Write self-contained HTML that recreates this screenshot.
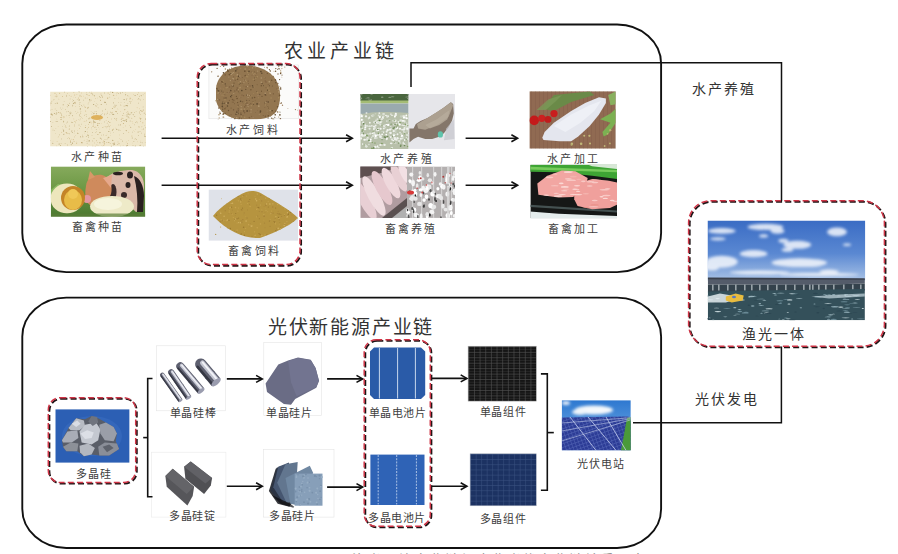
<!DOCTYPE html>
<html lang="zh-CN"><head><meta charset="utf-8"><style>
html,body{margin:0;padding:0;background:#fff;width:898px;height:554px;overflow:hidden}
svg{display:block;font-family:"Liberation Sans",sans-serif}
</style></head><body>
<svg width="898" height="554" viewBox="0 0 898 554">
<defs><clipPath id="c1"><rect x="50.1" y="91.5" width="95.9" height="55.099999999999994"/></clipPath><clipPath id="c2"><rect x="50.8" y="166.4" width="94.50000000000001" height="50.29999999999998"/></clipPath><linearGradient id="grass" x1="0" y1="0" x2="0" y2="1"><stop offset="0" stop-color="#86aa5c"/><stop offset="0.5" stop-color="#6a9642"/><stop offset="1" stop-color="#4a7830"/></linearGradient><clipPath id="c3"><rect x="208.4" y="64.4" width="90.4" height="54.8"/></clipPath><clipPath id="c4"><rect x="208.5" y="189.4" width="89.80000000000001" height="51.400000000000006"/></clipPath><clipPath id="pile2"><path d="M213,216 C220,207 236,196 246,192 C252,190 258,191 264,195 C276,202 290,210 298,218 C290,226 272,234 260,238 C246,239 228,232 213,216 Z"/></clipPath><clipPath id="c5"><rect x="360.3" y="94" width="94.80000000000001" height="54.900000000000006"/></clipPath><clipPath id="c6"><rect x="360.3" y="166.4" width="94.69999999999999" height="51.5"/></clipPath><clipPath id="c7"><rect x="529.4" y="91.2" width="86.30000000000007" height="57.499999999999986"/></clipPath><clipPath id="c8"><rect x="530.4" y="164.7" width="86.60000000000002" height="53.5"/></clipPath><clipPath id="meat"><polygon points="537.3,183.5 547.4,175.7 561.9,170.6 575.4,171.2 587.7,177.9 585.4,188.0 573.1,196.9 558.6,197.5 538.4,194.7"/><polygon points="574.2,193.6 580.9,182.4 592.1,179.0 608.9,180.7 617.0,182.4 617.0,204.8 610.0,208.1 592.1,209.2 577.6,205.9 574.2,199.2"/></clipPath><linearGradient id="sky1" x1="0" y1="0" x2="0" y2="1"><stop offset="0" stop-color="#3a6cc4"/><stop offset="0.55" stop-color="#5a88d2"/><stop offset="1" stop-color="#a8c2e6"/></linearGradient><filter id="bl1" x="-20%" y="-50%" width="140%" height="200%"><feGaussianBlur stdDeviation="1.8"/></filter><clipPath id="c9"><rect x="707.5" y="220.5" width="157.79999999999995" height="99.80000000000001"/></clipPath><clipPath id="c10"><rect x="55.3" y="409.2" width="74.3" height="53.60000000000002"/></clipPath><pattern id="mono" x="468.3" y="346.4" width="5.65" height="5.45" patternUnits="userSpaceOnUse"><rect width="5.65" height="5.45" fill="#151515"/><rect x="0" y="0" width="5.65" height="0.6" fill="#505050"/><rect x="0" y="2.7" width="5.65" height="0.4" fill="#3a3a3a"/><rect x="0" y="0" width="0.6" height="5.45" fill="#505050"/></pattern><clipPath id="c11"><rect x="561.7" y="400.2" width="69.09999999999991" height="50.19999999999999"/></clipPath><linearGradient id="sky2" x1="0" y1="0" x2="0" y2="1"><stop offset="0" stop-color="#2e78d0"/><stop offset="1" stop-color="#7cb4e8"/></linearGradient><pattern id="pv" x="0" y="0" width="3.5" height="3.5" patternUnits="userSpaceOnUse" patternTransform="rotate(-20)"><rect width="3.5" height="3.5" fill="#2c3c96"/><rect width="3.5" height="0.5" fill="#5668b8"/><rect width="0.5" height="3.5" fill="#5668b8"/></pattern><pattern id="poly" x="470.2" y="453.9" width="5.5" height="5.2" patternUnits="userSpaceOnUse"><rect width="5.5" height="5.2" fill="#1c3262"/><rect width="5.5" height="0.5" fill="#3a5282"/><rect width="0.5" height="5.2" fill="#3a5282"/></pattern></defs>
<rect width="898" height="554" fill="#fff"/>
<g clip-path="url(#c1)"><rect x="50.1" y="91.5" width="95.9" height="55.1" fill="#efe6ca"/><circle cx="93.4" cy="122.3" r="0.53" fill="#d4bc88"/><circle cx="93.4" cy="138.6" r="0.31" fill="#d4bc88"/><circle cx="110.5" cy="135.2" r="0.28" fill="#c4ac78"/><circle cx="63.6" cy="121.2" r="0.52" fill="#b8a470"/><circle cx="107.2" cy="113.3" r="0.39" fill="#a89460"/><circle cx="109.8" cy="137.3" r="0.27" fill="#b8a470"/><circle cx="68.3" cy="104.8" r="0.26" fill="#d4bc88"/><circle cx="81.3" cy="124.1" r="0.31" fill="#a89460"/><circle cx="111.5" cy="119.0" r="0.45" fill="#d4bc88"/><circle cx="112.9" cy="113.9" r="0.42" fill="#b8a470"/><circle cx="117.9" cy="108.9" r="0.32" fill="#c4ac78"/><circle cx="52.9" cy="122.5" r="0.28" fill="#b8a470"/><circle cx="131.3" cy="112.8" r="0.54" fill="#b8a470"/><circle cx="70.5" cy="142.6" r="0.27" fill="#d4bc88"/><circle cx="144.1" cy="113.4" r="0.27" fill="#a89460"/><circle cx="124.7" cy="106.4" r="0.28" fill="#c4ac78"/><circle cx="51.5" cy="114.1" r="0.53" fill="#a89460"/><circle cx="73.7" cy="97.1" r="0.27" fill="#d4bc88"/><circle cx="67.1" cy="122.3" r="0.38" fill="#a89460"/><circle cx="144.6" cy="133.9" r="0.38" fill="#d4bc88"/><circle cx="61.2" cy="114.7" r="0.31" fill="#c4ac78"/><circle cx="133.0" cy="145.2" r="0.43" fill="#b8a470"/><circle cx="70.2" cy="113.2" r="0.51" fill="#b8a470"/><circle cx="54.0" cy="99.6" r="0.38" fill="#b8a470"/><circle cx="124.2" cy="109.6" r="0.34" fill="#b8a470"/><circle cx="57.1" cy="103.0" r="0.44" fill="#b8a470"/><circle cx="107.7" cy="112.0" r="0.39" fill="#d4bc88"/><circle cx="129.9" cy="99.0" r="0.37" fill="#a89460"/><circle cx="79.8" cy="104.1" r="0.43" fill="#a89460"/><circle cx="65.2" cy="126.2" r="0.42" fill="#d4bc88"/><circle cx="134.7" cy="124.8" r="0.38" fill="#b8a470"/><circle cx="60.5" cy="119.7" r="0.33" fill="#d4bc88"/><circle cx="74.7" cy="136.9" r="0.43" fill="#c4ac78"/><circle cx="99.9" cy="142.7" r="0.54" fill="#a89460"/><circle cx="71.9" cy="122.3" r="0.51" fill="#b8a470"/><circle cx="76.9" cy="142.0" r="0.31" fill="#b8a470"/><circle cx="56.6" cy="114.2" r="0.32" fill="#b8a470"/><circle cx="66.9" cy="111.8" r="0.42" fill="#a89460"/><circle cx="58.9" cy="99.1" r="0.39" fill="#c4ac78"/><circle cx="113.1" cy="129.6" r="0.43" fill="#a89460"/><circle cx="106.6" cy="142.4" r="0.39" fill="#c4ac78"/><circle cx="117.3" cy="144.5" r="0.26" fill="#b8a470"/><circle cx="96.3" cy="131.8" r="0.35" fill="#b8a470"/><circle cx="57.2" cy="121.6" r="0.47" fill="#a89460"/><circle cx="126.2" cy="141.9" r="0.36" fill="#d4bc88"/><circle cx="136.5" cy="139.5" r="0.38" fill="#b8a470"/><circle cx="132.9" cy="123.1" r="0.44" fill="#d4bc88"/><circle cx="86.4" cy="92.2" r="0.27" fill="#b8a470"/><circle cx="111.4" cy="146.2" r="0.51" fill="#c4ac78"/><circle cx="87.3" cy="132.0" r="0.42" fill="#d4bc88"/><circle cx="94.4" cy="121.3" r="0.41" fill="#b8a470"/><circle cx="79.8" cy="96.3" r="0.26" fill="#b8a470"/><circle cx="97.7" cy="125.4" r="0.53" fill="#c4ac78"/><circle cx="136.1" cy="111.8" r="0.29" fill="#a89460"/><circle cx="99.8" cy="133.0" r="0.35" fill="#d4bc88"/><circle cx="97.8" cy="104.8" r="0.37" fill="#c4ac78"/><circle cx="69.1" cy="115.2" r="0.49" fill="#a89460"/><circle cx="134.5" cy="112.7" r="0.42" fill="#c4ac78"/><circle cx="70.1" cy="98.9" r="0.36" fill="#b8a470"/><circle cx="118.3" cy="143.8" r="0.33" fill="#a89460"/><circle cx="60.8" cy="117.5" r="0.53" fill="#d4bc88"/><circle cx="86.7" cy="120.2" r="0.45" fill="#d4bc88"/><circle cx="80.8" cy="137.2" r="0.33" fill="#b8a470"/><circle cx="115.1" cy="107.0" r="0.36" fill="#b8a470"/><circle cx="111.5" cy="113.8" r="0.31" fill="#c4ac78"/><circle cx="72.8" cy="99.3" r="0.26" fill="#b8a470"/><circle cx="92.9" cy="126.2" r="0.45" fill="#c4ac78"/><circle cx="142.0" cy="129.2" r="0.31" fill="#d4bc88"/><circle cx="74.6" cy="130.9" r="0.48" fill="#b8a470"/><circle cx="67.2" cy="106.5" r="0.35" fill="#a89460"/><circle cx="87.8" cy="135.1" r="0.52" fill="#b8a470"/><circle cx="89.4" cy="140.7" r="0.37" fill="#d4bc88"/><circle cx="93.5" cy="126.0" r="0.52" fill="#d4bc88"/><circle cx="102.8" cy="127.5" r="0.40" fill="#c4ac78"/><circle cx="94.5" cy="127.4" r="0.31" fill="#b8a470"/><circle cx="70.5" cy="141.1" r="0.54" fill="#c4ac78"/><circle cx="101.5" cy="135.1" r="0.35" fill="#b8a470"/><circle cx="83.5" cy="96.1" r="0.38" fill="#d4bc88"/><circle cx="123.8" cy="118.4" r="0.26" fill="#b8a470"/><circle cx="91.2" cy="93.4" r="0.41" fill="#a89460"/><circle cx="95.2" cy="146.6" r="0.52" fill="#d4bc88"/><circle cx="140.8" cy="118.6" r="0.53" fill="#b8a470"/><circle cx="122.8" cy="115.7" r="0.42" fill="#a89460"/><circle cx="100.2" cy="138.0" r="0.42" fill="#c4ac78"/><circle cx="114.4" cy="144.1" r="0.51" fill="#a89460"/><circle cx="79.2" cy="99.3" r="0.41" fill="#c4ac78"/><circle cx="105.0" cy="102.6" r="0.41" fill="#b8a470"/><circle cx="108.1" cy="93.0" r="0.54" fill="#d4bc88"/><circle cx="102.2" cy="146.0" r="0.29" fill="#b8a470"/><circle cx="116.3" cy="95.1" r="0.41" fill="#d4bc88"/><circle cx="138.4" cy="135.6" r="0.37" fill="#a89460"/><circle cx="95.4" cy="98.5" r="0.38" fill="#d4bc88"/><circle cx="100.4" cy="97.5" r="0.38" fill="#b8a470"/><circle cx="138.8" cy="98.6" r="0.48" fill="#b8a470"/><circle cx="53.4" cy="100.1" r="0.25" fill="#c4ac78"/><circle cx="80.9" cy="111.1" r="0.44" fill="#b8a470"/><circle cx="98.0" cy="123.6" r="0.51" fill="#c4ac78"/><circle cx="118.9" cy="130.1" r="0.51" fill="#b8a470"/><circle cx="86.1" cy="114.3" r="0.41" fill="#a89460"/><circle cx="101.7" cy="139.1" r="0.41" fill="#a89460"/><circle cx="100.8" cy="138.4" r="0.43" fill="#a89460"/><circle cx="72.3" cy="132.3" r="0.49" fill="#a89460"/><circle cx="80.3" cy="108.9" r="0.53" fill="#a89460"/><circle cx="124.7" cy="102.2" r="0.28" fill="#a89460"/><circle cx="62.7" cy="96.4" r="0.37" fill="#d4bc88"/><circle cx="129.9" cy="114.7" r="0.49" fill="#a89460"/><circle cx="69.3" cy="126.1" r="0.49" fill="#b8a470"/><circle cx="69.3" cy="129.1" r="0.52" fill="#c4ac78"/><circle cx="61.1" cy="119.4" r="0.48" fill="#a89460"/><circle cx="127.1" cy="118.1" r="0.26" fill="#d4bc88"/><circle cx="64.1" cy="101.7" r="0.31" fill="#a89460"/><circle cx="145.1" cy="142.6" r="0.28" fill="#b8a470"/><circle cx="62.9" cy="129.0" r="0.27" fill="#b8a470"/><circle cx="81.4" cy="117.2" r="0.40" fill="#d4bc88"/><circle cx="70.2" cy="112.1" r="0.44" fill="#b8a470"/><circle cx="131.0" cy="101.5" r="0.39" fill="#c4ac78"/><circle cx="88.9" cy="102.3" r="0.30" fill="#b8a470"/><circle cx="81.1" cy="96.2" r="0.50" fill="#d4bc88"/><circle cx="104.7" cy="102.0" r="0.43" fill="#c4ac78"/><circle cx="127.3" cy="105.7" r="0.52" fill="#a89460"/><circle cx="128.2" cy="113.9" r="0.52" fill="#c4ac78"/><circle cx="123.7" cy="133.7" r="0.37" fill="#a89460"/><circle cx="56.8" cy="110.3" r="0.39" fill="#b8a470"/><circle cx="135.3" cy="146.1" r="0.52" fill="#b8a470"/><circle cx="72.3" cy="143.6" r="0.45" fill="#c4ac78"/><circle cx="70.7" cy="113.9" r="0.30" fill="#b8a470"/><circle cx="87.4" cy="146.6" r="0.44" fill="#b8a470"/><circle cx="123.1" cy="145.5" r="0.26" fill="#b8a470"/><circle cx="120.9" cy="105.6" r="0.37" fill="#b8a470"/><circle cx="123.1" cy="127.2" r="0.25" fill="#c4ac78"/><circle cx="74.1" cy="141.4" r="0.42" fill="#d4bc88"/><circle cx="142.8" cy="122.8" r="0.55" fill="#d4bc88"/><circle cx="127.7" cy="95.7" r="0.43" fill="#b8a470"/><circle cx="87.1" cy="143.2" r="0.37" fill="#a89460"/><circle cx="132.1" cy="121.4" r="0.43" fill="#d4bc88"/><circle cx="140.7" cy="114.7" r="0.41" fill="#c4ac78"/><circle cx="85.1" cy="107.2" r="0.45" fill="#c4ac78"/><circle cx="113.7" cy="132.7" r="0.26" fill="#a89460"/><circle cx="106.2" cy="126.4" r="0.37" fill="#d4bc88"/><circle cx="55.1" cy="108.9" r="0.37" fill="#c4ac78"/><circle cx="57.1" cy="141.4" r="0.38" fill="#d4bc88"/><circle cx="74.1" cy="133.1" r="0.26" fill="#b8a470"/><circle cx="140.0" cy="131.3" r="0.39" fill="#a89460"/><circle cx="107.9" cy="97.8" r="0.44" fill="#d4bc88"/><circle cx="61.3" cy="138.9" r="0.36" fill="#a89460"/><circle cx="61.9" cy="115.9" r="0.45" fill="#d4bc88"/><circle cx="107.7" cy="126.7" r="0.45" fill="#c4ac78"/><circle cx="124.7" cy="120.7" r="0.55" fill="#c4ac78"/><circle cx="120.5" cy="104.6" r="0.28" fill="#c4ac78"/><circle cx="125.3" cy="125.9" r="0.36" fill="#c4ac78"/><circle cx="108.5" cy="131.5" r="0.46" fill="#a89460"/><circle cx="110.8" cy="133.0" r="0.31" fill="#a89460"/><circle cx="98.2" cy="127.5" r="0.31" fill="#b8a470"/><circle cx="110.3" cy="92.0" r="0.33" fill="#b8a470"/><circle cx="109.8" cy="97.1" r="0.41" fill="#b8a470"/><circle cx="122.6" cy="141.8" r="0.30" fill="#a89460"/><circle cx="110.6" cy="112.1" r="0.39" fill="#a89460"/><circle cx="82.5" cy="118.7" r="0.29" fill="#b8a470"/><circle cx="127.0" cy="116.1" r="0.50" fill="#a89460"/><circle cx="92.7" cy="132.7" r="0.37" fill="#a89460"/><circle cx="85.4" cy="127.5" r="0.55" fill="#c4ac78"/><circle cx="77.9" cy="133.3" r="0.50" fill="#a89460"/><circle cx="91.1" cy="111.8" r="0.28" fill="#c4ac78"/><circle cx="57.5" cy="96.1" r="0.42" fill="#d4bc88"/><circle cx="128.3" cy="117.0" r="0.50" fill="#b8a470"/><circle cx="57.3" cy="103.3" r="0.45" fill="#b8a470"/><circle cx="116.7" cy="118.8" r="0.48" fill="#c4ac78"/><circle cx="77.2" cy="99.4" r="0.36" fill="#c4ac78"/><circle cx="85.2" cy="98.0" r="0.46" fill="#c4ac78"/><circle cx="92.0" cy="135.7" r="0.34" fill="#c4ac78"/><circle cx="71.2" cy="144.8" r="0.47" fill="#a89460"/><circle cx="58.1" cy="137.2" r="0.26" fill="#d4bc88"/><circle cx="106.1" cy="135.4" r="0.47" fill="#c4ac78"/><circle cx="126.5" cy="121.3" r="0.50" fill="#a89460"/><circle cx="67.0" cy="133.3" r="0.51" fill="#c4ac78"/><circle cx="127.9" cy="103.7" r="0.27" fill="#a89460"/><circle cx="104.5" cy="144.7" r="0.45" fill="#d4bc88"/><circle cx="56.1" cy="121.6" r="0.49" fill="#b8a470"/><circle cx="82.1" cy="106.6" r="0.28" fill="#c4ac78"/><circle cx="58.1" cy="126.4" r="0.29" fill="#d4bc88"/><circle cx="73.6" cy="103.6" r="0.48" fill="#c4ac78"/><circle cx="123.4" cy="113.2" r="0.35" fill="#c4ac78"/><circle cx="114.5" cy="118.7" r="0.41" fill="#b8a470"/><circle cx="118.0" cy="141.9" r="0.37" fill="#c4ac78"/><circle cx="131.9" cy="135.9" r="0.50" fill="#d4bc88"/><circle cx="141.9" cy="126.8" r="0.41" fill="#b8a470"/><circle cx="127.0" cy="114.7" r="0.38" fill="#a89460"/><circle cx="73.6" cy="100.4" r="0.44" fill="#a89460"/><circle cx="80.8" cy="113.0" r="0.41" fill="#c4ac78"/><circle cx="143.1" cy="94.8" r="0.34" fill="#b8a470"/><circle cx="79.1" cy="100.1" r="0.53" fill="#b8a470"/><circle cx="122.3" cy="92.4" r="0.39" fill="#b8a470"/><circle cx="80.0" cy="102.4" r="0.36" fill="#a89460"/><circle cx="107.6" cy="117.5" r="0.40" fill="#d4bc88"/><circle cx="67.8" cy="107.0" r="0.30" fill="#c4ac78"/><circle cx="110.2" cy="143.4" r="0.42" fill="#c4ac78"/><circle cx="96.5" cy="113.7" r="0.54" fill="#b8a470"/><circle cx="96.3" cy="103.7" r="0.26" fill="#a89460"/><circle cx="126.9" cy="112.7" r="0.41" fill="#c4ac78"/><circle cx="125.6" cy="94.7" r="0.53" fill="#b8a470"/><circle cx="133.9" cy="141.4" r="0.39" fill="#a89460"/><circle cx="118.5" cy="124.9" r="0.30" fill="#a89460"/><circle cx="124.1" cy="99.5" r="0.52" fill="#a89460"/><circle cx="111.1" cy="146.2" r="0.33" fill="#b8a470"/><circle cx="64.5" cy="133.9" r="0.25" fill="#a89460"/><circle cx="128.9" cy="96.0" r="0.33" fill="#b8a470"/><circle cx="135.4" cy="129.7" r="0.27" fill="#c4ac78"/><circle cx="51.8" cy="101.8" r="0.31" fill="#b8a470"/><circle cx="125.0" cy="115.8" r="0.26" fill="#d4bc88"/><circle cx="100.5" cy="100.2" r="0.50" fill="#c4ac78"/><circle cx="80.3" cy="113.8" r="0.42" fill="#d4bc88"/><circle cx="114.0" cy="95.2" r="0.27" fill="#a89460"/><circle cx="60.2" cy="113.2" r="0.39" fill="#b8a470"/><circle cx="112.8" cy="92.2" r="0.36" fill="#d4bc88"/><circle cx="72.8" cy="122.6" r="0.39" fill="#b8a470"/><circle cx="132.2" cy="138.0" r="0.47" fill="#a89460"/><circle cx="77.9" cy="112.2" r="0.41" fill="#c4ac78"/><circle cx="141.6" cy="133.1" r="0.42" fill="#b8a470"/><circle cx="74.6" cy="102.5" r="0.47" fill="#c4ac78"/><circle cx="79.7" cy="106.6" r="0.39" fill="#c4ac78"/><circle cx="92.9" cy="112.6" r="0.28" fill="#b8a470"/><circle cx="62.6" cy="126.2" r="0.30" fill="#a89460"/><circle cx="88.6" cy="137.6" r="0.43" fill="#b8a470"/><circle cx="59.6" cy="93.3" r="0.55" fill="#d4bc88"/><circle cx="89.1" cy="95.5" r="0.53" fill="#d4bc88"/><circle cx="139.0" cy="99.2" r="0.31" fill="#a89460"/><circle cx="128.8" cy="112.8" r="0.35" fill="#d4bc88"/><circle cx="109.8" cy="131.6" r="0.43" fill="#c4ac78"/><circle cx="144.3" cy="135.0" r="0.45" fill="#b8a470"/><circle cx="75.0" cy="101.9" r="0.34" fill="#d4bc88"/><circle cx="60.2" cy="112.3" r="0.40" fill="#c4ac78"/><circle cx="129.2" cy="125.2" r="0.30" fill="#c4ac78"/><circle cx="102.6" cy="110.9" r="0.40" fill="#a89460"/><circle cx="105.1" cy="102.4" r="0.53" fill="#a89460"/><circle cx="104.5" cy="93.0" r="0.45" fill="#b8a470"/><circle cx="63.1" cy="117.8" r="0.38" fill="#c4ac78"/><circle cx="81.6" cy="142.7" r="0.36" fill="#d4bc88"/><circle cx="134.8" cy="116.4" r="0.47" fill="#a89460"/><circle cx="136.8" cy="121.4" r="0.42" fill="#c4ac78"/><circle cx="66.2" cy="132.6" r="0.52" fill="#c4ac78"/><circle cx="107.7" cy="98.3" r="0.50" fill="#c4ac78"/><circle cx="115.8" cy="111.5" r="0.48" fill="#c4ac78"/><circle cx="129.8" cy="101.7" r="0.41" fill="#b8a470"/><circle cx="93.6" cy="113.7" r="0.48" fill="#a89460"/><circle cx="79.5" cy="128.5" r="0.47" fill="#d4bc88"/><circle cx="109.1" cy="126.8" r="0.48" fill="#a89460"/><circle cx="69.2" cy="117.3" r="0.29" fill="#d4bc88"/><circle cx="61.4" cy="113.9" r="0.35" fill="#a89460"/><circle cx="75.3" cy="122.8" r="0.35" fill="#b8a470"/><circle cx="119.3" cy="134.9" r="0.37" fill="#d4bc88"/><circle cx="107.6" cy="117.4" r="0.37" fill="#d4bc88"/><circle cx="122.2" cy="118.3" r="0.55" fill="#d4bc88"/><circle cx="129.2" cy="98.0" r="0.28" fill="#c4ac78"/><circle cx="100.4" cy="115.3" r="0.52" fill="#c4ac78"/><circle cx="137.1" cy="107.8" r="0.43" fill="#d4bc88"/><circle cx="120.3" cy="124.4" r="0.48" fill="#c4ac78"/><circle cx="134.7" cy="139.8" r="0.32" fill="#d4bc88"/><circle cx="73.3" cy="139.6" r="0.54" fill="#d4bc88"/><circle cx="116.7" cy="120.5" r="0.32" fill="#c4ac78"/><circle cx="113.1" cy="143.3" r="0.51" fill="#c4ac78"/><circle cx="133.2" cy="114.7" r="0.49" fill="#a89460"/><circle cx="112.4" cy="114.7" r="0.29" fill="#b8a470"/><circle cx="59.5" cy="135.2" r="0.29" fill="#d4bc88"/><circle cx="50.1" cy="104.9" r="0.34" fill="#c4ac78"/><circle cx="66.5" cy="115.8" r="0.39" fill="#d4bc88"/><circle cx="63.6" cy="129.6" r="0.32" fill="#c4ac78"/><circle cx="53.0" cy="141.0" r="0.34" fill="#d4bc88"/><circle cx="63.7" cy="134.3" r="0.48" fill="#a89460"/><circle cx="69.5" cy="138.8" r="0.46" fill="#b8a470"/><circle cx="68.8" cy="137.7" r="0.36" fill="#d4bc88"/><circle cx="51.5" cy="126.5" r="0.46" fill="#a89460"/><circle cx="101.2" cy="104.5" r="0.53" fill="#b8a470"/><circle cx="112.4" cy="108.4" r="0.50" fill="#c4ac78"/><circle cx="133.5" cy="130.8" r="0.29" fill="#d4bc88"/><circle cx="89.9" cy="100.8" r="0.51" fill="#b8a470"/><circle cx="118.2" cy="102.3" r="0.30" fill="#a89460"/><circle cx="98.1" cy="107.8" r="0.33" fill="#b8a470"/><circle cx="106.6" cy="104.1" r="0.34" fill="#a89460"/><circle cx="114.0" cy="106.8" r="0.44" fill="#b8a470"/><circle cx="94.4" cy="95.7" r="0.53" fill="#b8a470"/><circle cx="101.0" cy="94.0" r="0.43" fill="#c4ac78"/><circle cx="101.6" cy="114.8" r="0.42" fill="#a89460"/><circle cx="77.4" cy="133.1" r="0.32" fill="#c4ac78"/><circle cx="120.5" cy="93.1" r="0.49" fill="#a89460"/><circle cx="144.8" cy="93.4" r="0.39" fill="#d4bc88"/><circle cx="50.3" cy="140.6" r="0.27" fill="#b8a470"/><circle cx="103.4" cy="127.0" r="0.36" fill="#d4bc88"/><circle cx="125.2" cy="120.0" r="0.40" fill="#a89460"/><circle cx="107.0" cy="134.0" r="0.28" fill="#d4bc88"/><circle cx="72.6" cy="115.8" r="0.48" fill="#a89460"/><circle cx="74.9" cy="121.5" r="0.51" fill="#d4bc88"/><circle cx="75.1" cy="102.7" r="0.54" fill="#b8a470"/><circle cx="105.0" cy="139.6" r="0.30" fill="#a89460"/><circle cx="108.4" cy="125.0" r="0.49" fill="#d4bc88"/><circle cx="119.4" cy="138.7" r="0.26" fill="#b8a470"/><circle cx="137.1" cy="122.8" r="0.41" fill="#a89460"/><circle cx="109.8" cy="94.5" r="0.38" fill="#c4ac78"/><circle cx="128.7" cy="132.2" r="0.48" fill="#d4bc88"/><circle cx="58.5" cy="136.7" r="0.30" fill="#c4ac78"/><circle cx="73.8" cy="118.9" r="0.45" fill="#d4bc88"/><circle cx="55.9" cy="114.1" r="0.36" fill="#a89460"/><circle cx="117.6" cy="144.2" r="0.29" fill="#a89460"/><circle cx="63.9" cy="116.6" r="0.47" fill="#b8a470"/><circle cx="50.3" cy="114.1" r="0.41" fill="#b8a470"/><circle cx="87.7" cy="107.9" r="0.38" fill="#b8a470"/><circle cx="143.3" cy="129.0" r="0.47" fill="#a89460"/><circle cx="78.4" cy="98.0" r="0.51" fill="#d4bc88"/><circle cx="94.3" cy="142.9" r="0.36" fill="#c4ac78"/><circle cx="140.9" cy="142.4" r="0.32" fill="#a89460"/><circle cx="88.7" cy="127.3" r="0.27" fill="#c4ac78"/><circle cx="104.5" cy="141.8" r="0.52" fill="#a89460"/><circle cx="94.4" cy="113.2" r="0.50" fill="#d4bc88"/><circle cx="86.4" cy="94.2" r="0.38" fill="#a89460"/><circle cx="67.6" cy="121.8" r="0.30" fill="#a89460"/><circle cx="88.4" cy="124.2" r="0.48" fill="#d4bc88"/><circle cx="92.9" cy="146.2" r="0.45" fill="#d4bc88"/><circle cx="69.6" cy="112.6" r="0.27" fill="#c4ac78"/><circle cx="84.8" cy="106.6" r="0.26" fill="#a89460"/><circle cx="121.2" cy="119.7" r="0.42" fill="#a89460"/><circle cx="75.8" cy="111.4" r="0.30" fill="#c4ac78"/><circle cx="63.2" cy="104.8" r="0.50" fill="#b8a470"/><circle cx="52.0" cy="109.2" r="0.37" fill="#b8a470"/><circle cx="132.0" cy="112.5" r="0.33" fill="#b8a470"/><circle cx="79.0" cy="125.0" r="0.40" fill="#a89460"/><circle cx="64.5" cy="124.3" r="0.26" fill="#c4ac78"/><circle cx="89.4" cy="117.9" r="0.46" fill="#c4ac78"/><circle cx="80.1" cy="116.4" r="0.36" fill="#a89460"/><circle cx="130.1" cy="121.0" r="0.38" fill="#a89460"/><circle cx="87.1" cy="139.2" r="0.32" fill="#c4ac78"/><circle cx="85.6" cy="125.2" r="0.29" fill="#b8a470"/><circle cx="121.7" cy="118.1" r="0.25" fill="#c4ac78"/><circle cx="113.4" cy="95.2" r="0.51" fill="#c4ac78"/><circle cx="114.0" cy="144.1" r="0.51" fill="#a89460"/><circle cx="125.2" cy="105.8" r="0.49" fill="#b8a470"/><circle cx="87.7" cy="94.8" r="0.37" fill="#c4ac78"/><circle cx="77.3" cy="130.3" r="0.32" fill="#d4bc88"/><circle cx="69.4" cy="133.8" r="0.36" fill="#a89460"/><circle cx="100.0" cy="132.4" r="0.52" fill="#a89460"/><circle cx="95.9" cy="105.7" r="0.51" fill="#c4ac78"/><circle cx="117.2" cy="92.8" r="0.37" fill="#c4ac78"/><circle cx="137.3" cy="141.8" r="0.33" fill="#d4bc88"/><circle cx="97.6" cy="123.8" r="0.39" fill="#c4ac78"/><circle cx="135.1" cy="95.5" r="0.26" fill="#c4ac78"/><circle cx="135.6" cy="122.7" r="0.33" fill="#a89460"/><circle cx="111.7" cy="112.7" r="0.35" fill="#c4ac78"/><circle cx="53.0" cy="130.5" r="0.31" fill="#b8a470"/><circle cx="110.2" cy="125.7" r="0.37" fill="#d4bc88"/><circle cx="56.1" cy="95.3" r="0.39" fill="#d4bc88"/><circle cx="86.7" cy="141.6" r="0.26" fill="#a89460"/><circle cx="115.6" cy="106.5" r="0.40" fill="#d4bc88"/><circle cx="143.8" cy="99.8" r="0.31" fill="#a89460"/><circle cx="74.8" cy="103.6" r="0.41" fill="#d4bc88"/><circle cx="50.3" cy="121.6" r="0.50" fill="#b8a470"/><circle cx="109.9" cy="122.4" r="0.50" fill="#c4ac78"/><circle cx="75.4" cy="97.2" r="0.26" fill="#a89460"/><circle cx="116.8" cy="129.3" r="0.54" fill="#a89460"/><circle cx="65.3" cy="125.8" r="0.40" fill="#c4ac78"/><circle cx="85.5" cy="107.2" r="0.47" fill="#d4bc88"/><circle cx="72.8" cy="105.2" r="0.35" fill="#a89460"/><circle cx="138.1" cy="132.1" r="0.51" fill="#b8a470"/><circle cx="128.5" cy="140.3" r="0.34" fill="#d4bc88"/><circle cx="99.2" cy="128.9" r="0.26" fill="#d4bc88"/><circle cx="133.5" cy="94.4" r="0.33" fill="#d4bc88"/><circle cx="74.3" cy="126.5" r="0.36" fill="#c4ac78"/><circle cx="67.6" cy="138.7" r="0.31" fill="#a89460"/><circle cx="104.5" cy="114.7" r="0.46" fill="#c4ac78"/><circle cx="126.9" cy="98.4" r="0.36" fill="#c4ac78"/><circle cx="72.2" cy="101.7" r="0.25" fill="#a89460"/><circle cx="75.7" cy="106.4" r="0.33" fill="#d4bc88"/><circle cx="87.1" cy="128.9" r="0.29" fill="#a89460"/><circle cx="118.5" cy="98.0" r="0.26" fill="#c4ac78"/><circle cx="84.2" cy="121.2" r="0.49" fill="#d4bc88"/><circle cx="81.7" cy="93.0" r="0.41" fill="#d4bc88"/><circle cx="66.4" cy="95.2" r="0.38" fill="#c4ac78"/><circle cx="71.5" cy="131.3" r="0.37" fill="#a89460"/><circle cx="144.2" cy="113.0" r="0.46" fill="#c4ac78"/><circle cx="126.8" cy="99.6" r="0.30" fill="#b8a470"/><circle cx="103.4" cy="140.9" r="0.51" fill="#d4bc88"/><circle cx="61.6" cy="109.3" r="0.26" fill="#a89460"/><circle cx="76.3" cy="113.5" r="0.35" fill="#b8a470"/><circle cx="96.3" cy="111.7" r="0.33" fill="#b8a470"/><circle cx="64.6" cy="91.9" r="0.48" fill="#b8a470"/><circle cx="50.4" cy="110.0" r="0.29" fill="#a89460"/><circle cx="145.2" cy="114.0" r="0.26" fill="#c4ac78"/><circle cx="127.5" cy="113.3" r="0.27" fill="#c4ac78"/><circle cx="76.6" cy="143.2" r="0.51" fill="#d4bc88"/><circle cx="104.8" cy="143.3" r="0.26" fill="#b8a470"/><circle cx="140.7" cy="121.2" r="0.45" fill="#c4ac78"/><circle cx="84.5" cy="133.0" r="0.34" fill="#d4bc88"/><circle cx="51.0" cy="103.1" r="0.54" fill="#b8a470"/><circle cx="123.6" cy="106.1" r="0.32" fill="#d4bc88"/><circle cx="88.3" cy="135.7" r="0.50" fill="#b8a470"/><circle cx="139.9" cy="118.1" r="0.50" fill="#d4bc88"/><circle cx="74.0" cy="141.6" r="0.26" fill="#a89460"/><circle cx="71.8" cy="112.9" r="0.36" fill="#c4ac78"/><circle cx="127.8" cy="111.6" r="0.44" fill="#c4ac78"/><circle cx="80.0" cy="95.2" r="0.45" fill="#b8a470"/><circle cx="75.4" cy="103.3" r="0.30" fill="#b8a470"/><circle cx="121.3" cy="121.6" r="0.45" fill="#a89460"/><circle cx="83.4" cy="100.1" r="0.36" fill="#a89460"/><circle cx="91.4" cy="92.0" r="0.40" fill="#d4bc88"/><circle cx="59.1" cy="143.9" r="0.50" fill="#a89460"/><circle cx="52.0" cy="101.1" r="0.27" fill="#b8a470"/><circle cx="105.6" cy="109.2" r="0.39" fill="#a89460"/><circle cx="97.9" cy="134.5" r="0.52" fill="#c4ac78"/><circle cx="56.7" cy="113.0" r="0.53" fill="#a89460"/><circle cx="124.7" cy="120.4" r="0.25" fill="#d4bc88"/><circle cx="137.5" cy="94.5" r="0.43" fill="#c4ac78"/><circle cx="135.2" cy="138.7" r="0.44" fill="#b8a470"/><circle cx="61.7" cy="132.2" r="0.47" fill="#d4bc88"/><circle cx="113.9" cy="114.6" r="0.37" fill="#a89460"/><circle cx="86.0" cy="121.3" r="0.26" fill="#b8a470"/><circle cx="100.7" cy="116.4" r="0.34" fill="#b8a470"/><circle cx="107.1" cy="142.8" r="0.30" fill="#d4bc88"/><circle cx="81.5" cy="105.6" r="0.44" fill="#a89460"/><circle cx="120.7" cy="146.0" r="0.37" fill="#a89460"/><circle cx="122.3" cy="140.9" r="0.28" fill="#a89460"/><circle cx="130.7" cy="127.3" r="0.53" fill="#b8a470"/><circle cx="126.6" cy="119.7" r="0.55" fill="#b8a470"/><circle cx="67.8" cy="93.6" r="0.35" fill="#c4ac78"/><circle cx="93.6" cy="121.1" r="0.51" fill="#a89460"/><circle cx="96.9" cy="144.5" r="0.32" fill="#b8a470"/><circle cx="103.3" cy="134.9" r="0.40" fill="#a89460"/><circle cx="56.9" cy="118.9" r="0.27" fill="#b8a470"/><circle cx="126.5" cy="99.9" r="0.36" fill="#b8a470"/><circle cx="82.0" cy="142.7" r="0.54" fill="#a89460"/><circle cx="130.1" cy="98.0" r="0.30" fill="#d4bc88"/><circle cx="53.0" cy="129.1" r="0.39" fill="#d4bc88"/><circle cx="56.9" cy="145.9" r="0.31" fill="#c4ac78"/><circle cx="134.2" cy="131.6" r="0.31" fill="#d4bc88"/><circle cx="86.3" cy="136.5" r="0.46" fill="#c4ac78"/><circle cx="113.2" cy="103.0" r="0.31" fill="#a89460"/><circle cx="66.5" cy="123.5" r="0.26" fill="#c4ac78"/><circle cx="61.1" cy="143.4" r="0.43" fill="#c4ac78"/><circle cx="79.5" cy="91.9" r="0.27" fill="#a89460"/><circle cx="120.7" cy="111.4" r="0.34" fill="#d4bc88"/><circle cx="69.2" cy="95.4" r="0.33" fill="#c4ac78"/><circle cx="128.7" cy="114.0" r="0.39" fill="#b8a470"/><circle cx="140.4" cy="110.6" r="0.46" fill="#a89460"/><circle cx="97.3" cy="98.0" r="0.29" fill="#c4ac78"/><circle cx="141.4" cy="95.8" r="0.44" fill="#a89460"/><circle cx="139.6" cy="112.9" r="0.47" fill="#a89460"/><circle cx="93.0" cy="95.0" r="0.38" fill="#c4ac78"/><circle cx="106.1" cy="127.8" r="0.33" fill="#b8a470"/><circle cx="114.5" cy="105.0" r="0.37" fill="#a89460"/><circle cx="107.0" cy="139.2" r="0.37" fill="#c4ac78"/><circle cx="82.8" cy="136.7" r="0.51" fill="#b8a470"/><circle cx="102.4" cy="97.0" r="0.52" fill="#b8a470"/><circle cx="125.8" cy="92.4" r="0.26" fill="#c4ac78"/><circle cx="145.0" cy="136.4" r="0.51" fill="#a89460"/><circle cx="95.0" cy="111.4" r="0.39" fill="#c4ac78"/><circle cx="96.0" cy="127.4" r="0.27" fill="#a89460"/><circle cx="143.7" cy="146.2" r="0.37" fill="#a89460"/><circle cx="112.4" cy="130.1" r="0.55" fill="#b8a470"/><circle cx="146.0" cy="127.7" r="0.49" fill="#a89460"/><circle cx="99.7" cy="123.7" r="0.40" fill="#a89460"/><circle cx="99.5" cy="96.8" r="0.49" fill="#b8a470"/><circle cx="66.0" cy="127.3" r="0.44" fill="#c4ac78"/><circle cx="113.7" cy="144.9" r="0.39" fill="#b8a470"/><circle cx="91.6" cy="100.1" r="0.36" fill="#c4ac78"/><circle cx="140.7" cy="140.9" r="0.26" fill="#c4ac78"/><circle cx="89.6" cy="122.4" r="0.54" fill="#b8a470"/><circle cx="78.9" cy="119.5" r="0.29" fill="#a89460"/><circle cx="62.5" cy="96.4" r="0.40" fill="#c4ac78"/><circle cx="83.9" cy="105.0" r="0.43" fill="#d4bc88"/><circle cx="55.2" cy="103.5" r="0.39" fill="#b8a470"/><circle cx="94.1" cy="138.4" r="0.28" fill="#a89460"/><circle cx="63.8" cy="122.6" r="0.30" fill="#b8a470"/><circle cx="89.7" cy="92.1" r="0.30" fill="#b8a470"/><circle cx="120.5" cy="130.8" r="0.30" fill="#b8a470"/><circle cx="88.9" cy="118.7" r="0.52" fill="#b8a470"/><circle cx="87.4" cy="108.0" r="0.31" fill="#b8a470"/><circle cx="113.1" cy="114.6" r="0.52" fill="#a89460"/><circle cx="112.8" cy="140.4" r="0.53" fill="#b8a470"/><circle cx="87.9" cy="108.0" r="0.47" fill="#c4ac78"/><circle cx="71.1" cy="96.2" r="0.49" fill="#d4bc88"/><circle cx="84.4" cy="115.2" r="0.39" fill="#b8a470"/><circle cx="79.9" cy="120.8" r="0.30" fill="#d4bc88"/><circle cx="102.6" cy="113.5" r="0.32" fill="#b8a470"/><circle cx="118.5" cy="93.3" r="0.36" fill="#a89460"/><circle cx="99.9" cy="120.5" r="0.47" fill="#c4ac78"/><circle cx="89.0" cy="144.7" r="0.25" fill="#c4ac78"/><circle cx="142.2" cy="111.6" r="0.43" fill="#c4ac78"/><circle cx="130.6" cy="103.1" r="0.48" fill="#b8a470"/><circle cx="80.3" cy="118.9" r="0.40" fill="#c4ac78"/><circle cx="55.1" cy="96.6" r="0.33" fill="#c4ac78"/><circle cx="127.5" cy="143.5" r="0.44" fill="#c4ac78"/><circle cx="88.6" cy="107.2" r="0.45" fill="#b8a470"/><circle cx="88.1" cy="103.9" r="0.33" fill="#b8a470"/><circle cx="80.5" cy="136.6" r="0.49" fill="#c4ac78"/><circle cx="55.4" cy="133.6" r="0.26" fill="#b8a470"/><circle cx="103.0" cy="142.6" r="0.44" fill="#b8a470"/><circle cx="109.2" cy="129.1" r="0.31" fill="#b8a470"/><circle cx="129.1" cy="117.9" r="0.35" fill="#b8a470"/><circle cx="66.6" cy="96.1" r="0.46" fill="#a89460"/><circle cx="86.3" cy="116.2" r="0.38" fill="#b8a470"/><circle cx="92.7" cy="140.9" r="0.47" fill="#b8a470"/><circle cx="141.8" cy="111.1" r="0.50" fill="#b8a470"/><circle cx="117.5" cy="113.4" r="0.46" fill="#b8a470"/><circle cx="138.5" cy="103.1" r="0.37" fill="#a89460"/><circle cx="130.6" cy="98.3" r="0.51" fill="#d4bc88"/><circle cx="89.1" cy="140.9" r="0.53" fill="#a89460"/><circle cx="114.7" cy="142.6" r="0.40" fill="#d4bc88"/><circle cx="99.1" cy="118.0" r="0.41" fill="#a89460"/><circle cx="124.2" cy="109.4" r="0.25" fill="#a89460"/><circle cx="112.5" cy="112.3" r="0.49" fill="#d4bc88"/><circle cx="93.5" cy="123.9" r="0.39" fill="#a89460"/><circle cx="96.1" cy="145.5" r="0.35" fill="#d4bc88"/><circle cx="72.4" cy="105.9" r="0.47" fill="#b8a470"/><circle cx="74.7" cy="95.0" r="0.50" fill="#d4bc88"/><circle cx="73.4" cy="103.3" r="0.52" fill="#b8a470"/><circle cx="103.7" cy="145.3" r="0.52" fill="#d4bc88"/><circle cx="87.1" cy="98.0" r="0.31" fill="#b8a470"/><circle cx="115.2" cy="119.1" r="0.30" fill="#c4ac78"/><circle cx="104.5" cy="121.9" r="0.35" fill="#a89460"/><circle cx="92.9" cy="145.0" r="0.36" fill="#c4ac78"/><circle cx="59.4" cy="134.7" r="0.32" fill="#a89460"/><circle cx="132.7" cy="132.1" r="0.35" fill="#a89460"/><circle cx="123.4" cy="123.6" r="0.52" fill="#c4ac78"/><circle cx="116.2" cy="111.6" r="0.54" fill="#c4ac78"/><circle cx="108.4" cy="137.3" r="0.54" fill="#b8a470"/><circle cx="73.9" cy="92.6" r="0.41" fill="#c4ac78"/><circle cx="114.1" cy="107.3" r="0.42" fill="#c4ac78"/><circle cx="96.5" cy="106.5" r="0.34" fill="#c4ac78"/><circle cx="140.6" cy="99.9" r="0.37" fill="#a89460"/><circle cx="108.5" cy="121.5" r="0.47" fill="#c4ac78"/><circle cx="79.4" cy="115.0" r="0.48" fill="#a89460"/><circle cx="96.2" cy="129.3" r="0.35" fill="#a89460"/><circle cx="140.6" cy="119.4" r="0.42" fill="#c4ac78"/><circle cx="135.0" cy="95.7" r="0.41" fill="#b8a470"/><circle cx="79.0" cy="91.6" r="0.53" fill="#b8a470"/><circle cx="68.7" cy="111.7" r="0.36" fill="#a89460"/><circle cx="55.9" cy="128.2" r="0.27" fill="#b8a470"/><circle cx="89.7" cy="99.4" r="0.52" fill="#b8a470"/><circle cx="91.9" cy="128.9" r="0.28" fill="#c4ac78"/><circle cx="108.8" cy="142.5" r="0.51" fill="#b8a470"/><circle cx="90.1" cy="118.3" r="0.27" fill="#d4bc88"/><circle cx="52.8" cy="143.3" r="0.52" fill="#b8a470"/><circle cx="62.9" cy="108.0" r="0.35" fill="#c4ac78"/><circle cx="140.1" cy="145.3" r="0.53" fill="#a89460"/><circle cx="132.4" cy="143.0" r="0.26" fill="#d4bc88"/><circle cx="126.4" cy="146.4" r="0.42" fill="#c4ac78"/><circle cx="139.6" cy="96.3" r="0.41" fill="#b8a470"/><circle cx="60.5" cy="107.9" r="0.34" fill="#b8a470"/><circle cx="89.8" cy="99.7" r="0.31" fill="#b8a470"/><circle cx="50.1" cy="95.2" r="0.49" fill="#d4bc88"/><circle cx="130.0" cy="114.0" r="0.35" fill="#c4ac78"/><circle cx="87.6" cy="141.0" r="0.32" fill="#b8a470"/><circle cx="106.2" cy="120.5" r="0.35" fill="#c4ac78"/><circle cx="93.7" cy="104.4" r="0.51" fill="#a89460"/><circle cx="69.3" cy="103.2" r="0.39" fill="#a89460"/><circle cx="125.2" cy="109.8" r="0.32" fill="#c4ac78"/><circle cx="107.2" cy="123.1" r="0.42" fill="#b8a470"/><circle cx="67.7" cy="104.3" r="0.34" fill="#c4ac78"/><circle cx="121.0" cy="102.8" r="0.26" fill="#a89460"/><circle cx="101.8" cy="95.8" r="0.48" fill="#a89460"/><circle cx="92.4" cy="94.0" r="0.42" fill="#a89460"/><circle cx="85.6" cy="111.1" r="0.52" fill="#d4bc88"/><circle cx="146.0" cy="114.6" r="0.45" fill="#a89460"/><circle cx="82.5" cy="135.1" r="0.36" fill="#c4ac78"/><circle cx="104.0" cy="143.5" r="0.27" fill="#b8a470"/><circle cx="55.0" cy="93.3" r="0.54" fill="#d4bc88"/><circle cx="137.8" cy="99.4" r="0.31" fill="#d4bc88"/><circle cx="142.2" cy="142.8" r="0.35" fill="#a89460"/><circle cx="63.6" cy="130.9" r="0.53" fill="#a89460"/><circle cx="72.8" cy="130.2" r="0.32" fill="#d4bc88"/><circle cx="85.3" cy="131.5" r="0.53" fill="#a89460"/><circle cx="140.1" cy="95.4" r="0.31" fill="#c4ac78"/><circle cx="114.9" cy="98.3" r="0.35" fill="#b8a470"/><circle cx="76.3" cy="120.3" r="0.49" fill="#d4bc88"/><circle cx="123.2" cy="120.5" r="0.53" fill="#b8a470"/><circle cx="112.7" cy="92.4" r="0.53" fill="#a89460"/><circle cx="65.4" cy="109.7" r="0.42" fill="#c4ac78"/><circle cx="96.4" cy="140.7" r="0.43" fill="#c4ac78"/><circle cx="107.9" cy="138.1" r="0.39" fill="#a89460"/><circle cx="64.1" cy="117.3" r="0.45" fill="#d4bc88"/><circle cx="123.2" cy="113.6" r="0.27" fill="#a89460"/><circle cx="54.4" cy="113.6" r="0.50" fill="#b8a470"/><circle cx="52.3" cy="114.9" r="0.54" fill="#b8a470"/><circle cx="94.6" cy="101.6" r="0.25" fill="#c4ac78"/><circle cx="143.3" cy="110.0" r="0.50" fill="#c4ac78"/><circle cx="116.0" cy="105.3" r="0.47" fill="#a89460"/><circle cx="84.2" cy="140.2" r="0.42" fill="#d4bc88"/><circle cx="91.2" cy="123.8" r="0.33" fill="#d4bc88"/><circle cx="72.4" cy="143.1" r="0.51" fill="#a89460"/><circle cx="95.0" cy="122.4" r="0.53" fill="#a89460"/><circle cx="139.6" cy="108.8" r="0.42" fill="#d4bc88"/><circle cx="65.1" cy="143.7" r="0.34" fill="#b8a470"/><circle cx="110.9" cy="91.7" r="0.39" fill="#b8a470"/><circle cx="97.7" cy="142.3" r="0.40" fill="#d4bc88"/><circle cx="115.8" cy="128.0" r="0.37" fill="#d4bc88"/><circle cx="105.1" cy="126.3" r="0.39" fill="#b8a470"/><circle cx="80.7" cy="126.7" r="0.27" fill="#a89460"/><circle cx="143.1" cy="106.9" r="0.38" fill="#b8a470"/><circle cx="76.9" cy="94.3" r="0.42" fill="#d4bc88"/><circle cx="126.6" cy="105.5" r="0.52" fill="#b8a470"/><circle cx="90.9" cy="122.1" r="0.53" fill="#d4bc88"/><circle cx="132.5" cy="99.8" r="0.34" fill="#c4ac78"/><circle cx="138.9" cy="127.1" r="0.46" fill="#d4bc88"/><circle cx="127.1" cy="145.4" r="0.53" fill="#a89460"/><circle cx="126.6" cy="130.7" r="0.49" fill="#a89460"/><circle cx="61.3" cy="117.7" r="0.46" fill="#b8a470"/><circle cx="138.3" cy="92.8" r="0.40" fill="#c4ac78"/><circle cx="95.2" cy="127.0" r="0.45" fill="#d4bc88"/><circle cx="139.5" cy="127.0" r="0.27" fill="#a89460"/><circle cx="60.5" cy="145.6" r="0.51" fill="#c4ac78"/><circle cx="74.4" cy="125.1" r="0.48" fill="#c4ac78"/><circle cx="144.6" cy="125.8" r="0.29" fill="#b8a470"/><circle cx="91.9" cy="114.0" r="0.37" fill="#b8a470"/><circle cx="104.6" cy="143.5" r="0.44" fill="#d4bc88"/><circle cx="71.6" cy="130.7" r="0.26" fill="#a89460"/><circle cx="98.0" cy="145.5" r="0.32" fill="#b8a470"/><circle cx="116.7" cy="119.9" r="0.34" fill="#c4ac78"/><circle cx="116.3" cy="93.0" r="0.33" fill="#b8a470"/><circle cx="81.7" cy="142.6" r="0.52" fill="#c4ac78"/><circle cx="101.2" cy="123.5" r="0.34" fill="#d4bc88"/><circle cx="124.3" cy="109.9" r="0.33" fill="#d4bc88"/><circle cx="56.3" cy="96.8" r="0.46" fill="#b8a470"/><circle cx="95.4" cy="132.5" r="0.32" fill="#a89460"/><circle cx="139.5" cy="111.6" r="0.38" fill="#d4bc88"/><circle cx="56.7" cy="94.4" r="0.36" fill="#d4bc88"/><circle cx="70.7" cy="142.2" r="0.49" fill="#b8a470"/><circle cx="61.7" cy="115.4" r="0.46" fill="#c4ac78"/><circle cx="106.3" cy="114.6" r="0.25" fill="#b8a470"/><circle cx="68.2" cy="133.7" r="0.27" fill="#a89460"/><circle cx="67.6" cy="144.9" r="0.49" fill="#c4ac78"/><circle cx="75.7" cy="135.4" r="0.26" fill="#b8a470"/><circle cx="93.8" cy="115.3" r="0.28" fill="#d4bc88"/><circle cx="68.6" cy="105.4" r="0.52" fill="#b8a470"/><circle cx="50.2" cy="117.1" r="0.43" fill="#a89460"/><circle cx="145.5" cy="119.0" r="0.49" fill="#a89460"/><circle cx="88.7" cy="127.3" r="0.45" fill="#d4bc88"/><circle cx="54.5" cy="130.6" r="0.29" fill="#b8a470"/><circle cx="104.8" cy="113.7" r="0.36" fill="#d4bc88"/><circle cx="120.1" cy="125.6" r="0.31" fill="#a89460"/><circle cx="131.8" cy="118.3" r="0.43" fill="#c4ac78"/><circle cx="138.9" cy="126.7" r="0.35" fill="#b8a470"/><circle cx="71.2" cy="139.2" r="0.40" fill="#d4bc88"/><circle cx="121.0" cy="139.4" r="0.31" fill="#b8a470"/><circle cx="126.0" cy="130.5" r="0.38" fill="#c4ac78"/><circle cx="113.6" cy="102.8" r="0.38" fill="#a89460"/><circle cx="109.9" cy="114.2" r="0.34" fill="#b8a470"/><circle cx="93.7" cy="117.6" r="0.51" fill="#d4bc88"/><circle cx="113.3" cy="128.9" r="0.40" fill="#d4bc88"/><circle cx="135.1" cy="95.6" r="0.32" fill="#a89460"/><circle cx="119.5" cy="143.8" r="0.45" fill="#d4bc88"/><circle cx="91.8" cy="127.5" r="0.32" fill="#b8a470"/><circle cx="101.8" cy="145.5" r="0.35" fill="#d4bc88"/><circle cx="51.6" cy="114.4" r="0.48" fill="#c4ac78"/><circle cx="58.7" cy="112.4" r="0.51" fill="#c4ac78"/><ellipse cx="97" cy="117.5" rx="6" ry="2.6" fill="#dca84a" opacity="0.85"/></g><g clip-path="url(#c2)"><rect x="50.8" y="166.4" width="94.5" height="50.3" fill="url(#grass)"/><polygon points="50.8,190 58,184 68,186 58,196 50.8,198" fill="#8ab860"/><path d="M106,178 C112,172 122,170 132,170 C140,171 144,178 144,186 L143,210 L136,212 C130,206 122,202 114,200 Z" fill="#dab8a8"/><path d="M134,176 C140,178 144,186 144,196 L143,212 L137,212 C138,200 137,188 134,176 Z" fill="#2a2020"/><ellipse cx="118" cy="173.5" rx="5" ry="1.8" fill="#2a2020"/><ellipse cx="130" cy="175" rx="3" ry="3.5" fill="#2a2020"/><ellipse cx="128" cy="185" rx="2.5" ry="3" fill="#2a2020"/><ellipse cx="124" cy="195" rx="3" ry="3" fill="#3a2a2a"/><ellipse cx="113" cy="192" rx="3.5" ry="8" fill="#3a2a2a"/><path d="M86,186 C87,178 94,174 102,175 C110,177 113,186 111,194 C108,202 100,207 92,206 C86,204 84,196 86,186 Z" fill="#cf8a5c"/><polygon points="88,180 90,171 95,177" fill="#d89868"/><polygon points="103,178 112,175 111,188" fill="#e6a88c"/><ellipse cx="87" cy="199" rx="4" ry="4" fill="#e498a0"/><ellipse cx="67" cy="198.5" rx="16.5" ry="15" fill="#ede6bc"/><ellipse cx="73" cy="198" rx="12" ry="12" fill="#c48428"/><ellipse cx="73" cy="200" rx="9" ry="10" fill="#e8bc48"/><ellipse cx="73" cy="194" rx="5" ry="5" fill="#f0c858"/><ellipse cx="112" cy="206.5" rx="22" ry="10.5" fill="#eeeac8"/><ellipse cx="108" cy="204" rx="14" ry="6" fill="#f6f4dc"/><rect x="50.8" y="213.5" width="94.5" height="4" fill="#5a7e38" opacity="0.7"/></g><g clip-path="url(#c3)"><rect x="208.4" y="64.4" width="90.4" height="54.8" fill="#fbfbfa"/><rect x="208.8" y="64.8" width="89.6" height="54" fill="none" stroke="#e4e4e4" stroke-width="0.8"/><path d="M216,90 C216,78 226,68 240,66 C256,64 270,70 276,80 C282,90 281,104 276,112 C270,119 258,120 245,120 C230,120 218,112 216,100 Z" fill="#937650"/><circle cx="231.7" cy="95.4" r="0.57" fill="#5e4a30"/><circle cx="247.3" cy="97.4" r="0.67" fill="#b09670"/><circle cx="233.1" cy="78.7" r="0.85" fill="#b09670"/><circle cx="251.7" cy="95.7" r="0.58" fill="#a4885c"/><circle cx="231.3" cy="74.2" r="0.82" fill="#b09670"/><circle cx="264.9" cy="102.3" r="0.43" fill="#5e4a30"/><circle cx="218.8" cy="108.1" r="0.77" fill="#7c6040"/><circle cx="247.2" cy="104.8" r="0.80" fill="#b09670"/><circle cx="242.1" cy="109.2" r="0.60" fill="#a4885c"/><circle cx="274.0" cy="71.3" r="0.46" fill="#a4885c"/><circle cx="233.0" cy="102.3" r="0.75" fill="#7c6040"/><circle cx="243.8" cy="111.0" r="0.66" fill="#5e4a30"/><circle cx="254.6" cy="97.5" r="0.81" fill="#6e5434"/><circle cx="272.5" cy="119.5" r="0.70" fill="#a4885c"/><circle cx="262.1" cy="83.6" r="0.64" fill="#5e4a30"/><circle cx="253.6" cy="104.5" r="0.50" fill="#5e4a30"/><circle cx="233.6" cy="72.7" r="0.62" fill="#b09670"/><circle cx="221.8" cy="109.2" r="0.58" fill="#a4885c"/><circle cx="217.3" cy="89.1" r="0.59" fill="#6e5434"/><circle cx="218.9" cy="99.2" r="0.42" fill="#5e4a30"/><circle cx="237.8" cy="113.6" r="0.84" fill="#5e4a30"/><circle cx="231.6" cy="67.9" r="0.40" fill="#6e5434"/><circle cx="255.6" cy="67.7" r="0.49" fill="#b09670"/><circle cx="235.2" cy="80.2" r="0.71" fill="#7c6040"/><circle cx="236.7" cy="117.8" r="0.80" fill="#b09670"/><circle cx="240.9" cy="113.0" r="0.57" fill="#5e4a30"/><circle cx="260.9" cy="71.5" r="0.84" fill="#5e4a30"/><circle cx="233.9" cy="100.3" r="0.72" fill="#7c6040"/><circle cx="244.9" cy="79.9" r="0.54" fill="#7c6040"/><circle cx="216.8" cy="88.4" r="0.66" fill="#6e5434"/><circle cx="240.9" cy="97.8" r="0.46" fill="#7c6040"/><circle cx="246.8" cy="102.7" r="0.56" fill="#7c6040"/><circle cx="264.7" cy="67.2" r="0.43" fill="#6e5434"/><circle cx="279.6" cy="79.6" r="0.61" fill="#5e4a30"/><circle cx="255.7" cy="75.6" r="0.48" fill="#7c6040"/><circle cx="271.7" cy="80.3" r="0.75" fill="#6e5434"/><circle cx="267.0" cy="67.5" r="0.66" fill="#a4885c"/><circle cx="236.5" cy="78.0" r="0.76" fill="#a4885c"/><circle cx="237.6" cy="102.6" r="0.69" fill="#6e5434"/><circle cx="222.7" cy="83.4" r="0.55" fill="#a4885c"/><circle cx="244.9" cy="112.2" r="0.48" fill="#7c6040"/><circle cx="265.0" cy="77.8" r="0.66" fill="#7c6040"/><circle cx="230.9" cy="72.5" r="0.64" fill="#a4885c"/><circle cx="236.8" cy="111.2" r="0.66" fill="#7c6040"/><circle cx="238.4" cy="110.7" r="0.44" fill="#5e4a30"/><circle cx="238.8" cy="73.0" r="0.53" fill="#7c6040"/><circle cx="246.7" cy="100.2" r="0.53" fill="#5e4a30"/><circle cx="243.0" cy="115.7" r="0.47" fill="#6e5434"/><circle cx="247.5" cy="111.0" r="0.68" fill="#5e4a30"/><circle cx="244.7" cy="117.3" r="0.82" fill="#a4885c"/><circle cx="218.1" cy="90.7" r="0.74" fill="#5e4a30"/><circle cx="279.6" cy="95.4" r="0.80" fill="#6e5434"/><circle cx="272.6" cy="118.4" r="0.45" fill="#a4885c"/><circle cx="219.0" cy="114.8" r="0.71" fill="#a4885c"/><circle cx="275.2" cy="114.6" r="0.66" fill="#6e5434"/><circle cx="247.7" cy="72.5" r="0.63" fill="#a4885c"/><circle cx="259.8" cy="94.3" r="0.59" fill="#5e4a30"/><circle cx="223.5" cy="72.8" r="0.84" fill="#5e4a30"/><circle cx="247.5" cy="108.2" r="0.56" fill="#a4885c"/><circle cx="224.1" cy="113.9" r="0.45" fill="#a4885c"/><circle cx="268.3" cy="115.8" r="0.76" fill="#6e5434"/><circle cx="248.2" cy="96.8" r="0.58" fill="#7c6040"/><circle cx="232.4" cy="99.4" r="0.63" fill="#6e5434"/><circle cx="247.2" cy="107.9" r="0.40" fill="#6e5434"/><circle cx="267.2" cy="68.5" r="0.42" fill="#b09670"/><circle cx="280.3" cy="112.1" r="0.44" fill="#5e4a30"/><circle cx="248.3" cy="74.5" r="0.43" fill="#b09670"/><circle cx="258.7" cy="97.7" r="0.56" fill="#a4885c"/><circle cx="281.2" cy="89.1" r="0.46" fill="#6e5434"/><circle cx="263.3" cy="86.5" r="0.44" fill="#a4885c"/><circle cx="218.8" cy="90.9" r="0.69" fill="#5e4a30"/><circle cx="241.1" cy="109.3" r="0.68" fill="#b09670"/><circle cx="219.5" cy="99.9" r="0.74" fill="#7c6040"/><circle cx="243.8" cy="103.5" r="0.61" fill="#a4885c"/><circle cx="230.4" cy="80.6" r="0.67" fill="#b09670"/><circle cx="230.8" cy="73.0" r="0.41" fill="#7c6040"/><circle cx="240.7" cy="114.5" r="0.76" fill="#7c6040"/><circle cx="224.0" cy="103.3" r="0.82" fill="#5e4a30"/><circle cx="268.3" cy="102.0" r="0.73" fill="#5e4a30"/><circle cx="251.1" cy="109.8" r="0.72" fill="#b09670"/><circle cx="225.5" cy="107.8" r="0.42" fill="#6e5434"/><circle cx="253.2" cy="101.6" r="0.57" fill="#6e5434"/><circle cx="238.5" cy="112.0" r="0.41" fill="#6e5434"/><circle cx="260.5" cy="111.2" r="0.83" fill="#5e4a30"/><circle cx="235.8" cy="70.8" r="0.85" fill="#5e4a30"/><circle cx="249.7" cy="104.6" r="0.45" fill="#6e5434"/><circle cx="277.7" cy="69.3" r="0.55" fill="#5e4a30"/><circle cx="227.9" cy="70.2" r="0.85" fill="#a4885c"/><circle cx="246.0" cy="103.8" r="0.82" fill="#7c6040"/><circle cx="240.3" cy="87.4" r="0.56" fill="#b09670"/><circle cx="279.8" cy="86.3" r="0.51" fill="#b09670"/><circle cx="271.7" cy="118.2" r="0.59" fill="#5e4a30"/><circle cx="265.9" cy="102.4" r="0.63" fill="#b09670"/><circle cx="226.3" cy="87.7" r="0.80" fill="#a4885c"/><circle cx="222.3" cy="106.4" r="0.81" fill="#5e4a30"/><circle cx="278.7" cy="97.7" r="0.79" fill="#a4885c"/><circle cx="233.6" cy="76.8" r="0.66" fill="#7c6040"/><circle cx="277.7" cy="112.0" r="0.64" fill="#7c6040"/><circle cx="260.3" cy="112.2" r="0.67" fill="#5e4a30"/><circle cx="254.6" cy="80.4" r="0.50" fill="#6e5434"/><circle cx="233.7" cy="109.4" r="0.49" fill="#5e4a30"/><circle cx="239.8" cy="83.4" r="0.75" fill="#a4885c"/><circle cx="243.6" cy="103.7" r="0.72" fill="#a4885c"/><circle cx="246.9" cy="111.1" r="0.77" fill="#5e4a30"/><circle cx="217.8" cy="119.6" r="0.43" fill="#b09670"/><circle cx="267.7" cy="113.6" r="0.42" fill="#a4885c"/><circle cx="274.8" cy="101.0" r="0.75" fill="#6e5434"/><circle cx="279.3" cy="112.1" r="0.51" fill="#a4885c"/><circle cx="267.2" cy="73.4" r="0.68" fill="#6e5434"/><circle cx="275.4" cy="79.8" r="0.79" fill="#7c6040"/><circle cx="228.1" cy="70.9" r="0.76" fill="#6e5434"/><circle cx="222.1" cy="111.0" r="0.53" fill="#7c6040"/><circle cx="245.9" cy="105.6" r="0.55" fill="#6e5434"/><circle cx="238.1" cy="89.6" r="0.62" fill="#a4885c"/><circle cx="258.5" cy="106.1" r="0.62" fill="#a4885c"/><circle cx="251.9" cy="72.4" r="0.52" fill="#b09670"/><circle cx="223.4" cy="113.9" r="0.81" fill="#6e5434"/><circle cx="250.8" cy="103.8" r="0.71" fill="#7c6040"/><circle cx="266.0" cy="82.0" r="0.70" fill="#7c6040"/><circle cx="223.1" cy="117.0" r="0.55" fill="#5e4a30"/><circle cx="251.4" cy="72.1" r="0.62" fill="#7c6040"/><circle cx="219.9" cy="81.9" r="0.73" fill="#a4885c"/><circle cx="258.6" cy="105.4" r="0.47" fill="#7c6040"/><circle cx="274.7" cy="101.4" r="0.46" fill="#5e4a30"/><circle cx="225.3" cy="83.9" r="0.72" fill="#5e4a30"/><circle cx="243.7" cy="82.2" r="0.48" fill="#b09670"/><circle cx="236.6" cy="75.5" r="0.43" fill="#a4885c"/><circle cx="265.8" cy="95.3" r="0.73" fill="#7c6040"/><circle cx="222.6" cy="80.6" r="0.42" fill="#a4885c"/><circle cx="218.8" cy="93.3" r="0.51" fill="#5e4a30"/><circle cx="239.4" cy="84.0" r="0.58" fill="#5e4a30"/><circle cx="269.4" cy="69.7" r="0.62" fill="#6e5434"/><circle cx="226.0" cy="97.9" r="0.71" fill="#5e4a30"/><circle cx="267.4" cy="105.3" r="0.48" fill="#a4885c"/><circle cx="253.4" cy="102.2" r="0.58" fill="#a4885c"/><circle cx="255.1" cy="73.9" r="0.58" fill="#a4885c"/><circle cx="252.0" cy="75.2" r="0.48" fill="#7c6040"/><circle cx="240.4" cy="81.8" r="0.78" fill="#b09670"/><circle cx="274.8" cy="117.3" r="0.57" fill="#5e4a30"/><circle cx="275.8" cy="82.7" r="0.62" fill="#5e4a30"/><circle cx="261.3" cy="82.2" r="0.79" fill="#b09670"/><circle cx="218.0" cy="76.3" r="0.69" fill="#6e5434"/><circle cx="266.9" cy="101.7" r="0.62" fill="#5e4a30"/><circle cx="257.3" cy="76.7" r="0.75" fill="#a4885c"/><circle cx="218.4" cy="93.0" r="0.69" fill="#b09670"/><circle cx="223.4" cy="81.3" r="0.70" fill="#a4885c"/><circle cx="224.9" cy="108.8" r="0.68" fill="#6e5434"/><circle cx="217.7" cy="99.4" r="0.63" fill="#b09670"/><circle cx="251.6" cy="116.2" r="0.55" fill="#7c6040"/><circle cx="261.8" cy="73.3" r="0.79" fill="#5e4a30"/><circle cx="267.2" cy="67.8" r="0.44" fill="#7c6040"/><circle cx="281.9" cy="77.1" r="0.43" fill="#a4885c"/><circle cx="244.8" cy="106.9" r="0.62" fill="#6e5434"/><circle cx="267.9" cy="88.1" r="0.78" fill="#a4885c"/><circle cx="241.8" cy="91.6" r="0.43" fill="#b09670"/><circle cx="229.8" cy="92.4" r="0.41" fill="#b09670"/><circle cx="266.0" cy="87.7" r="0.48" fill="#6e5434"/><circle cx="263.5" cy="85.8" r="0.57" fill="#5e4a30"/><circle cx="239.9" cy="87.7" r="0.84" fill="#a4885c"/><circle cx="233.1" cy="86.0" r="0.78" fill="#5e4a30"/><circle cx="228.9" cy="77.3" r="0.48" fill="#b09670"/><circle cx="249.2" cy="100.4" r="0.46" fill="#5e4a30"/><circle cx="227.1" cy="92.5" r="0.43" fill="#6e5434"/><circle cx="242.6" cy="83.2" r="0.41" fill="#6e5434"/><circle cx="231.8" cy="68.1" r="0.62" fill="#a4885c"/><circle cx="231.9" cy="87.0" r="0.49" fill="#7c6040"/><circle cx="257.1" cy="84.7" r="0.46" fill="#6e5434"/><circle cx="269.3" cy="81.7" r="0.84" fill="#b09670"/><circle cx="268.1" cy="117.9" r="0.62" fill="#5e4a30"/><circle cx="233.5" cy="110.0" r="0.68" fill="#7c6040"/><circle cx="236.9" cy="69.1" r="0.60" fill="#6e5434"/><circle cx="255.1" cy="66.2" r="0.41" fill="#6e5434"/><circle cx="217.3" cy="93.2" r="0.62" fill="#a4885c"/><circle cx="259.2" cy="114.6" r="0.49" fill="#b09670"/><circle cx="238.4" cy="91.8" r="0.56" fill="#6e5434"/><circle cx="241.2" cy="106.6" r="0.68" fill="#b09670"/><circle cx="221.8" cy="81.8" r="0.78" fill="#6e5434"/><circle cx="249.5" cy="95.6" r="0.64" fill="#b09670"/><circle cx="227.5" cy="105.9" r="0.73" fill="#5e4a30"/><circle cx="239.7" cy="75.9" r="0.76" fill="#b09670"/><circle cx="231.1" cy="108.1" r="0.62" fill="#7c6040"/><circle cx="270.2" cy="93.4" r="0.74" fill="#b09670"/><circle cx="278.7" cy="68.3" r="0.48" fill="#6e5434"/><circle cx="270.3" cy="71.0" r="0.71" fill="#6e5434"/><circle cx="237.1" cy="98.4" r="0.76" fill="#6e5434"/><circle cx="274.0" cy="113.1" r="0.60" fill="#7c6040"/><circle cx="281.8" cy="66.1" r="0.49" fill="#6e5434"/><circle cx="238.3" cy="82.8" r="0.60" fill="#a4885c"/><circle cx="231.9" cy="68.6" r="0.47" fill="#a4885c"/><circle cx="254.6" cy="66.6" r="0.50" fill="#a4885c"/><circle cx="230.5" cy="96.4" r="0.59" fill="#5e4a30"/><circle cx="237.0" cy="113.7" r="0.75" fill="#b09670"/><circle cx="227.7" cy="70.3" r="0.77" fill="#6e5434"/><circle cx="255.5" cy="112.4" r="0.45" fill="#7c6040"/><circle cx="221.7" cy="91.1" r="0.50" fill="#5e4a30"/><circle cx="223.2" cy="92.2" r="0.70" fill="#7c6040"/><circle cx="242.6" cy="101.7" r="0.75" fill="#7c6040"/><circle cx="271.1" cy="98.1" r="0.77" fill="#a4885c"/><circle cx="223.7" cy="66.4" r="0.53" fill="#6e5434"/><circle cx="238.5" cy="76.4" r="0.74" fill="#5e4a30"/><circle cx="261.3" cy="85.7" r="0.75" fill="#6e5434"/><circle cx="256.0" cy="77.6" r="0.56" fill="#6e5434"/><circle cx="238.1" cy="89.3" r="0.44" fill="#a4885c"/><circle cx="237.3" cy="106.5" r="0.49" fill="#a4885c"/><circle cx="273.7" cy="119.3" r="0.68" fill="#5e4a30"/><circle cx="272.3" cy="85.9" r="0.49" fill="#5e4a30"/><circle cx="278.7" cy="92.1" r="0.75" fill="#b09670"/><circle cx="247.0" cy="97.7" r="0.42" fill="#6e5434"/><circle cx="228.2" cy="71.2" r="0.73" fill="#7c6040"/><circle cx="249.2" cy="69.3" r="0.61" fill="#a4885c"/><circle cx="265.2" cy="80.9" r="0.59" fill="#7c6040"/><circle cx="246.9" cy="76.6" r="0.75" fill="#a4885c"/><circle cx="222.8" cy="82.2" r="0.58" fill="#6e5434"/><circle cx="229.6" cy="92.3" r="0.76" fill="#7c6040"/><circle cx="280.4" cy="118.9" r="0.79" fill="#7c6040"/><circle cx="278.2" cy="89.3" r="0.82" fill="#b09670"/><circle cx="250.7" cy="95.3" r="0.56" fill="#7c6040"/><circle cx="234.8" cy="91.0" r="0.80" fill="#7c6040"/><circle cx="265.3" cy="116.2" r="0.63" fill="#6e5434"/><circle cx="224.7" cy="94.7" r="0.64" fill="#a4885c"/><circle cx="278.7" cy="66.1" r="0.84" fill="#b09670"/><circle cx="239.4" cy="118.1" r="0.56" fill="#5e4a30"/><circle cx="218.3" cy="76.0" r="0.41" fill="#b09670"/><circle cx="275.7" cy="111.1" r="0.67" fill="#6e5434"/><circle cx="245.7" cy="80.1" r="0.70" fill="#b09670"/><circle cx="243.6" cy="80.1" r="0.42" fill="#b09670"/><circle cx="218.5" cy="119.8" r="0.47" fill="#5e4a30"/><circle cx="232.3" cy="73.3" r="0.74" fill="#b09670"/><circle cx="249.6" cy="110.9" r="0.65" fill="#7c6040"/><circle cx="217.1" cy="68.4" r="0.62" fill="#6e5434"/><circle cx="275.2" cy="114.9" r="0.61" fill="#5e4a30"/><circle cx="250.0" cy="86.0" r="0.68" fill="#7c6040"/><circle cx="228.1" cy="102.9" r="0.85" fill="#5e4a30"/><circle cx="222.7" cy="107.8" r="0.60" fill="#7c6040"/><circle cx="269.0" cy="90.4" r="0.83" fill="#a4885c"/><circle cx="254.1" cy="73.5" r="0.42" fill="#b09670"/><circle cx="272.2" cy="110.7" r="0.82" fill="#5e4a30"/><circle cx="234.0" cy="83.1" r="0.67" fill="#6e5434"/><circle cx="248.2" cy="81.1" r="0.72" fill="#7c6040"/><circle cx="222.8" cy="102.1" r="0.57" fill="#5e4a30"/><circle cx="248.1" cy="106.6" r="0.77" fill="#b09670"/><circle cx="228.9" cy="115.7" r="0.48" fill="#b09670"/><circle cx="278.1" cy="87.4" r="0.42" fill="#a4885c"/><circle cx="278.7" cy="117.0" r="0.54" fill="#b09670"/><circle cx="252.6" cy="67.9" r="0.59" fill="#b09670"/><circle cx="280.7" cy="70.3" r="0.50" fill="#a4885c"/><circle cx="264.7" cy="103.7" r="0.45" fill="#6e5434"/><circle cx="257.7" cy="110.2" r="0.40" fill="#7c6040"/><circle cx="280.3" cy="103.4" r="0.59" fill="#b09670"/><circle cx="246.5" cy="81.6" r="0.65" fill="#a4885c"/><circle cx="231.6" cy="117.7" r="0.46" fill="#a4885c"/><circle cx="261.5" cy="91.2" r="0.58" fill="#6e5434"/><circle cx="225.4" cy="68.9" r="0.74" fill="#a4885c"/><circle cx="236.5" cy="101.0" r="0.46" fill="#a4885c"/><circle cx="219.2" cy="117.9" r="0.64" fill="#b09670"/><circle cx="267.4" cy="89.4" r="0.48" fill="#6e5434"/><circle cx="234.5" cy="73.1" r="0.47" fill="#a4885c"/><circle cx="241.3" cy="116.6" r="0.67" fill="#a4885c"/><circle cx="216.5" cy="86.0" r="0.46" fill="#b09670"/><circle cx="232.2" cy="85.1" r="0.83" fill="#b09670"/><circle cx="222.9" cy="111.7" r="0.61" fill="#7c6040"/><circle cx="251.0" cy="112.1" r="0.60" fill="#b09670"/><circle cx="246.6" cy="95.1" r="0.60" fill="#5e4a30"/><circle cx="246.1" cy="86.7" r="0.74" fill="#7c6040"/><circle cx="277.6" cy="111.8" r="0.48" fill="#a4885c"/><circle cx="236.9" cy="111.4" r="0.46" fill="#5e4a30"/><circle cx="280.6" cy="88.1" r="0.79" fill="#6e5434"/><circle cx="253.8" cy="74.5" r="0.46" fill="#b09670"/><circle cx="281.4" cy="103.0" r="0.64" fill="#7c6040"/><circle cx="222.1" cy="95.2" r="0.60" fill="#a4885c"/><circle cx="255.0" cy="77.8" r="0.61" fill="#5e4a30"/><circle cx="240.7" cy="83.2" r="0.56" fill="#5e4a30"/><circle cx="266.9" cy="105.0" r="0.55" fill="#7c6040"/><circle cx="234.9" cy="118.7" r="0.52" fill="#6e5434"/><circle cx="255.7" cy="78.0" r="0.85" fill="#a4885c"/><circle cx="234.6" cy="118.2" r="0.60" fill="#b09670"/><circle cx="238.1" cy="108.6" r="0.48" fill="#5e4a30"/><circle cx="250.9" cy="89.8" r="0.68" fill="#6e5434"/><circle cx="243.6" cy="95.7" r="0.67" fill="#7c6040"/><circle cx="219.9" cy="112.1" r="0.57" fill="#6e5434"/><circle cx="240.2" cy="77.6" r="0.65" fill="#6e5434"/><circle cx="244.5" cy="112.8" r="0.72" fill="#7c6040"/><circle cx="216.8" cy="86.1" r="0.57" fill="#b09670"/><circle cx="240.6" cy="101.2" r="0.79" fill="#5e4a30"/><circle cx="248.7" cy="83.5" r="0.40" fill="#6e5434"/><circle cx="256.6" cy="73.5" r="0.44" fill="#7c6040"/><circle cx="244.7" cy="76.6" r="0.41" fill="#7c6040"/><circle cx="251.3" cy="105.8" r="0.77" fill="#a4885c"/><circle cx="245.1" cy="102.9" r="0.45" fill="#b09670"/><circle cx="230.8" cy="73.5" r="0.54" fill="#5e4a30"/><circle cx="228.5" cy="110.5" r="0.67" fill="#6e5434"/><circle cx="244.4" cy="109.0" r="0.57" fill="#b09670"/><circle cx="270.9" cy="75.9" r="0.52" fill="#b09670"/><circle cx="229.4" cy="100.3" r="0.66" fill="#7c6040"/><circle cx="244.8" cy="71.2" r="0.84" fill="#6e5434"/><circle cx="220.2" cy="113.4" r="0.74" fill="#7c6040"/><circle cx="220.4" cy="66.5" r="0.62" fill="#b09670"/><circle cx="257.7" cy="71.1" r="0.70" fill="#b09670"/><circle cx="274.2" cy="78.2" r="0.55" fill="#b09670"/><circle cx="279.2" cy="68.8" r="0.63" fill="#5e4a30"/><circle cx="250.6" cy="97.0" r="0.44" fill="#a4885c"/><circle cx="270.2" cy="110.5" r="0.81" fill="#b09670"/><circle cx="234.8" cy="119.0" r="0.70" fill="#5e4a30"/><circle cx="231.0" cy="96.9" r="0.55" fill="#5e4a30"/><circle cx="224.8" cy="94.7" r="0.68" fill="#7c6040"/><circle cx="236.8" cy="112.4" r="0.66" fill="#5e4a30"/><circle cx="229.4" cy="69.2" r="0.59" fill="#7c6040"/><circle cx="257.6" cy="92.7" r="0.78" fill="#a4885c"/><circle cx="270.3" cy="116.6" r="0.45" fill="#5e4a30"/><circle cx="242.2" cy="77.4" r="0.48" fill="#6e5434"/><circle cx="237.6" cy="79.3" r="0.80" fill="#6e5434"/><circle cx="231.6" cy="85.8" r="0.50" fill="#7c6040"/><circle cx="232.5" cy="80.2" r="0.71" fill="#7c6040"/><circle cx="264.3" cy="77.2" r="0.54" fill="#a4885c"/><circle cx="253.3" cy="79.3" r="0.71" fill="#a4885c"/><circle cx="269.5" cy="85.7" r="0.50" fill="#5e4a30"/><circle cx="242.0" cy="95.1" r="0.67" fill="#7c6040"/><circle cx="245.2" cy="69.0" r="0.75" fill="#b09670"/><circle cx="248.4" cy="97.3" r="0.52" fill="#b09670"/><circle cx="261.3" cy="78.0" r="0.77" fill="#b09670"/><circle cx="238.8" cy="119.8" r="0.62" fill="#a4885c"/><circle cx="223.6" cy="88.6" r="0.79" fill="#a4885c"/><circle cx="254.5" cy="71.8" r="0.64" fill="#7c6040"/><circle cx="247.5" cy="95.1" r="0.79" fill="#b09670"/><circle cx="240.7" cy="68.3" r="0.56" fill="#a4885c"/><circle cx="257.1" cy="103.9" r="0.84" fill="#5e4a30"/><circle cx="236.0" cy="114.2" r="0.80" fill="#5e4a30"/><circle cx="237.3" cy="88.1" r="0.82" fill="#7c6040"/><circle cx="277.0" cy="88.8" r="0.65" fill="#7c6040"/><circle cx="243.9" cy="86.0" r="0.48" fill="#7c6040"/><circle cx="262.0" cy="96.4" r="0.57" fill="#6e5434"/><circle cx="237.4" cy="74.8" r="0.81" fill="#b09670"/><circle cx="227.4" cy="87.3" r="0.49" fill="#b09670"/><circle cx="252.5" cy="85.7" r="0.73" fill="#5e4a30"/><circle cx="247.8" cy="76.9" r="0.63" fill="#a4885c"/><circle cx="223.9" cy="95.8" r="0.45" fill="#b09670"/><circle cx="273.3" cy="93.8" r="0.58" fill="#6e5434"/><circle cx="247.6" cy="102.9" r="0.50" fill="#7c6040"/><circle cx="223.7" cy="117.2" r="0.61" fill="#b09670"/><circle cx="225.7" cy="85.9" r="0.71" fill="#7c6040"/><circle cx="253.7" cy="93.6" r="0.49" fill="#a4885c"/><circle cx="232.3" cy="80.0" r="0.56" fill="#7c6040"/><circle cx="275.6" cy="71.3" r="0.72" fill="#6e5434"/><circle cx="230.9" cy="90.7" r="0.84" fill="#7c6040"/><circle cx="270.7" cy="73.7" r="0.42" fill="#b09670"/><circle cx="233.8" cy="93.5" r="0.57" fill="#b09670"/><circle cx="265.2" cy="93.2" r="0.71" fill="#b09670"/><circle cx="280.5" cy="89.2" r="0.53" fill="#7c6040"/><circle cx="254.7" cy="87.0" r="0.42" fill="#a4885c"/><circle cx="244.5" cy="66.1" r="0.76" fill="#a4885c"/><circle cx="249.3" cy="117.5" r="0.78" fill="#7c6040"/><circle cx="233.0" cy="99.9" r="0.65" fill="#7c6040"/><circle cx="229.4" cy="74.6" r="0.84" fill="#6e5434"/><circle cx="248.0" cy="105.9" r="0.47" fill="#5e4a30"/><circle cx="238.2" cy="110.0" r="0.73" fill="#7c6040"/><circle cx="225.0" cy="99.7" r="0.80" fill="#a4885c"/><circle cx="222.3" cy="103.7" r="0.68" fill="#5e4a30"/><circle cx="241.8" cy="90.6" r="0.85" fill="#5e4a30"/><circle cx="245.2" cy="75.5" r="0.77" fill="#6e5434"/><circle cx="234.6" cy="103.7" r="0.48" fill="#6e5434"/><circle cx="238.2" cy="105.2" r="0.78" fill="#7c6040"/><circle cx="222.7" cy="109.3" r="0.57" fill="#5e4a30"/><circle cx="245.4" cy="102.0" r="0.55" fill="#a4885c"/><circle cx="245.1" cy="78.8" r="0.40" fill="#a4885c"/><circle cx="231.2" cy="88.5" r="0.44" fill="#7c6040"/><circle cx="280.8" cy="72.2" r="0.70" fill="#a4885c"/><circle cx="235.1" cy="67.3" r="0.41" fill="#7c6040"/><circle cx="230.7" cy="90.5" r="0.63" fill="#5e4a30"/><circle cx="241.2" cy="114.5" r="0.49" fill="#5e4a30"/><circle cx="244.2" cy="82.7" r="0.43" fill="#b09670"/><circle cx="249.0" cy="71.4" r="0.82" fill="#5e4a30"/><circle cx="278.0" cy="74.0" r="0.63" fill="#7c6040"/><circle cx="282.0" cy="75.1" r="0.56" fill="#7c6040"/><circle cx="224.1" cy="93.0" r="0.62" fill="#a4885c"/><circle cx="264.9" cy="107.6" r="0.41" fill="#6e5434"/><circle cx="247.3" cy="66.3" r="0.72" fill="#b09670"/><circle cx="275.8" cy="68.6" r="0.70" fill="#7c6040"/><circle cx="269.9" cy="92.5" r="0.75" fill="#a4885c"/><circle cx="236.4" cy="96.4" r="0.58" fill="#6e5434"/><circle cx="223.5" cy="102.8" r="0.51" fill="#a4885c"/><circle cx="265.2" cy="94.7" r="0.75" fill="#5e4a30"/><circle cx="225.2" cy="74.9" r="0.83" fill="#7c6040"/><circle cx="249.8" cy="118.0" r="0.40" fill="#6e5434"/><circle cx="239.9" cy="93.0" r="0.44" fill="#7c6040"/><circle cx="253.0" cy="87.1" r="0.61" fill="#5e4a30"/><circle cx="277.9" cy="83.4" r="0.62" fill="#7c6040"/><circle cx="267.9" cy="106.4" r="0.49" fill="#6e5434"/><circle cx="258.9" cy="106.2" r="0.83" fill="#b09670"/><circle cx="265.7" cy="104.9" r="0.67" fill="#a4885c"/><circle cx="281.9" cy="68.6" r="0.58" fill="#b09670"/><circle cx="228.0" cy="71.3" r="0.48" fill="#5e4a30"/><circle cx="245.8" cy="89.3" r="0.59" fill="#5e4a30"/><circle cx="238.5" cy="89.3" r="0.42" fill="#b09670"/><circle cx="240.0" cy="105.2" r="0.52" fill="#a4885c"/><circle cx="225.1" cy="113.5" r="0.74" fill="#6e5434"/><circle cx="258.4" cy="105.3" r="0.45" fill="#b09670"/><circle cx="247.6" cy="86.4" r="0.63" fill="#b09670"/><circle cx="256.4" cy="91.6" r="0.43" fill="#5e4a30"/><circle cx="263.2" cy="115.4" r="0.49" fill="#6e5434"/><circle cx="280.6" cy="73.4" r="0.75" fill="#6e5434"/><circle cx="224.1" cy="98.1" r="0.83" fill="#7c6040"/><circle cx="252.3" cy="72.9" r="0.59" fill="#a4885c"/><circle cx="226.4" cy="103.3" r="0.68" fill="#b09670"/><circle cx="236.8" cy="89.9" r="0.82" fill="#7c6040"/><circle cx="252.3" cy="97.9" r="0.55" fill="#5e4a30"/><circle cx="241.4" cy="118.7" r="0.53" fill="#6e5434"/><circle cx="229.6" cy="87.0" r="0.78" fill="#7c6040"/><circle cx="231.1" cy="114.7" r="0.55" fill="#7c6040"/><circle cx="267.1" cy="111.0" r="0.49" fill="#b09670"/><circle cx="216.1" cy="100.8" r="0.77" fill="#a4885c"/><circle cx="277.6" cy="106.7" r="0.77" fill="#6e5434"/><circle cx="268.2" cy="84.6" r="0.53" fill="#7c6040"/><circle cx="279.9" cy="114.9" r="0.81" fill="#5e4a30"/><circle cx="267.6" cy="90.5" r="0.51" fill="#5e4a30"/><circle cx="275.7" cy="80.3" r="0.53" fill="#5e4a30"/><circle cx="229.2" cy="115.8" r="0.54" fill="#6e5434"/><circle cx="223.0" cy="114.5" r="0.58" fill="#7c6040"/><circle cx="268.5" cy="108.0" r="0.51" fill="#6e5434"/><circle cx="256.1" cy="72.6" r="0.48" fill="#7c6040"/><circle cx="238.7" cy="75.2" r="0.55" fill="#6e5434"/><circle cx="232.1" cy="102.0" r="0.61" fill="#8b6e48"/><circle cx="267.0" cy="101.0" r="0.66" fill="#8b6e48"/><circle cx="220.6" cy="93.7" r="0.46" fill="#a08060"/><circle cx="211.7" cy="71.8" r="0.61" fill="#8b6e48"/><circle cx="297.4" cy="110.1" r="0.43" fill="#a08060"/><circle cx="282.5" cy="105.2" r="0.68" fill="#a08060"/><circle cx="240.7" cy="77.6" r="0.67" fill="#a08060"/><circle cx="268.7" cy="113.0" r="0.59" fill="#8b6e48"/><circle cx="239.8" cy="97.1" r="0.59" fill="#a08060"/><circle cx="270.5" cy="94.9" r="0.62" fill="#8b6e48"/><circle cx="248.2" cy="104.4" r="0.56" fill="#a08060"/><circle cx="227.0" cy="93.2" r="0.48" fill="#a08060"/><circle cx="232.3" cy="80.1" r="0.67" fill="#a08060"/><circle cx="258.0" cy="95.5" r="0.67" fill="#a08060"/><circle cx="220.7" cy="88.2" r="0.59" fill="#a08060"/><circle cx="243.7" cy="103.8" r="0.68" fill="#8b6e48"/><circle cx="229.0" cy="91.9" r="0.61" fill="#a08060"/><circle cx="265.9" cy="73.6" r="0.52" fill="#a08060"/><circle cx="287.9" cy="108.4" r="0.46" fill="#a08060"/><circle cx="255.3" cy="100.5" r="0.67" fill="#8b6e48"/><circle cx="273.3" cy="76.4" r="0.59" fill="#8b6e48"/><circle cx="241.0" cy="104.3" r="0.50" fill="#a08060"/><circle cx="226.2" cy="107.5" r="0.57" fill="#8b6e48"/><circle cx="223.9" cy="88.2" r="0.58" fill="#8b6e48"/><circle cx="295.4" cy="109.6" r="0.59" fill="#8b6e48"/><circle cx="220.3" cy="81.8" r="0.52" fill="#a08060"/><circle cx="259.3" cy="102.7" r="0.68" fill="#a08060"/><circle cx="284.8" cy="66.9" r="0.50" fill="#8b6e48"/><circle cx="253.2" cy="117.4" r="0.56" fill="#a08060"/><circle cx="228.9" cy="76.2" r="0.64" fill="#a08060"/></g><g clip-path="url(#c4)"><rect x="208.5" y="189.4" width="89.8" height="51.4" fill="#dfe2e9"/><path d="M213,216 C220,207 236,196 246,192 C252,190 258,191 264,195 C276,202 290,210 298,218 C290,226 272,234 260,238 C246,239 228,232 213,216 Z" fill="#b6943f"/><g clip-path="url(#pile2)"><circle cx="233.6" cy="196.7" r="0.56" fill="#c8a450"/><circle cx="221.5" cy="192.9" r="0.62" fill="#a8843a"/><circle cx="280.4" cy="227.2" r="0.49" fill="#a8843a"/><circle cx="237.0" cy="199.9" r="0.44" fill="#c8a450"/><circle cx="292.3" cy="193.2" r="0.66" fill="#a8843a"/><circle cx="280.4" cy="200.9" r="0.52" fill="#a8843a"/><circle cx="221.2" cy="219.9" r="0.67" fill="#c8a450"/><circle cx="228.8" cy="213.8" r="0.44" fill="#a8843a"/><circle cx="214.6" cy="205.4" r="0.68" fill="#a8843a"/><circle cx="284.4" cy="215.4" r="0.57" fill="#a8843a"/><circle cx="249.8" cy="199.4" r="0.52" fill="#9a7830"/><circle cx="220.7" cy="213.3" r="0.80" fill="#d0b060"/><circle cx="272.2" cy="198.7" r="0.67" fill="#9a7830"/><circle cx="248.3" cy="201.3" r="0.65" fill="#a8843a"/><circle cx="229.2" cy="212.1" r="0.64" fill="#c8a450"/><circle cx="289.1" cy="196.6" r="0.42" fill="#c8a450"/><circle cx="237.0" cy="218.8" r="0.74" fill="#9a7830"/><circle cx="241.5" cy="200.2" r="0.58" fill="#9a7830"/><circle cx="243.6" cy="195.8" r="0.79" fill="#a8843a"/><circle cx="275.0" cy="236.2" r="0.41" fill="#a8843a"/><circle cx="240.7" cy="199.0" r="0.66" fill="#9a7830"/><circle cx="238.4" cy="200.8" r="0.58" fill="#c8a450"/><circle cx="234.8" cy="219.5" r="0.46" fill="#9a7830"/><circle cx="244.2" cy="212.9" r="0.55" fill="#a8843a"/><circle cx="296.8" cy="218.3" r="0.58" fill="#c8a450"/><circle cx="249.2" cy="201.6" r="0.42" fill="#9a7830"/><circle cx="275.2" cy="219.4" r="0.79" fill="#9a7830"/><circle cx="259.3" cy="218.8" r="0.53" fill="#9a7830"/><circle cx="224.1" cy="216.3" r="0.71" fill="#d0b060"/><circle cx="268.1" cy="201.2" r="0.48" fill="#d0b060"/><circle cx="248.1" cy="193.7" r="0.57" fill="#c8a450"/><circle cx="267.7" cy="211.7" r="0.49" fill="#c8a450"/><circle cx="216.6" cy="203.7" r="0.50" fill="#c8a450"/><circle cx="278.1" cy="211.2" r="0.50" fill="#a8843a"/><circle cx="218.3" cy="234.7" r="0.63" fill="#d0b060"/><circle cx="293.9" cy="222.0" r="0.75" fill="#9a7830"/><circle cx="255.0" cy="196.3" r="0.48" fill="#c8a450"/><circle cx="241.9" cy="222.2" r="0.72" fill="#a8843a"/><circle cx="281.6" cy="216.3" r="0.66" fill="#a8843a"/><circle cx="242.1" cy="210.0" r="0.60" fill="#a8843a"/><circle cx="293.8" cy="222.7" r="0.42" fill="#c8a450"/><circle cx="277.6" cy="204.4" r="0.74" fill="#c8a450"/><circle cx="271.1" cy="213.4" r="0.59" fill="#d0b060"/><circle cx="291.0" cy="202.1" r="0.40" fill="#c8a450"/><circle cx="215.1" cy="232.3" r="0.45" fill="#d0b060"/><circle cx="286.9" cy="217.3" r="0.75" fill="#c8a450"/><circle cx="227.4" cy="220.0" r="0.73" fill="#d0b060"/><circle cx="290.0" cy="212.2" r="0.43" fill="#9a7830"/><circle cx="254.6" cy="231.8" r="0.64" fill="#c8a450"/><circle cx="217.4" cy="195.7" r="0.75" fill="#9a7830"/><circle cx="238.6" cy="208.0" r="0.43" fill="#d0b060"/><circle cx="245.6" cy="228.2" r="0.52" fill="#c8a450"/><circle cx="277.0" cy="231.4" r="0.56" fill="#9a7830"/><circle cx="223.5" cy="220.6" r="0.75" fill="#d0b060"/><circle cx="248.5" cy="224.7" r="0.58" fill="#c8a450"/><circle cx="266.9" cy="234.8" r="0.59" fill="#9a7830"/><circle cx="280.3" cy="199.7" r="0.75" fill="#c8a450"/><circle cx="272.7" cy="207.0" r="0.74" fill="#a8843a"/><circle cx="259.0" cy="233.6" r="0.68" fill="#9a7830"/><circle cx="267.8" cy="197.6" r="0.44" fill="#d0b060"/><circle cx="257.7" cy="216.0" r="0.56" fill="#a8843a"/><circle cx="243.6" cy="227.3" r="0.79" fill="#9a7830"/><circle cx="270.2" cy="220.0" r="0.53" fill="#d0b060"/><circle cx="278.9" cy="218.1" r="0.77" fill="#d0b060"/><circle cx="264.9" cy="212.3" r="0.46" fill="#a8843a"/><circle cx="295.8" cy="207.6" r="0.57" fill="#c8a450"/><circle cx="270.1" cy="220.6" r="0.51" fill="#a8843a"/><circle cx="230.4" cy="228.5" r="0.67" fill="#9a7830"/><circle cx="220.4" cy="221.7" r="0.76" fill="#a8843a"/><circle cx="268.3" cy="207.0" r="0.52" fill="#9a7830"/><circle cx="264.1" cy="216.1" r="0.70" fill="#9a7830"/><circle cx="280.5" cy="229.1" r="0.78" fill="#c8a450"/><circle cx="229.1" cy="237.4" r="0.66" fill="#9a7830"/><circle cx="277.1" cy="236.5" r="0.45" fill="#d0b060"/><circle cx="270.1" cy="226.3" r="0.65" fill="#a8843a"/><circle cx="284.8" cy="223.6" r="0.75" fill="#c8a450"/><circle cx="288.4" cy="224.4" r="0.52" fill="#c8a450"/><circle cx="275.9" cy="216.7" r="0.61" fill="#d0b060"/><circle cx="288.6" cy="210.4" r="0.56" fill="#a8843a"/><circle cx="237.6" cy="210.9" r="0.41" fill="#c8a450"/><circle cx="288.5" cy="213.1" r="0.62" fill="#a8843a"/><circle cx="247.5" cy="209.9" r="0.41" fill="#9a7830"/><circle cx="252.0" cy="236.4" r="0.65" fill="#a8843a"/><circle cx="264.1" cy="206.4" r="0.44" fill="#a8843a"/><circle cx="254.1" cy="221.4" r="0.59" fill="#9a7830"/><circle cx="226.3" cy="203.0" r="0.52" fill="#9a7830"/><circle cx="227.6" cy="228.4" r="0.67" fill="#a8843a"/><circle cx="215.5" cy="203.3" r="0.70" fill="#c8a450"/><circle cx="216.6" cy="206.6" r="0.45" fill="#9a7830"/><circle cx="286.9" cy="221.6" r="0.64" fill="#c8a450"/><circle cx="274.7" cy="222.1" r="0.78" fill="#9a7830"/><circle cx="260.5" cy="223.9" r="0.69" fill="#c8a450"/><circle cx="255.7" cy="199.1" r="0.74" fill="#d0b060"/><circle cx="256.1" cy="209.3" r="0.47" fill="#a8843a"/><circle cx="256.7" cy="216.7" r="0.52" fill="#d0b060"/><circle cx="241.3" cy="209.8" r="0.57" fill="#9a7830"/><circle cx="237.1" cy="223.1" r="0.52" fill="#c8a450"/><circle cx="221.1" cy="197.3" r="0.64" fill="#9a7830"/><circle cx="233.3" cy="217.5" r="0.59" fill="#c8a450"/><circle cx="287.5" cy="212.8" r="0.69" fill="#d0b060"/><circle cx="241.9" cy="199.9" r="0.61" fill="#c8a450"/><circle cx="222.9" cy="220.5" r="0.76" fill="#a8843a"/><circle cx="291.2" cy="230.3" r="0.57" fill="#9a7830"/><circle cx="282.1" cy="201.8" r="0.63" fill="#a8843a"/><circle cx="279.1" cy="214.0" r="0.73" fill="#9a7830"/><circle cx="288.0" cy="233.1" r="0.75" fill="#9a7830"/><circle cx="264.2" cy="216.2" r="0.79" fill="#a8843a"/><circle cx="291.0" cy="200.1" r="0.42" fill="#c8a450"/><circle cx="217.2" cy="223.1" r="0.53" fill="#c8a450"/><circle cx="271.8" cy="197.4" r="0.79" fill="#9a7830"/><circle cx="219.9" cy="202.4" r="0.51" fill="#9a7830"/><circle cx="287.9" cy="236.8" r="0.40" fill="#c8a450"/><circle cx="231.7" cy="203.5" r="0.70" fill="#a8843a"/><circle cx="281.7" cy="205.7" r="0.56" fill="#d0b060"/><circle cx="216.8" cy="211.0" r="0.79" fill="#a8843a"/><circle cx="260.5" cy="205.0" r="0.48" fill="#d0b060"/><circle cx="240.7" cy="201.9" r="0.59" fill="#d0b060"/><circle cx="291.3" cy="204.7" r="0.70" fill="#d0b060"/><circle cx="292.8" cy="234.7" r="0.56" fill="#c8a450"/><circle cx="235.2" cy="215.5" r="0.41" fill="#a8843a"/><circle cx="264.5" cy="223.1" r="0.66" fill="#a8843a"/><circle cx="221.2" cy="237.4" r="0.47" fill="#9a7830"/><circle cx="272.2" cy="235.0" r="0.50" fill="#c8a450"/><circle cx="287.9" cy="215.0" r="0.45" fill="#a8843a"/><circle cx="214.7" cy="218.2" r="0.48" fill="#9a7830"/><circle cx="234.3" cy="230.8" r="0.45" fill="#a8843a"/><circle cx="238.6" cy="218.1" r="0.66" fill="#9a7830"/><circle cx="268.9" cy="237.7" r="0.76" fill="#9a7830"/><circle cx="276.7" cy="228.9" r="0.67" fill="#a8843a"/><circle cx="216.9" cy="206.9" r="0.53" fill="#a8843a"/><circle cx="295.9" cy="199.5" r="0.70" fill="#9a7830"/><circle cx="293.4" cy="235.8" r="0.67" fill="#9a7830"/><circle cx="269.9" cy="204.0" r="0.77" fill="#d0b060"/><circle cx="222.7" cy="201.2" r="0.46" fill="#d0b060"/><circle cx="263.9" cy="214.8" r="0.53" fill="#d0b060"/><circle cx="275.7" cy="230.6" r="0.70" fill="#9a7830"/><circle cx="229.0" cy="208.5" r="0.52" fill="#a8843a"/><circle cx="261.6" cy="200.9" r="0.65" fill="#a8843a"/><circle cx="245.8" cy="216.6" r="0.44" fill="#c8a450"/><circle cx="229.8" cy="208.0" r="0.79" fill="#c8a450"/><circle cx="215.8" cy="197.4" r="0.52" fill="#a8843a"/><circle cx="291.9" cy="214.9" r="0.42" fill="#a8843a"/><circle cx="280.4" cy="228.9" r="0.47" fill="#d0b060"/><circle cx="265.2" cy="208.1" r="0.40" fill="#c8a450"/><circle cx="251.1" cy="226.2" r="0.77" fill="#d0b060"/><circle cx="231.6" cy="207.2" r="0.64" fill="#9a7830"/><circle cx="288.3" cy="214.2" r="0.79" fill="#9a7830"/><circle cx="229.0" cy="220.3" r="0.64" fill="#9a7830"/><circle cx="274.1" cy="193.1" r="0.57" fill="#c8a450"/><circle cx="265.6" cy="198.2" r="0.64" fill="#c8a450"/><circle cx="250.1" cy="206.5" r="0.65" fill="#c8a450"/><circle cx="274.6" cy="234.7" r="0.73" fill="#a8843a"/><circle cx="235.4" cy="207.4" r="0.62" fill="#c8a450"/><circle cx="244.4" cy="231.7" r="0.48" fill="#d0b060"/><circle cx="282.8" cy="195.4" r="0.65" fill="#c8a450"/><circle cx="296.0" cy="198.6" r="0.68" fill="#9a7830"/><circle cx="258.7" cy="207.9" r="0.78" fill="#9a7830"/><circle cx="279.2" cy="219.8" r="0.62" fill="#a8843a"/><circle cx="265.9" cy="205.6" r="0.75" fill="#a8843a"/><circle cx="231.4" cy="213.7" r="0.51" fill="#9a7830"/><circle cx="287.7" cy="205.2" r="0.57" fill="#9a7830"/><circle cx="242.8" cy="219.8" r="0.77" fill="#a8843a"/><circle cx="220.0" cy="211.9" r="0.43" fill="#d0b060"/><circle cx="279.5" cy="193.5" r="0.48" fill="#c8a450"/><circle cx="281.9" cy="201.3" r="0.77" fill="#9a7830"/><circle cx="296.9" cy="192.5" r="0.40" fill="#a8843a"/><circle cx="257.1" cy="216.2" r="0.43" fill="#a8843a"/><circle cx="269.4" cy="221.0" r="0.60" fill="#9a7830"/><circle cx="271.3" cy="195.0" r="0.57" fill="#c8a450"/><circle cx="288.0" cy="236.4" r="0.61" fill="#a8843a"/><circle cx="269.2" cy="198.1" r="0.63" fill="#9a7830"/><circle cx="263.9" cy="192.2" r="0.42" fill="#a8843a"/><circle cx="259.3" cy="211.5" r="0.52" fill="#a8843a"/><circle cx="294.0" cy="199.0" r="0.55" fill="#d0b060"/><circle cx="234.5" cy="220.7" r="0.47" fill="#d0b060"/><circle cx="296.9" cy="218.7" r="0.41" fill="#c8a450"/><circle cx="235.7" cy="219.0" r="0.63" fill="#d0b060"/><circle cx="292.3" cy="199.4" r="0.46" fill="#a8843a"/><circle cx="284.6" cy="224.5" r="0.61" fill="#a8843a"/><circle cx="236.3" cy="231.6" r="0.47" fill="#9a7830"/><circle cx="285.7" cy="228.7" r="0.53" fill="#c8a450"/><circle cx="228.6" cy="196.4" r="0.80" fill="#9a7830"/><circle cx="257.3" cy="194.1" r="0.78" fill="#c8a450"/><circle cx="232.5" cy="203.3" r="0.79" fill="#d0b060"/><circle cx="246.1" cy="221.1" r="0.78" fill="#d0b060"/><circle cx="238.1" cy="196.1" r="0.72" fill="#9a7830"/><circle cx="229.3" cy="210.7" r="0.56" fill="#c8a450"/><circle cx="250.0" cy="225.9" r="0.62" fill="#a8843a"/><circle cx="242.5" cy="208.1" r="0.67" fill="#9a7830"/><circle cx="242.8" cy="196.4" r="0.55" fill="#c8a450"/><circle cx="254.7" cy="235.1" r="0.57" fill="#9a7830"/><circle cx="246.6" cy="196.0" r="0.56" fill="#c8a450"/><circle cx="276.4" cy="196.2" r="0.44" fill="#c8a450"/><circle cx="251.9" cy="225.9" r="0.70" fill="#d0b060"/><circle cx="240.4" cy="222.8" r="0.76" fill="#d0b060"/><circle cx="288.4" cy="225.5" r="0.72" fill="#a8843a"/><circle cx="287.1" cy="237.1" r="0.73" fill="#d0b060"/><circle cx="250.1" cy="225.0" r="0.75" fill="#c8a450"/><circle cx="290.7" cy="205.1" r="0.53" fill="#9a7830"/><circle cx="257.2" cy="227.7" r="0.73" fill="#c8a450"/><circle cx="265.0" cy="227.7" r="0.49" fill="#a8843a"/><circle cx="290.7" cy="212.2" r="0.61" fill="#9a7830"/><circle cx="255.0" cy="235.3" r="0.74" fill="#d0b060"/><circle cx="277.4" cy="213.6" r="0.70" fill="#a8843a"/><circle cx="230.4" cy="207.3" r="0.46" fill="#d0b060"/><circle cx="278.2" cy="228.4" r="0.79" fill="#d0b060"/><circle cx="275.6" cy="208.0" r="0.60" fill="#9a7830"/><circle cx="275.6" cy="222.8" r="0.50" fill="#c8a450"/><circle cx="287.3" cy="216.7" r="0.74" fill="#d0b060"/><circle cx="293.3" cy="232.0" r="0.52" fill="#9a7830"/><circle cx="214.2" cy="202.7" r="0.54" fill="#a8843a"/><circle cx="281.8" cy="230.6" r="0.63" fill="#a8843a"/><circle cx="279.9" cy="222.7" r="0.41" fill="#9a7830"/><circle cx="273.9" cy="221.4" r="0.49" fill="#9a7830"/><circle cx="259.2" cy="199.5" r="0.48" fill="#c8a450"/><circle cx="256.6" cy="200.8" r="0.78" fill="#d0b060"/><circle cx="241.1" cy="204.2" r="0.56" fill="#c8a450"/><circle cx="272.7" cy="234.1" r="0.54" fill="#9a7830"/><circle cx="265.2" cy="204.1" r="0.42" fill="#a8843a"/><circle cx="288.8" cy="194.6" r="0.71" fill="#9a7830"/><circle cx="231.2" cy="203.4" r="0.60" fill="#d0b060"/><circle cx="244.4" cy="235.3" r="0.70" fill="#9a7830"/><circle cx="284.2" cy="225.4" r="0.73" fill="#d0b060"/><circle cx="256.6" cy="209.3" r="0.68" fill="#c8a450"/><circle cx="226.0" cy="199.8" r="0.58" fill="#d0b060"/><circle cx="285.0" cy="208.9" r="0.63" fill="#c8a450"/><circle cx="285.0" cy="203.5" r="0.63" fill="#a8843a"/><circle cx="247.1" cy="217.9" r="0.75" fill="#a8843a"/><circle cx="279.2" cy="224.4" r="0.45" fill="#c8a450"/><circle cx="291.6" cy="236.3" r="0.68" fill="#d0b060"/><circle cx="268.9" cy="197.9" r="0.47" fill="#c8a450"/><circle cx="260.7" cy="195.3" r="0.70" fill="#a8843a"/><circle cx="216.6" cy="215.2" r="0.67" fill="#9a7830"/><circle cx="237.1" cy="230.1" r="0.71" fill="#c8a450"/><circle cx="223.7" cy="203.8" r="0.56" fill="#a8843a"/><circle cx="214.5" cy="210.4" r="0.64" fill="#c8a450"/><circle cx="275.1" cy="219.7" r="0.69" fill="#c8a450"/><circle cx="284.5" cy="214.6" r="0.50" fill="#c8a450"/><circle cx="241.7" cy="193.5" r="0.48" fill="#d0b060"/><circle cx="292.2" cy="206.8" r="0.64" fill="#a8843a"/><circle cx="262.0" cy="211.8" r="0.70" fill="#a8843a"/><circle cx="241.2" cy="234.0" r="0.68" fill="#9a7830"/><circle cx="280.9" cy="214.3" r="0.50" fill="#9a7830"/><circle cx="272.9" cy="203.8" r="0.58" fill="#d0b060"/><circle cx="271.8" cy="213.0" r="0.51" fill="#9a7830"/><circle cx="263.9" cy="220.1" r="0.46" fill="#c8a450"/><circle cx="270.1" cy="214.2" r="0.41" fill="#c8a450"/><circle cx="266.0" cy="210.3" r="0.47" fill="#d0b060"/><circle cx="273.3" cy="213.1" r="0.56" fill="#a8843a"/><circle cx="250.2" cy="224.0" r="0.41" fill="#9a7830"/><circle cx="278.6" cy="217.4" r="0.70" fill="#9a7830"/><circle cx="258.1" cy="207.4" r="0.70" fill="#9a7830"/><circle cx="224.5" cy="194.4" r="0.69" fill="#d0b060"/><circle cx="280.5" cy="203.5" r="0.58" fill="#d0b060"/><circle cx="261.9" cy="209.9" r="0.45" fill="#d0b060"/><circle cx="247.8" cy="203.5" r="0.47" fill="#d0b060"/><circle cx="258.0" cy="208.9" r="0.63" fill="#c8a450"/><circle cx="226.3" cy="220.7" r="0.61" fill="#c8a450"/><circle cx="219.2" cy="222.9" r="0.73" fill="#9a7830"/><circle cx="289.1" cy="224.8" r="0.65" fill="#c8a450"/><circle cx="295.2" cy="192.1" r="0.56" fill="#d0b060"/><circle cx="227.8" cy="230.2" r="0.78" fill="#9a7830"/><circle cx="225.3" cy="210.8" r="0.72" fill="#a8843a"/><circle cx="260.1" cy="234.4" r="0.73" fill="#9a7830"/><circle cx="266.6" cy="203.9" r="0.69" fill="#d0b060"/><circle cx="228.2" cy="193.0" r="0.54" fill="#a8843a"/><circle cx="235.6" cy="207.7" r="0.63" fill="#c8a450"/><circle cx="249.5" cy="204.2" r="0.44" fill="#9a7830"/><circle cx="222.2" cy="231.6" r="0.51" fill="#9a7830"/><circle cx="294.7" cy="212.1" r="0.59" fill="#d0b060"/><circle cx="261.9" cy="235.3" r="0.67" fill="#d0b060"/><circle cx="256.7" cy="205.1" r="0.54" fill="#a8843a"/><circle cx="270.3" cy="195.2" r="0.67" fill="#c8a450"/><circle cx="238.5" cy="222.6" r="0.68" fill="#d0b060"/><circle cx="235.7" cy="213.5" r="0.61" fill="#9a7830"/><circle cx="241.1" cy="220.6" r="0.55" fill="#a8843a"/><circle cx="225.8" cy="202.7" r="0.55" fill="#9a7830"/><circle cx="296.2" cy="235.4" r="0.57" fill="#d0b060"/><circle cx="238.0" cy="211.1" r="0.47" fill="#d0b060"/><circle cx="232.4" cy="210.0" r="0.51" fill="#a8843a"/></g><circle cx="247.1" cy="217.7" r="0.66" fill="#b09040"/><circle cx="244.6" cy="207.6" r="0.47" fill="#b09040"/><circle cx="220.6" cy="227.0" r="0.61" fill="#c8a450"/><circle cx="271.6" cy="211.1" r="0.52" fill="#c8a450"/><circle cx="242.8" cy="209.6" r="0.48" fill="#b09040"/><circle cx="221.6" cy="198.8" r="0.43" fill="#c8a450"/><circle cx="221.3" cy="221.0" r="0.69" fill="#b09040"/><circle cx="241.6" cy="199.8" r="0.54" fill="#b09040"/><circle cx="228.2" cy="206.3" r="0.47" fill="#b09040"/><circle cx="215.7" cy="234.4" r="0.60" fill="#b09040"/><circle cx="275.5" cy="223.8" r="0.65" fill="#c8a450"/><circle cx="243.8" cy="214.8" r="0.54" fill="#b09040"/><circle cx="232.1" cy="214.2" r="0.64" fill="#c8a450"/><circle cx="265.0" cy="234.9" r="0.62" fill="#c8a450"/></g><g clip-path="url(#c5)"><rect x="360.3" y="94" width="48.3" height="7" fill="#4a663e"/><ellipse cx="368.1" cy="98.1" rx="1.63" ry="0.74" fill="#8a9a80"/><ellipse cx="408.5" cy="96.8" rx="1.96" ry="0.59" fill="#a0a890"/><ellipse cx="371.6" cy="94.0" rx="1.37" ry="0.79" fill="#8a9a80"/><ellipse cx="367.1" cy="98.5" rx="1.92" ry="0.85" fill="#62785a"/><ellipse cx="408.9" cy="98.4" rx="1.88" ry="0.81" fill="#8a9a80"/><ellipse cx="406.9" cy="97.2" rx="1.69" ry="0.82" fill="#62785a"/><ellipse cx="361.1" cy="98.4" rx="1.09" ry="0.90" fill="#8a9a80"/><ellipse cx="382.2" cy="97.3" rx="1.34" ry="0.74" fill="#8a9a80"/><ellipse cx="392.6" cy="96.8" rx="1.82" ry="0.54" fill="#8a9a80"/><ellipse cx="370.2" cy="99.8" rx="1.89" ry="0.88" fill="#a0a890"/><ellipse cx="408.5" cy="94.4" rx="1.56" ry="0.78" fill="#62785a"/><ellipse cx="369.9" cy="99.5" rx="1.89" ry="0.70" fill="#62785a"/><ellipse cx="406.8" cy="97.0" rx="1.32" ry="0.74" fill="#62785a"/><ellipse cx="361.3" cy="94.6" rx="1.72" ry="1.00" fill="#62785a"/><ellipse cx="360.1" cy="94.4" rx="1.60" ry="0.76" fill="#a0a890"/><ellipse cx="389.8" cy="97.3" rx="1.62" ry="0.59" fill="#8a9a80"/><rect x="360.3" y="100.5" width="48.3" height="3" fill="#a4bc74"/><rect x="360.3" y="103.5" width="48.3" height="10.5" fill="#9aaaae"/><path d="M360.3,114 C372,112 384,111 408.6,113 L408.6,148.9 L360.3,148.9 Z" fill="#b8c0aa"/><ellipse cx="390.5" cy="133.0" rx="1.40" ry="1.16" fill="#eef0ec"/><ellipse cx="401.2" cy="134.0" rx="0.85" ry="0.54" fill="#ffffff"/><ellipse cx="365.5" cy="125.7" rx="0.85" ry="0.88" fill="#ffffff"/><ellipse cx="360.6" cy="118.9" rx="0.88" ry="1.14" fill="#c8d0c0"/><ellipse cx="367.8" cy="134.5" rx="0.74" ry="0.93" fill="#ffffff"/><ellipse cx="366.5" cy="139.3" rx="0.61" ry="1.04" fill="#ffffff"/><ellipse cx="402.7" cy="120.8" rx="1.56" ry="0.88" fill="#ffffff"/><ellipse cx="368.9" cy="139.2" rx="0.80" ry="1.18" fill="#c8d0c0"/><ellipse cx="374.6" cy="122.8" rx="0.77" ry="0.60" fill="#eef0ec"/><ellipse cx="376.3" cy="135.1" rx="1.19" ry="0.92" fill="#dfe4da"/><ellipse cx="363.2" cy="122.6" rx="0.91" ry="0.99" fill="#ffffff"/><ellipse cx="383.6" cy="132.0" rx="0.66" ry="1.18" fill="#eef0ec"/><ellipse cx="406.5" cy="122.7" rx="1.00" ry="0.88" fill="#c8d0c0"/><ellipse cx="377.9" cy="128.6" rx="0.61" ry="0.53" fill="#ffffff"/><ellipse cx="390.6" cy="138.8" rx="0.72" ry="0.67" fill="#c8d0c0"/><ellipse cx="376.9" cy="122.6" rx="1.12" ry="1.04" fill="#eef0ec"/><ellipse cx="388.9" cy="134.1" rx="0.97" ry="0.71" fill="#c8d0c0"/><ellipse cx="406.3" cy="115.5" rx="0.94" ry="0.93" fill="#ffffff"/><ellipse cx="376.7" cy="138.0" rx="1.15" ry="0.72" fill="#dfe4da"/><ellipse cx="375.0" cy="134.6" rx="1.23" ry="1.00" fill="#dfe4da"/><ellipse cx="408.8" cy="117.4" rx="0.65" ry="1.19" fill="#c8d0c0"/><ellipse cx="361.6" cy="133.0" rx="0.94" ry="0.68" fill="#c8d0c0"/><ellipse cx="367.1" cy="139.4" rx="1.24" ry="1.06" fill="#dfe4da"/><ellipse cx="401.1" cy="116.5" rx="1.33" ry="1.16" fill="#c8d0c0"/><ellipse cx="365.2" cy="124.7" rx="0.75" ry="1.09" fill="#dfe4da"/><ellipse cx="366.9" cy="137.9" rx="1.22" ry="0.62" fill="#c8d0c0"/><ellipse cx="407.0" cy="131.6" rx="0.92" ry="0.69" fill="#c8d0c0"/><ellipse cx="379.8" cy="117.0" rx="0.98" ry="1.19" fill="#ffffff"/><ellipse cx="390.7" cy="126.5" rx="0.94" ry="0.56" fill="#dfe4da"/><ellipse cx="385.2" cy="127.8" rx="1.10" ry="0.54" fill="#dfe4da"/><ellipse cx="394.0" cy="130.9" rx="1.36" ry="0.75" fill="#dfe4da"/><ellipse cx="400.9" cy="120.2" rx="1.58" ry="1.00" fill="#dfe4da"/><ellipse cx="391.8" cy="128.7" rx="0.61" ry="0.88" fill="#dfe4da"/><ellipse cx="376.0" cy="120.4" rx="0.89" ry="0.85" fill="#dfe4da"/><ellipse cx="377.0" cy="130.4" rx="1.34" ry="1.08" fill="#dfe4da"/><ellipse cx="405.2" cy="117.7" rx="1.47" ry="0.81" fill="#dfe4da"/><ellipse cx="406.9" cy="127.0" rx="1.13" ry="0.62" fill="#dfe4da"/><ellipse cx="405.9" cy="125.9" rx="1.29" ry="1.00" fill="#c8d0c0"/><ellipse cx="368.4" cy="134.1" rx="1.18" ry="0.97" fill="#c8d0c0"/><ellipse cx="374.8" cy="127.9" rx="1.47" ry="0.69" fill="#eef0ec"/><ellipse cx="369.6" cy="128.8" rx="1.22" ry="0.63" fill="#ffffff"/><ellipse cx="390.9" cy="114.1" rx="1.07" ry="0.66" fill="#eef0ec"/><ellipse cx="403.7" cy="116.0" rx="1.57" ry="0.84" fill="#eef0ec"/><ellipse cx="380.4" cy="122.5" rx="1.26" ry="0.55" fill="#ffffff"/><ellipse cx="371.7" cy="137.4" rx="0.60" ry="0.78" fill="#dfe4da"/><ellipse cx="401.9" cy="136.4" rx="1.29" ry="0.88" fill="#eef0ec"/><ellipse cx="386.9" cy="121.1" rx="0.90" ry="0.86" fill="#dfe4da"/><ellipse cx="407.0" cy="135.1" rx="1.02" ry="1.07" fill="#dfe4da"/><ellipse cx="382.9" cy="117.2" rx="0.98" ry="0.83" fill="#ffffff"/><ellipse cx="407.4" cy="129.4" rx="0.95" ry="1.13" fill="#eef0ec"/><ellipse cx="378.7" cy="121.8" rx="1.52" ry="0.88" fill="#dfe4da"/><ellipse cx="390.8" cy="137.1" rx="0.98" ry="0.80" fill="#ffffff"/><ellipse cx="384.2" cy="125.9" rx="1.31" ry="0.77" fill="#ffffff"/><ellipse cx="389.2" cy="120.0" rx="1.58" ry="0.85" fill="#c8d0c0"/><ellipse cx="361.0" cy="138.5" rx="0.91" ry="1.15" fill="#ffffff"/><ellipse cx="383.4" cy="116.3" rx="1.22" ry="0.81" fill="#dfe4da"/><ellipse cx="362.0" cy="116.7" rx="0.99" ry="0.84" fill="#dfe4da"/><ellipse cx="371.9" cy="125.8" rx="0.64" ry="0.84" fill="#ffffff"/><ellipse cx="395.4" cy="120.7" rx="1.09" ry="1.19" fill="#eef0ec"/><ellipse cx="360.8" cy="116.4" rx="0.88" ry="1.00" fill="#dfe4da"/><ellipse cx="395.8" cy="113.7" rx="0.95" ry="0.98" fill="#ffffff"/><ellipse cx="361.8" cy="119.8" rx="1.06" ry="1.14" fill="#ffffff"/><ellipse cx="360.7" cy="134.0" rx="1.03" ry="0.90" fill="#c8d0c0"/><ellipse cx="402.1" cy="135.7" rx="1.08" ry="0.98" fill="#ffffff"/><ellipse cx="404.0" cy="125.6" rx="1.36" ry="0.71" fill="#eef0ec"/><ellipse cx="394.0" cy="124.7" rx="0.89" ry="1.05" fill="#dfe4da"/><ellipse cx="367.0" cy="125.9" rx="1.15" ry="0.85" fill="#dfe4da"/><ellipse cx="386.4" cy="124.5" rx="1.14" ry="0.53" fill="#ffffff"/><ellipse cx="373.1" cy="115.3" rx="0.66" ry="1.16" fill="#dfe4da"/><ellipse cx="395.4" cy="139.4" rx="1.60" ry="0.99" fill="#eef0ec"/><ellipse cx="366.0" cy="116.3" rx="1.21" ry="1.08" fill="#eef0ec"/><ellipse cx="394.9" cy="116.6" rx="0.89" ry="1.14" fill="#ffffff"/><ellipse cx="369.0" cy="118.0" rx="1.40" ry="0.55" fill="#ffffff"/><ellipse cx="362.1" cy="115.9" rx="0.98" ry="0.55" fill="#eef0ec"/><ellipse cx="388.0" cy="116.2" rx="1.00" ry="0.94" fill="#eef0ec"/><ellipse cx="381.2" cy="121.5" rx="1.20" ry="0.84" fill="#dfe4da"/><ellipse cx="404.8" cy="116.7" rx="0.89" ry="0.90" fill="#dfe4da"/><ellipse cx="404.6" cy="128.0" rx="1.22" ry="0.68" fill="#ffffff"/><ellipse cx="372.5" cy="133.3" rx="1.12" ry="0.59" fill="#ffffff"/><ellipse cx="402.3" cy="125.2" rx="0.99" ry="0.59" fill="#eef0ec"/><ellipse cx="392.1" cy="115.3" rx="1.27" ry="0.56" fill="#eef0ec"/><ellipse cx="384.8" cy="125.2" rx="0.99" ry="0.82" fill="#dfe4da"/><ellipse cx="365.3" cy="127.3" rx="1.14" ry="0.77" fill="#ffffff"/><ellipse cx="406.3" cy="124.6" rx="1.39" ry="1.02" fill="#eef0ec"/><ellipse cx="407.7" cy="131.0" rx="1.42" ry="0.60" fill="#c8d0c0"/><ellipse cx="377.4" cy="119.3" rx="0.93" ry="0.93" fill="#dfe4da"/><ellipse cx="399.0" cy="123.2" rx="1.32" ry="0.75" fill="#dfe4da"/><ellipse cx="399.4" cy="124.7" rx="1.45" ry="0.86" fill="#ffffff"/><ellipse cx="396.3" cy="123.7" rx="0.70" ry="0.52" fill="#ffffff"/><ellipse cx="369.6" cy="126.2" rx="1.54" ry="0.96" fill="#dfe4da"/><ellipse cx="360.0" cy="125.7" rx="1.49" ry="0.93" fill="#c8d0c0"/><ellipse cx="375.8" cy="125.5" rx="0.79" ry="0.96" fill="#eef0ec"/><ellipse cx="378.4" cy="123.4" rx="1.48" ry="0.61" fill="#dfe4da"/><ellipse cx="365.4" cy="135.1" rx="1.35" ry="0.97" fill="#eef0ec"/><ellipse cx="383.6" cy="113.9" rx="1.52" ry="0.76" fill="#eef0ec"/><ellipse cx="393.7" cy="131.2" rx="1.07" ry="1.16" fill="#eef0ec"/><ellipse cx="398.5" cy="121.8" rx="1.05" ry="0.67" fill="#ffffff"/><ellipse cx="361.6" cy="132.3" rx="1.17" ry="0.96" fill="#c8d0c0"/><ellipse cx="404.7" cy="132.1" rx="1.28" ry="0.63" fill="#dfe4da"/><ellipse cx="373.9" cy="132.8" rx="1.32" ry="0.61" fill="#ffffff"/><ellipse cx="368.6" cy="118.6" rx="0.64" ry="0.93" fill="#dfe4da"/><ellipse cx="360.3" cy="114.6" rx="1.38" ry="0.79" fill="#eef0ec"/><ellipse cx="361.6" cy="135.6" rx="1.44" ry="0.90" fill="#eef0ec"/><ellipse cx="395.1" cy="119.4" rx="1.40" ry="0.56" fill="#c8d0c0"/><ellipse cx="362.6" cy="119.6" rx="0.65" ry="0.78" fill="#eef0ec"/><ellipse cx="362.3" cy="135.5" rx="1.05" ry="0.95" fill="#eef0ec"/><ellipse cx="406.6" cy="118.3" rx="1.30" ry="0.95" fill="#ffffff"/><ellipse cx="386.0" cy="115.3" rx="0.91" ry="0.58" fill="#ffffff"/><ellipse cx="389.3" cy="136.1" rx="0.81" ry="0.51" fill="#dfe4da"/><ellipse cx="383.8" cy="128.4" rx="0.98" ry="0.94" fill="#eef0ec"/><ellipse cx="404.7" cy="121.3" rx="1.05" ry="1.08" fill="#ffffff"/><ellipse cx="387.2" cy="116.7" rx="1.08" ry="1.05" fill="#dfe4da"/><ellipse cx="400.2" cy="121.4" rx="0.73" ry="0.56" fill="#ffffff"/><ellipse cx="394.2" cy="134.6" rx="1.57" ry="0.97" fill="#dfe4da"/><ellipse cx="363.0" cy="131.9" rx="0.65" ry="0.64" fill="#dfe4da"/><ellipse cx="403.3" cy="136.9" rx="0.67" ry="1.04" fill="#c8d0c0"/><ellipse cx="396.9" cy="128.0" rx="1.50" ry="0.96" fill="#ffffff"/><ellipse cx="388.2" cy="124.9" rx="1.42" ry="0.96" fill="#eef0ec"/><ellipse cx="395.7" cy="131.9" rx="0.87" ry="1.07" fill="#c8d0c0"/><ellipse cx="387.5" cy="121.7" rx="0.91" ry="0.60" fill="#c8d0c0"/><ellipse cx="393.1" cy="120.7" rx="0.66" ry="1.03" fill="#eef0ec"/><ellipse cx="361.3" cy="114.4" rx="0.73" ry="0.75" fill="#dfe4da"/><ellipse cx="406.5" cy="129.5" rx="0.83" ry="0.80" fill="#dfe4da"/><ellipse cx="369.9" cy="122.7" rx="0.76" ry="0.93" fill="#ffffff"/><ellipse cx="395.6" cy="115.6" rx="1.13" ry="0.62" fill="#ffffff"/><ellipse cx="381.9" cy="138.3" rx="1.39" ry="0.58" fill="#dfe4da"/><ellipse cx="381.8" cy="119.2" rx="1.20" ry="0.62" fill="#eef0ec"/><ellipse cx="397.6" cy="138.3" rx="1.13" ry="1.18" fill="#eef0ec"/><ellipse cx="365.1" cy="135.0" rx="1.02" ry="0.54" fill="#eef0ec"/><ellipse cx="361.6" cy="128.6" rx="1.08" ry="1.12" fill="#c8d0c0"/><ellipse cx="382.7" cy="118.4" rx="1.42" ry="0.71" fill="#dfe4da"/><ellipse cx="397.5" cy="134.2" rx="0.97" ry="1.07" fill="#eef0ec"/><ellipse cx="390.3" cy="123.8" rx="0.74" ry="1.08" fill="#c8d0c0"/><ellipse cx="378.7" cy="115.5" rx="1.00" ry="1.03" fill="#dfe4da"/><ellipse cx="404.1" cy="118.4" rx="1.40" ry="0.73" fill="#c8d0c0"/><ellipse cx="402.3" cy="129.8" rx="1.40" ry="0.76" fill="#eef0ec"/><ellipse cx="365.1" cy="129.3" rx="1.22" ry="1.07" fill="#eef0ec"/><ellipse cx="375.5" cy="113.7" rx="0.91" ry="0.77" fill="#c8d0c0"/><ellipse cx="386.7" cy="131.6" rx="1.05" ry="1.05" fill="#eef0ec"/><ellipse cx="386.3" cy="134.6" rx="0.96" ry="0.92" fill="#ffffff"/><ellipse cx="373.9" cy="115.1" rx="0.69" ry="0.75" fill="#c8d0c0"/><ellipse cx="375.0" cy="138.1" rx="0.87" ry="1.00" fill="#eef0ec"/><ellipse cx="361.9" cy="115.4" rx="1.56" ry="0.71" fill="#dfe4da"/><ellipse cx="393.7" cy="135.6" rx="1.34" ry="0.93" fill="#ffffff"/><ellipse cx="383.7" cy="115.5" rx="0.72" ry="0.74" fill="#c8d0c0"/><ellipse cx="379.3" cy="113.1" rx="0.99" ry="0.62" fill="#ffffff"/><ellipse cx="404.6" cy="129.6" rx="0.99" ry="0.58" fill="#dfe4da"/><ellipse cx="372.2" cy="115.7" rx="0.89" ry="1.06" fill="#eef0ec"/><ellipse cx="404.0" cy="117.5" rx="1.23" ry="1.04" fill="#ffffff"/><ellipse cx="392.1" cy="128.4" rx="1.23" ry="0.95" fill="#c8d0c0"/><ellipse cx="380.4" cy="124.5" rx="1.13" ry="1.13" fill="#dfe4da"/><ellipse cx="380.5" cy="115.3" rx="1.49" ry="0.73" fill="#c8d0c0"/><ellipse cx="361.5" cy="116.1" rx="1.16" ry="0.92" fill="#ffffff"/><ellipse cx="381.3" cy="121.8" rx="0.70" ry="1.05" fill="#dfe4da"/><ellipse cx="395.7" cy="114.7" rx="1.08" ry="1.08" fill="#eef0ec"/><ellipse cx="375.6" cy="136.0" rx="1.25" ry="1.15" fill="#ffffff"/><ellipse cx="403.8" cy="129.6" rx="1.40" ry="1.09" fill="#eef0ec"/><ellipse cx="369.5" cy="117.2" rx="0.69" ry="0.61" fill="#eef0ec"/><ellipse cx="388.2" cy="124.9" rx="0.92" ry="1.04" fill="#ffffff"/><ellipse cx="394.9" cy="138.0" rx="1.56" ry="0.94" fill="#eef0ec"/><ellipse cx="377.9" cy="135.0" rx="0.80" ry="0.73" fill="#ffffff"/><ellipse cx="382.5" cy="131.4" rx="1.34" ry="0.56" fill="#c8d0c0"/><ellipse cx="406.1" cy="125.6" rx="0.61" ry="1.19" fill="#dfe4da"/><ellipse cx="366.5" cy="113.1" rx="0.98" ry="0.74" fill="#eef0ec"/><ellipse cx="384.0" cy="138.3" rx="1.31" ry="0.51" fill="#c8d0c0"/><ellipse cx="409.0" cy="133.3" rx="0.80" ry="0.74" fill="#ffffff"/><ellipse cx="374.2" cy="126.5" rx="1.30" ry="1.05" fill="#eef0ec"/><ellipse cx="374.5" cy="122.1" rx="1.45" ry="0.86" fill="#eef0ec"/><ellipse cx="370.8" cy="139.6" rx="0.87" ry="1.00" fill="#ffffff"/><ellipse cx="373.3" cy="115.6" rx="1.08" ry="1.19" fill="#c8d0c0"/><ellipse cx="378.5" cy="147.5" rx="1.27" ry="0.65" fill="#dfe4da"/><ellipse cx="391.2" cy="128.9" rx="1.36" ry="0.68" fill="#dfe4da"/><ellipse cx="387.7" cy="130.0" rx="1.29" ry="0.90" fill="#f4f6f2"/><ellipse cx="400.8" cy="138.8" rx="1.24" ry="0.94" fill="#eef0ec"/><ellipse cx="386.9" cy="138.8" rx="1.02" ry="1.12" fill="#f4f6f2"/><ellipse cx="393.2" cy="140.6" rx="0.89" ry="0.75" fill="#f4f6f2"/><ellipse cx="367.9" cy="137.7" rx="0.66" ry="0.89" fill="#f4f6f2"/><ellipse cx="391.2" cy="143.3" rx="1.37" ry="0.88" fill="#eef0ec"/><ellipse cx="400.0" cy="132.6" rx="0.94" ry="0.89" fill="#dfe4da"/><ellipse cx="399.4" cy="140.8" rx="1.12" ry="0.81" fill="#dfe4da"/><ellipse cx="373.9" cy="129.0" rx="0.93" ry="1.07" fill="#f4f6f2"/><ellipse cx="407.4" cy="128.4" rx="1.35" ry="0.80" fill="#f4f6f2"/><ellipse cx="377.2" cy="129.3" rx="0.70" ry="0.56" fill="#f4f6f2"/><ellipse cx="369.2" cy="141.3" rx="0.71" ry="1.15" fill="#dfe4da"/><ellipse cx="370.3" cy="141.3" rx="1.32" ry="1.05" fill="#f4f6f2"/><ellipse cx="382.1" cy="134.4" rx="1.00" ry="0.82" fill="#f4f6f2"/><ellipse cx="380.7" cy="135.9" rx="1.00" ry="1.15" fill="#dfe4da"/><ellipse cx="380.4" cy="144.9" rx="1.17" ry="0.90" fill="#f4f6f2"/><ellipse cx="404.7" cy="140.0" rx="0.74" ry="0.94" fill="#f4f6f2"/><ellipse cx="365.4" cy="145.0" rx="1.07" ry="0.52" fill="#f4f6f2"/><ellipse cx="399.8" cy="143.0" rx="0.63" ry="1.13" fill="#eef0ec"/><ellipse cx="390.0" cy="129.6" rx="0.93" ry="1.18" fill="#f4f6f2"/><ellipse cx="392.0" cy="139.4" rx="0.70" ry="1.17" fill="#f4f6f2"/><ellipse cx="364.6" cy="139.8" rx="1.37" ry="0.99" fill="#f4f6f2"/><ellipse cx="403.7" cy="131.6" rx="0.66" ry="1.14" fill="#dfe4da"/><ellipse cx="394.9" cy="138.6" rx="0.78" ry="0.55" fill="#eef0ec"/><ellipse cx="393.9" cy="134.1" rx="0.97" ry="0.70" fill="#dfe4da"/><ellipse cx="373.9" cy="133.8" rx="1.29" ry="0.69" fill="#dfe4da"/><ellipse cx="361.9" cy="134.5" rx="1.33" ry="0.55" fill="#f4f6f2"/><ellipse cx="408.1" cy="135.2" rx="0.98" ry="0.54" fill="#dfe4da"/><ellipse cx="382.0" cy="145.2" rx="0.64" ry="0.81" fill="#dfe4da"/><ellipse cx="404.7" cy="144.3" rx="0.89" ry="0.55" fill="#eef0ec"/><ellipse cx="391.9" cy="147.9" rx="1.26" ry="0.78" fill="#eef0ec"/><ellipse cx="366.4" cy="146.4" rx="1.14" ry="1.00" fill="#f4f6f2"/><ellipse cx="375.4" cy="147.0" rx="1.38" ry="1.14" fill="#eef0ec"/><ellipse cx="363.7" cy="135.9" rx="1.39" ry="0.58" fill="#f4f6f2"/><ellipse cx="400.0" cy="128.7" rx="1.17" ry="1.03" fill="#f4f6f2"/><ellipse cx="384.5" cy="144.9" rx="1.24" ry="1.06" fill="#eef0ec"/><ellipse cx="406.4" cy="138.1" rx="0.74" ry="0.78" fill="#f4f6f2"/><ellipse cx="403.7" cy="143.7" rx="1.19" ry="0.61" fill="#f4f6f2"/><ellipse cx="378.0" cy="130.4" rx="1.39" ry="0.72" fill="#f4f6f2"/><ellipse cx="386.5" cy="139.3" rx="0.74" ry="0.85" fill="#eef0ec"/><ellipse cx="395.7" cy="129.4" rx="1.12" ry="1.03" fill="#dfe4da"/><ellipse cx="368.9" cy="144.5" rx="0.71" ry="0.64" fill="#dfe4da"/><ellipse cx="403.3" cy="142.6" rx="0.76" ry="1.19" fill="#dfe4da"/><ellipse cx="379.4" cy="134.6" rx="0.88" ry="1.20" fill="#eef0ec"/><ellipse cx="380.7" cy="128.8" rx="0.99" ry="0.99" fill="#f4f6f2"/><ellipse cx="370.2" cy="133.7" rx="1.09" ry="1.08" fill="#dfe4da"/><ellipse cx="377.6" cy="146.2" rx="0.76" ry="0.94" fill="#f4f6f2"/><ellipse cx="362.3" cy="128.5" rx="0.69" ry="0.88" fill="#dfe4da"/><ellipse cx="399.2" cy="141.1" rx="1.32" ry="1.05" fill="#dfe4da"/><ellipse cx="380.5" cy="136.9" rx="1.40" ry="1.11" fill="#eef0ec"/><ellipse cx="402.7" cy="138.4" rx="0.80" ry="0.89" fill="#dfe4da"/><ellipse cx="378.9" cy="128.2" rx="0.61" ry="0.73" fill="#eef0ec"/><ellipse cx="362.6" cy="144.0" rx="0.68" ry="0.84" fill="#f4f6f2"/><ellipse cx="366.1" cy="146.3" rx="1.31" ry="0.86" fill="#dfe4da"/><ellipse cx="408.0" cy="139.1" rx="0.99" ry="0.80" fill="#eef0ec"/><ellipse cx="396.9" cy="140.1" rx="0.73" ry="0.93" fill="#eef0ec"/><ellipse cx="373.0" cy="135.9" rx="0.94" ry="1.18" fill="#dfe4da"/><ellipse cx="395.4" cy="143.0" rx="1.32" ry="0.58" fill="#dfe4da"/><ellipse cx="398.9" cy="143.1" rx="0.84" ry="0.56" fill="#6e8a58"/><ellipse cx="367.1" cy="135.4" rx="1.18" ry="0.84" fill="#86a06a"/><ellipse cx="397.7" cy="125.0" rx="1.06" ry="0.84" fill="#86a06a"/><ellipse cx="404.6" cy="133.8" rx="0.57" ry="0.74" fill="#86a06a"/><ellipse cx="392.5" cy="136.1" rx="0.56" ry="0.65" fill="#6e8a58"/><ellipse cx="377.7" cy="129.5" rx="0.68" ry="0.82" fill="#6e8a58"/><ellipse cx="394.3" cy="142.3" rx="0.57" ry="0.43" fill="#6e8a58"/><ellipse cx="400.6" cy="146.1" rx="0.84" ry="0.90" fill="#6e8a58"/><ellipse cx="385.2" cy="137.3" rx="0.99" ry="0.88" fill="#6e8a58"/><ellipse cx="391.0" cy="124.1" rx="0.80" ry="0.61" fill="#6e8a58"/><ellipse cx="364.4" cy="145.0" rx="0.87" ry="0.47" fill="#86a06a"/><ellipse cx="375.3" cy="122.5" rx="0.84" ry="0.48" fill="#6e8a58"/><ellipse cx="400.9" cy="144.9" rx="0.87" ry="0.51" fill="#6e8a58"/><ellipse cx="360.8" cy="127.0" rx="1.13" ry="0.77" fill="#86a06a"/><ellipse cx="378.4" cy="133.4" rx="0.70" ry="0.81" fill="#86a06a"/><ellipse cx="362.6" cy="130.0" rx="1.02" ry="0.64" fill="#86a06a"/><ellipse cx="372.0" cy="148.3" rx="1.12" ry="0.80" fill="#86a06a"/><ellipse cx="381.9" cy="143.4" rx="1.06" ry="0.71" fill="#86a06a"/><ellipse cx="374.9" cy="142.9" rx="1.16" ry="0.52" fill="#86a06a"/><ellipse cx="382.1" cy="139.8" rx="1.18" ry="0.41" fill="#6e8a58"/><ellipse cx="372.3" cy="142.5" rx="0.63" ry="0.70" fill="#86a06a"/><ellipse cx="405.5" cy="124.4" rx="0.79" ry="0.93" fill="#86a06a"/><ellipse cx="373.1" cy="131.7" rx="0.83" ry="0.49" fill="#86a06a"/><ellipse cx="384.3" cy="136.9" rx="0.83" ry="0.62" fill="#6e8a58"/><ellipse cx="407.6" cy="146.5" rx="0.76" ry="0.76" fill="#86a06a"/><ellipse cx="391.7" cy="148.2" rx="1.01" ry="0.49" fill="#86a06a"/><ellipse cx="387.4" cy="136.6" rx="1.18" ry="0.51" fill="#6e8a58"/><ellipse cx="393.4" cy="128.2" rx="1.19" ry="0.70" fill="#6e8a58"/><ellipse cx="405.0" cy="121.1" rx="0.69" ry="0.41" fill="#86a06a"/><ellipse cx="363.7" cy="123.7" rx="0.76" ry="0.98" fill="#6e8a58"/><ellipse cx="389.7" cy="120.8" rx="0.94" ry="0.46" fill="#6e8a58"/><ellipse cx="362.2" cy="131.8" rx="1.01" ry="0.44" fill="#6e8a58"/><ellipse cx="394.4" cy="120.2" rx="1.08" ry="0.45" fill="#86a06a"/><ellipse cx="404.5" cy="145.5" rx="0.82" ry="0.82" fill="#6e8a58"/><ellipse cx="400.1" cy="122.2" rx="1.15" ry="0.69" fill="#86a06a"/><ellipse cx="381.9" cy="125.1" rx="1.00" ry="0.44" fill="#86a06a"/><ellipse cx="407.9" cy="125.4" rx="1.16" ry="0.45" fill="#86a06a"/><ellipse cx="373.7" cy="147.9" rx="0.80" ry="0.95" fill="#6e8a58"/><ellipse cx="395.0" cy="124.2" rx="0.92" ry="0.54" fill="#6e8a58"/><ellipse cx="396.2" cy="127.1" rx="0.52" ry="0.97" fill="#6e8a58"/><ellipse cx="394.3" cy="127.3" rx="0.55" ry="0.84" fill="#6e8a58"/><ellipse cx="379.6" cy="120.5" rx="1.02" ry="0.78" fill="#6e8a58"/><ellipse cx="363.6" cy="133.2" rx="0.52" ry="0.72" fill="#6e8a58"/><ellipse cx="369.0" cy="140.4" rx="0.86" ry="0.91" fill="#6e8a58"/><ellipse cx="406.3" cy="139.0" rx="1.00" ry="0.48" fill="#6e8a58"/><rect x="408.6" y="94" width="46.5" height="54.9" fill="#e6e6ea"/><polygon points="409.4,128.6 413.5,128.6 415.8,123.9 420.5,121.0 427.5,118.1 436.9,112.2 443.9,107.5 448.5,104.0 450.9,102.3 453.2,104.0 453.8,113.4 452.1,120.4 448.5,127.4 443.9,133.3 439.2,136.8 432.2,139.1 425.2,139.1 418.1,136.8 413.5,139.1 409.4,142.6" fill="#84766a"/><polygon points="417.0,123.9 427.5,118.1 443.9,107.5 450.9,102.3 453.2,105.2 448.5,116.9 436.9,125.1 425.2,129.8 418.1,128.6" fill="#aca090"/><polygon points="425.2,125.1 436.9,119.2 446.2,112.2 449.7,109.9 447.4,119.2 439.2,125.1 429.8,128.6" fill="#b8ac9c" opacity="0.8"/><polygon points="446.2,128.6 453.8,119.2 454.4,139.1 443.9,140.3" fill="#c4c4cc" opacity="0.7"/><ellipse cx="440.4" cy="134.4" rx="2.6" ry="3.2" fill="#60c4ac"/></g><g clip-path="url(#c6)"><rect x="360.3" y="166.4" width="47" height="51.5" fill="#b09ca0"/><path d="M360,166 L400,166 L385,172 L360,178 Z" fill="#5e5050"/><ellipse cx="365" cy="200" rx="6" ry="22" fill="#e8cfd4" transform="rotate(-28 365 200)"/><ellipse cx="374" cy="196" rx="6" ry="22" fill="#f0dde0" transform="rotate(-28 374 196)"/><ellipse cx="382" cy="188" rx="6" ry="19" fill="#e6c8ce" transform="rotate(-28 382 188)"/><ellipse cx="391" cy="183" rx="5.5" ry="17" fill="#efd8dc" transform="rotate(-28 391 183)"/><ellipse cx="399" cy="178" rx="5" ry="15" fill="#e8d0d4" transform="rotate(-28 399 178)"/><ellipse cx="405" cy="174" rx="4" ry="12" fill="#f2e0e4" transform="rotate(-28 405 174)"/><path d="M382,218 L407,198 L407,218 Z" fill="#5a5050"/><path d="M392,218 L407,206 L407,218 Z" fill="#b0b0b0"/><rect x="407" y="166.4" width="48" height="51.5" fill="#b4b0b0"/><rect x="412" y="166.4" width="1.2" height="51.5" fill="#e0e0e0" opacity="0.7"/><rect x="421" y="166.4" width="1.2" height="51.5" fill="#e0e0e0" opacity="0.7"/><rect x="433" y="166.4" width="1.2" height="51.5" fill="#e0e0e0" opacity="0.7"/><rect x="441" y="166.4" width="1.2" height="51.5" fill="#e0e0e0" opacity="0.7"/><rect x="451" y="166.4" width="1.2" height="51.5" fill="#e0e0e0" opacity="0.7"/><ellipse cx="422.5" cy="178.9" rx="1.98" ry="1.61" fill="#e8e8e8"/><ellipse cx="411.5" cy="198.8" rx="2.29" ry="1.82" fill="#f4f4f4"/><ellipse cx="427.8" cy="175.2" rx="1.31" ry="2.14" fill="#e8e8e8"/><ellipse cx="412.9" cy="182.3" rx="1.95" ry="2.92" fill="#e8e8e8"/><ellipse cx="435.1" cy="174.3" rx="1.47" ry="2.33" fill="#f4f4f4"/><ellipse cx="420.9" cy="178.6" rx="1.34" ry="1.96" fill="#e8e8e8"/><ellipse cx="415.7" cy="198.8" rx="1.97" ry="2.06" fill="#e8e8e8"/><ellipse cx="441.2" cy="198.0" rx="1.94" ry="2.24" fill="#e8e8e8"/><ellipse cx="427.5" cy="186.5" rx="1.90" ry="2.18" fill="#ffffff"/><ellipse cx="418.9" cy="180.3" rx="2.14" ry="1.62" fill="#ffffff"/><ellipse cx="432.2" cy="212.3" rx="2.08" ry="1.93" fill="#f4f4f4"/><ellipse cx="412.7" cy="191.2" rx="2.11" ry="1.73" fill="#ffffff"/><ellipse cx="427.2" cy="216.3" rx="1.29" ry="2.34" fill="#ffffff"/><ellipse cx="423.3" cy="188.1" rx="1.80" ry="2.70" fill="#f4f4f4"/><ellipse cx="447.3" cy="215.5" rx="1.77" ry="2.50" fill="#f4f4f4"/><ellipse cx="442.1" cy="186.2" rx="1.89" ry="2.52" fill="#ffffff"/><ellipse cx="420.7" cy="189.7" rx="2.00" ry="1.53" fill="#ffffff"/><ellipse cx="424.1" cy="200.1" rx="1.79" ry="1.83" fill="#ffffff"/><ellipse cx="413.2" cy="183.4" rx="1.67" ry="2.81" fill="#f4f4f4"/><ellipse cx="415.0" cy="190.5" rx="1.53" ry="1.71" fill="#ffffff"/><ellipse cx="448.5" cy="184.8" rx="1.70" ry="2.04" fill="#ffffff"/><ellipse cx="453.0" cy="178.9" rx="1.41" ry="1.85" fill="#f4f4f4"/><ellipse cx="407.6" cy="210.2" rx="1.42" ry="1.92" fill="#f4f4f4"/><ellipse cx="427.1" cy="189.0" rx="1.88" ry="2.93" fill="#e8e8e8"/><ellipse cx="448.2" cy="215.7" rx="1.99" ry="2.61" fill="#ffffff"/><ellipse cx="450.2" cy="207.9" rx="2.25" ry="2.70" fill="#ffffff"/><ellipse cx="426.1" cy="190.1" rx="1.78" ry="2.10" fill="#f4f4f4"/><ellipse cx="410.2" cy="181.6" rx="1.39" ry="2.01" fill="#f4f4f4"/><ellipse cx="411.9" cy="198.1" rx="1.84" ry="2.92" fill="#e8e8e8"/><ellipse cx="408.2" cy="212.2" rx="1.94" ry="1.72" fill="#ffffff"/><ellipse cx="452.9" cy="199.7" rx="1.77" ry="1.67" fill="#ffffff"/><ellipse cx="454.7" cy="193.4" rx="1.78" ry="1.63" fill="#f4f4f4"/><ellipse cx="443.0" cy="206.1" rx="1.77" ry="2.54" fill="#e8e8e8"/><ellipse cx="408.1" cy="215.7" rx="1.83" ry="1.72" fill="#e8e8e8"/><ellipse cx="450.9" cy="206.9" rx="1.56" ry="2.46" fill="#f4f4f4"/><ellipse cx="440.4" cy="184.0" rx="1.64" ry="1.75" fill="#f4f4f4"/><ellipse cx="432.6" cy="207.8" rx="1.60" ry="1.83" fill="#f4f4f4"/><ellipse cx="445.7" cy="209.6" rx="2.09" ry="1.84" fill="#e8e8e8"/><ellipse cx="430.7" cy="205.6" rx="2.39" ry="2.69" fill="#ffffff"/><ellipse cx="419.4" cy="203.9" rx="2.35" ry="2.17" fill="#e8e8e8"/><ellipse cx="454.4" cy="215.9" rx="1.64" ry="1.83" fill="#f4f4f4"/><ellipse cx="429.6" cy="187.5" rx="1.78" ry="2.98" fill="#e8e8e8"/><ellipse cx="447.3" cy="194.1" rx="1.98" ry="2.70" fill="#f4f4f4"/><ellipse cx="447.1" cy="177.5" rx="1.67" ry="2.57" fill="#f4f4f4"/><ellipse cx="429.9" cy="180.2" rx="2.15" ry="2.00" fill="#e8e8e8"/><ellipse cx="426.0" cy="190.5" rx="2.34" ry="2.59" fill="#f4f4f4"/><ellipse cx="454.7" cy="173.3" rx="1.91" ry="2.20" fill="#e8e8e8"/><ellipse cx="414.0" cy="210.0" rx="2.38" ry="2.49" fill="#ffffff"/><ellipse cx="414.5" cy="197.2" rx="1.23" ry="2.70" fill="#e8e8e8"/><ellipse cx="438.2" cy="196.2" rx="2.32" ry="2.15" fill="#f4f4f4"/><ellipse cx="446.7" cy="181.7" rx="1.50" ry="1.94" fill="#f4f4f4"/><ellipse cx="443.7" cy="187.0" rx="1.85" ry="2.75" fill="#f4f4f4"/><ellipse cx="450.7" cy="188.3" rx="1.75" ry="2.38" fill="#e8e8e8"/><ellipse cx="427.2" cy="214.2" rx="1.80" ry="2.30" fill="#e8e8e8"/><ellipse cx="431.5" cy="212.1" rx="2.13" ry="2.41" fill="#f4f4f4"/><ellipse cx="415.3" cy="193.8" rx="2.07" ry="2.33" fill="#ffffff"/><ellipse cx="439.8" cy="196.4" rx="1.78" ry="2.66" fill="#e8e8e8"/><ellipse cx="409.7" cy="180.8" rx="1.25" ry="1.65" fill="#ffffff"/><ellipse cx="434.0" cy="207.0" rx="2.29" ry="2.16" fill="#e8e8e8"/><ellipse cx="453.7" cy="199.9" rx="1.44" ry="1.92" fill="#e8e8e8"/><ellipse cx="432.6" cy="194.0" rx="2.33" ry="2.55" fill="#ffffff"/><ellipse cx="451.3" cy="213.1" rx="1.44" ry="2.17" fill="#ffffff"/><ellipse cx="412.8" cy="192.3" rx="1.29" ry="1.86" fill="#f4f4f4"/><ellipse cx="417.2" cy="185.9" rx="1.35" ry="2.67" fill="#e8e8e8"/><ellipse cx="437.9" cy="188.8" rx="1.50" ry="1.71" fill="#ffffff"/><ellipse cx="417.5" cy="215.8" rx="1.68" ry="2.23" fill="#e8e8e8"/><ellipse cx="447.0" cy="179.4" rx="1.72" ry="2.27" fill="#ffffff"/><ellipse cx="427.2" cy="188.4" rx="1.31" ry="2.05" fill="#ffffff"/><ellipse cx="433.6" cy="192.3" rx="1.22" ry="2.00" fill="#e8e8e8"/><ellipse cx="421.2" cy="216.2" rx="1.34" ry="2.88" fill="#f4f4f4"/><ellipse cx="453.6" cy="176.8" rx="1.52" ry="1.56" fill="#f4f4f4"/><ellipse cx="420.0" cy="178.0" rx="1.71" ry="2.87" fill="#ffffff"/><ellipse cx="426.5" cy="196.7" rx="1.82" ry="2.24" fill="#ffffff"/><ellipse cx="411.3" cy="174.6" rx="2.03" ry="2.14" fill="#f4f4f4"/><ellipse cx="419.9" cy="172.8" rx="1.31" ry="1.89" fill="#e8e8e8"/><ellipse cx="448.1" cy="175.1" rx="2.24" ry="2.18" fill="#ffffff"/><ellipse cx="454.7" cy="191.2" rx="2.30" ry="2.43" fill="#f4f4f4"/><ellipse cx="432.3" cy="183.0" rx="1.33" ry="1.74" fill="#f4f4f4"/><ellipse cx="415.7" cy="214.9" rx="1.95" ry="2.30" fill="#f4f4f4"/><ellipse cx="420.9" cy="195.0" rx="1.41" ry="2.02" fill="#f4f4f4"/><ellipse cx="417.9" cy="216.7" rx="0.58" ry="1.85" fill="#222222"/><ellipse cx="413.6" cy="211.6" rx="0.80" ry="1.48" fill="#222222"/><ellipse cx="429.0" cy="199.4" rx="0.80" ry="1.23" fill="#3a3a3a"/><ellipse cx="411.3" cy="192.0" rx="0.51" ry="1.32" fill="#3a3a3a"/><ellipse cx="429.8" cy="215.0" rx="0.94" ry="1.80" fill="#222222"/><ellipse cx="454.6" cy="186.1" rx="0.87" ry="1.45" fill="#555"/><ellipse cx="409.8" cy="192.0" rx="0.55" ry="2.08" fill="#555"/><ellipse cx="450.3" cy="203.8" rx="0.59" ry="1.08" fill="#222222"/><ellipse cx="430.5" cy="190.6" rx="1.07" ry="1.69" fill="#555"/><ellipse cx="435.0" cy="199.1" rx="0.83" ry="2.03" fill="#3a3a3a"/><ellipse cx="413.5" cy="210.0" rx="0.56" ry="1.83" fill="#555"/><ellipse cx="424.1" cy="205.9" rx="0.80" ry="1.75" fill="#3a3a3a"/><ellipse cx="414.2" cy="202.0" rx="0.81" ry="1.09" fill="#555"/><ellipse cx="450.8" cy="202.5" rx="0.71" ry="2.09" fill="#3a3a3a"/><ellipse cx="423.5" cy="193.1" rx="0.75" ry="1.45" fill="#555"/><ellipse cx="449.8" cy="190.0" rx="0.74" ry="1.20" fill="#555"/><ellipse cx="447.9" cy="184.9" rx="1.08" ry="1.19" fill="#222222"/><ellipse cx="407.6" cy="210.0" rx="0.71" ry="1.20" fill="#3a3a3a"/><ellipse cx="450.4" cy="188.7" rx="0.84" ry="1.49" fill="#222222"/><ellipse cx="435.2" cy="193.8" rx="0.56" ry="1.10" fill="#222222"/><ellipse cx="443.7" cy="201.9" rx="0.59" ry="2.12" fill="#3a3a3a"/><ellipse cx="441.0" cy="217.3" rx="0.54" ry="1.02" fill="#222222"/><ellipse cx="423.4" cy="206.4" rx="0.57" ry="1.36" fill="#3a3a3a"/><ellipse cx="453.3" cy="184.1" rx="1.00" ry="1.25" fill="#555"/><ellipse cx="408.6" cy="216.8" rx="0.96" ry="2.19" fill="#555"/><ellipse cx="415.3" cy="195.5" rx="0.76" ry="1.15" fill="#222222"/><ellipse cx="436.1" cy="200.9" rx="0.78" ry="1.19" fill="#222222"/><ellipse cx="412.2" cy="208.5" rx="0.89" ry="1.86" fill="#555"/><ellipse cx="431.9" cy="182.5" rx="0.57" ry="0.93" fill="#c84848"/><ellipse cx="426.5" cy="185.0" rx="0.80" ry="0.67" fill="#c84848"/><ellipse cx="443.3" cy="176.7" rx="0.97" ry="0.98" fill="#b03a3a"/><ellipse cx="418.8" cy="178.7" rx="0.56" ry="0.75" fill="#c84848"/><ellipse cx="445.3" cy="182.7" rx="0.87" ry="0.55" fill="#b03a3a"/><ellipse cx="420.8" cy="178.3" rx="0.90" ry="0.94" fill="#b03a3a"/><ellipse cx="451.2" cy="183.1" rx="0.67" ry="0.52" fill="#c84848"/><ellipse cx="449.8" cy="173.5" rx="0.69" ry="0.75" fill="#c84848"/><ellipse cx="422.2" cy="192.6" rx="0.93" ry="0.98" fill="#c84848"/><ellipse cx="417.2" cy="188.2" rx="0.95" ry="0.60" fill="#c84848"/><ellipse cx="410.5" cy="192.5" rx="3.5" ry="2" fill="#d83838"/><rect x="447" y="166" width="2.5" height="52" fill="#dcdcdc" opacity="0.8"/></g><g clip-path="url(#c7)"><rect x="529.4" y="91.2" width="86.3" height="57.5" fill="#906a52"/><rect x="531" y="91.2" width="0.8" height="57.5" fill="#7a5844" opacity="0.35"/><rect x="535" y="91.2" width="0.8" height="57.5" fill="#7a5844" opacity="0.35"/><rect x="539" y="91.2" width="0.8" height="57.5" fill="#7a5844" opacity="0.35"/><rect x="543" y="91.2" width="0.8" height="57.5" fill="#7a5844" opacity="0.35"/><rect x="547" y="91.2" width="0.8" height="57.5" fill="#7a5844" opacity="0.35"/><rect x="551" y="91.2" width="0.8" height="57.5" fill="#7a5844" opacity="0.35"/><rect x="555" y="91.2" width="0.8" height="57.5" fill="#7a5844" opacity="0.35"/><rect x="559" y="91.2" width="0.8" height="57.5" fill="#7a5844" opacity="0.35"/><rect x="563" y="91.2" width="0.8" height="57.5" fill="#7a5844" opacity="0.35"/><rect x="567" y="91.2" width="0.8" height="57.5" fill="#7a5844" opacity="0.35"/><rect x="571" y="91.2" width="0.8" height="57.5" fill="#7a5844" opacity="0.35"/><rect x="575" y="91.2" width="0.8" height="57.5" fill="#7a5844" opacity="0.35"/><rect x="579" y="91.2" width="0.8" height="57.5" fill="#7a5844" opacity="0.35"/><rect x="583" y="91.2" width="0.8" height="57.5" fill="#7a5844" opacity="0.35"/><rect x="587" y="91.2" width="0.8" height="57.5" fill="#7a5844" opacity="0.35"/><rect x="591" y="91.2" width="0.8" height="57.5" fill="#7a5844" opacity="0.35"/><rect x="595" y="91.2" width="0.8" height="57.5" fill="#7a5844" opacity="0.35"/><rect x="599" y="91.2" width="0.8" height="57.5" fill="#7a5844" opacity="0.35"/><rect x="603" y="91.2" width="0.8" height="57.5" fill="#7a5844" opacity="0.35"/><rect x="607" y="91.2" width="0.8" height="57.5" fill="#7a5844" opacity="0.35"/><rect x="611" y="91.2" width="0.8" height="57.5" fill="#7a5844" opacity="0.35"/><rect x="615" y="91.2" width="0.8" height="57.5" fill="#7a5844" opacity="0.35"/><polygon points="542.3,108.8 553.9,94.9 589.7,91.5 594.3,94.9 571.2,101.9 553.9,111.1" fill="#6a8a48"/><polygon points="536.6,110.0 548.1,99.6 562.0,94.9 555.0,101.9 545.8,110.0" fill="#7a9858" opacity="0.8"/><polygon points="600.1,119.2 610.5,113.4 615.7,108.8 615.7,122.7 608.2,134.2 603.6,136.5 602.4,131.9 610.5,122.7" fill="#7cb052"/><polygon points="608.2,94.9 615.7,91.5 615.7,104.2 610.5,105.3" fill="#88b860" opacity="0.9"/><circle cx="534.2" cy="120.4" r="4.8" fill="#c41a1a"/><circle cx="541.8" cy="118.3" r="3.6" fill="#cc2020"/><circle cx="548" cy="119.4" r="3.4" fill="#c01c1c"/><circle cx="554" cy="113.6" r="3.6" fill="#c81e1e"/><polygon points="542.3,137.7 544.6,131.9 553.9,122.7 571.2,111.1 585.1,103.0 599.0,97.2 605.9,98.4 605.9,103.0 599.0,114.6 589.7,126.1 578.2,136.5 571.2,141.2 559.7,141.2 543.5,140.0" fill="#e4e6ee"/><polygon points="553.9,126.1 571.2,114.6 589.7,105.3 601.3,100.7 594.3,111.1 580.5,122.7 565.4,131.9" fill="#eef0f6"/><circle cx="610.2" cy="130.2" r="1.17" fill="#b8b070"/><circle cx="607.5" cy="133.8" r="0.83" fill="#b8b070"/><circle cx="604.6" cy="146.0" r="0.92" fill="#c0b878"/><circle cx="584.2" cy="135.7" r="1.00" fill="#c0b878"/><circle cx="571.9" cy="143.7" r="1.24" fill="#c0b878"/><circle cx="571.6" cy="144.8" r="1.06" fill="#b8b070"/><circle cx="590.0" cy="143.5" r="1.04" fill="#c0b878"/><circle cx="589.4" cy="135.8" r="1.08" fill="#c0b878"/><circle cx="581.1" cy="143.8" r="1.30" fill="#c0b878"/><circle cx="609.9" cy="143.4" r="0.90" fill="#b8b070"/></g><g clip-path="url(#c8)"><rect x="530.4" y="164.7" width="86.6" height="53.5" fill="#151716"/><polygon points="529.5,164.5 617.0,164.5 617.0,179.0 592.1,175.7 558.6,172.3 529.5,171.7" fill="#3ea434"/><polygon points="529.5,166.7 617.0,170.1 617.0,172.3 529.5,169.5" fill="#86d466" opacity="0.8"/><polygon points="587.7,164.5 617.0,164.5 617.0,169.0 592.1,166.2" fill="#e8f0e8" opacity="0.9"/><polygon points="529.5,204.8 617.0,210.4 617.0,212.6 529.5,207.0" fill="#506060" opacity="0.8"/><polygon points="529.5,211.5 558.6,213.7 617.0,215.9 617.0,218.7 529.5,218.7" fill="#e4ecec"/><polygon points="537.3,183.5 547.4,175.7 561.9,170.6 575.4,171.2 587.7,177.9 585.4,188.0 573.1,196.9 558.6,197.5 538.4,194.7" fill="#f2a6a2"/><polygon points="574.2,193.6 580.9,182.4 592.1,179.0 608.9,180.7 617.0,182.4 617.0,204.8 610.0,208.1 592.1,209.2 577.6,205.9 574.2,199.2" fill="#f0a09c"/><g clip-path="url(#meat)"><ellipse cx="565.9" cy="189.2" rx="3.25" ry="0.68" fill="#f4b4ae"/><ellipse cx="605.3" cy="198.4" rx="2.71" ry="0.59" fill="#fbd8d4"/><ellipse cx="561.2" cy="183.4" rx="2.43" ry="0.80" fill="#fbd8d4"/><ellipse cx="538.8" cy="178.8" rx="3.81" ry="0.51" fill="#fad4d0"/><ellipse cx="601.6" cy="196.7" rx="2.08" ry="0.68" fill="#fbd8d4"/><ellipse cx="615.8" cy="201.3" rx="3.09" ry="0.67" fill="#f8c8c4"/><ellipse cx="564.8" cy="186.9" rx="3.93" ry="0.88" fill="#fbd8d4"/><ellipse cx="583.3" cy="181.3" rx="2.25" ry="0.90" fill="#f8c8c4"/><ellipse cx="578.9" cy="179.4" rx="2.46" ry="0.62" fill="#f4b4ae"/><ellipse cx="573.3" cy="176.6" rx="3.45" ry="0.84" fill="#f4b4ae"/><ellipse cx="604.4" cy="189.7" rx="4.76" ry="0.69" fill="#f8c8c4"/><ellipse cx="573.3" cy="194.5" rx="3.50" ry="0.51" fill="#fad4d0"/><ellipse cx="593.6" cy="206.8" rx="4.69" ry="0.51" fill="#f8c8c4"/><ellipse cx="589.7" cy="186.0" rx="2.96" ry="0.70" fill="#f8c8c4"/><ellipse cx="555.2" cy="174.0" rx="2.28" ry="0.55" fill="#f8c8c4"/><ellipse cx="568.5" cy="171.9" rx="4.53" ry="0.80" fill="#f8c8c4"/><ellipse cx="612.2" cy="200.6" rx="2.46" ry="0.76" fill="#fbd8d4"/><ellipse cx="556.2" cy="193.3" rx="2.72" ry="0.60" fill="#f8c8c4"/><ellipse cx="545.3" cy="175.9" rx="3.16" ry="0.52" fill="#f4b4ae"/><ellipse cx="607.7" cy="188.7" rx="2.78" ry="0.52" fill="#fad4d0"/><ellipse cx="571.2" cy="180.2" rx="4.90" ry="0.65" fill="#fad4d0"/><ellipse cx="546.1" cy="195.3" rx="2.85" ry="0.68" fill="#fad4d0"/><ellipse cx="604.2" cy="179.5" rx="4.65" ry="0.85" fill="#f4b4ae"/><ellipse cx="577.1" cy="185.8" rx="3.09" ry="0.70" fill="#fad4d0"/><ellipse cx="605.8" cy="178.3" rx="3.28" ry="0.51" fill="#fbd8d4"/><ellipse cx="582.8" cy="209.0" rx="4.54" ry="0.80" fill="#fbd8d4"/><ellipse cx="596.0" cy="179.7" rx="3.93" ry="0.58" fill="#f4b4ae"/><ellipse cx="577.2" cy="189.6" rx="2.24" ry="0.75" fill="#f8c8c4"/><ellipse cx="594.9" cy="182.5" rx="3.39" ry="0.82" fill="#f8c8c4"/><ellipse cx="578.1" cy="191.3" rx="2.30" ry="0.65" fill="#fbd8d4"/><ellipse cx="568.3" cy="178.9" rx="3.36" ry="0.79" fill="#f8c8c4"/><ellipse cx="554.7" cy="185.8" rx="3.87" ry="0.52" fill="#f8c8c4"/><ellipse cx="567.9" cy="172.3" rx="4.00" ry="0.71" fill="#fad4d0"/><ellipse cx="553.5" cy="201.6" rx="3.88" ry="0.72" fill="#fbd8d4"/><ellipse cx="578.1" cy="194.6" rx="4.39" ry="0.70" fill="#fad4d0"/><ellipse cx="574.7" cy="189.2" rx="2.41" ry="0.68" fill="#fad4d0"/><ellipse cx="545.7" cy="170.9" rx="4.79" ry="0.79" fill="#f8c8c4"/><ellipse cx="549.4" cy="177.4" rx="3.84" ry="0.80" fill="#f8c8c4"/><ellipse cx="594.7" cy="200.4" rx="3.03" ry="0.73" fill="#f8c8c4"/><ellipse cx="551.6" cy="173.6" rx="2.24" ry="0.51" fill="#fad4d0"/><ellipse cx="549.2" cy="199.0" rx="2.47" ry="0.58" fill="#f8c8c4"/><ellipse cx="597.2" cy="174.6" rx="4.59" ry="0.66" fill="#f8c8c4"/><ellipse cx="585.9" cy="193.8" rx="3.06" ry="0.68" fill="#f4b4ae"/><ellipse cx="538.4" cy="177.7" rx="2.24" ry="0.88" fill="#f4b4ae"/><ellipse cx="607.9" cy="172.2" rx="2.64" ry="0.81" fill="#e89088"/><ellipse cx="564.3" cy="190.7" rx="3.22" ry="0.51" fill="#fad4d0"/><ellipse cx="570.4" cy="208.5" rx="2.50" ry="0.52" fill="#f8c8c4"/><ellipse cx="606.4" cy="195.5" rx="4.25" ry="0.76" fill="#f8c8c4"/><ellipse cx="548.4" cy="208.6" rx="2.50" ry="0.85" fill="#fad4d0"/><ellipse cx="590.3" cy="181.8" rx="4.00" ry="0.74" fill="#f8c8c4"/><ellipse cx="541.1" cy="206.0" rx="3.56" ry="0.71" fill="#fad4d0"/><ellipse cx="562.1" cy="194.6" rx="3.76" ry="0.62" fill="#fad4d0"/><ellipse cx="584.8" cy="207.7" rx="3.69" ry="0.82" fill="#e89088"/><ellipse cx="543.6" cy="197.6" rx="4.77" ry="0.75" fill="#fbd8d4"/><ellipse cx="558.0" cy="196.1" rx="4.09" ry="0.87" fill="#fbd8d4"/><ellipse cx="543.0" cy="202.6" rx="4.68" ry="0.60" fill="#fbd8d4"/><ellipse cx="606.4" cy="209.7" rx="3.69" ry="0.69" fill="#f8c8c4"/><ellipse cx="546.2" cy="205.5" rx="3.21" ry="0.88" fill="#f4b4ae"/><ellipse cx="560.2" cy="201.3" rx="2.82" ry="0.51" fill="#f8c8c4"/><ellipse cx="594.6" cy="204.9" rx="4.40" ry="0.56" fill="#e89088"/></g></g><g clip-path="url(#c9)"><rect x="707.5" y="220.5" width="157.8" height="60" fill="url(#sky1)"/><g filter="url(#bl1)" opacity="0.85"><ellipse cx="721.8" cy="230.9" rx="13.9" ry="2.8" fill="#f4f7fc"/><ellipse cx="717.9" cy="238.8" rx="7.9" ry="1.6" fill="#f4f7fc"/><ellipse cx="765.5" cy="226.9" rx="17.9" ry="3.2" fill="#f4f7fc"/><ellipse cx="777.5" cy="230.9" rx="7.0" ry="2.8" fill="#f4f7fc"/><ellipse cx="763.6" cy="235.9" rx="4.4" ry="1.6" fill="#f4f7fc"/><ellipse cx="837.0" cy="231.9" rx="9.9" ry="4.4" fill="#f4f7fc"/><ellipse cx="753.6" cy="253.7" rx="13.9" ry="3.6" fill="#f4f7fc"/><ellipse cx="797.3" cy="244.8" rx="13.9" ry="4.0" fill="#f4f7fc"/><ellipse cx="783.4" cy="240.8" rx="5.0" ry="2.0" fill="#f4f7fc"/><ellipse cx="799.3" cy="262.7" rx="27.8" ry="4.4" fill="#f4f7fc"/><ellipse cx="811.2" cy="264.3" rx="11.9" ry="2.8" fill="#f4f7fc"/><ellipse cx="721.8" cy="261.7" rx="15.9" ry="6.0" fill="#f4f7fc"/><ellipse cx="711.9" cy="266.6" rx="7.9" ry="4.0" fill="#f4f7fc"/><ellipse cx="847.0" cy="244.8" rx="4.0" ry="1.2" fill="#f4f7fc"/><ellipse cx="829.1" cy="271.6" rx="9.9" ry="2.0" fill="#f4f7fc"/><ellipse cx="759.6" cy="272.6" rx="29.8" ry="2.0" fill="#f4f7fc"/><ellipse cx="819.2" cy="274.6" rx="39.7" ry="1.6" fill="#f4f7fc"/><ellipse cx="787.4" cy="249.8" rx="6.0" ry="2.0" fill="#f4f7fc"/></g><polygon points="707.9,278.2 864.8,279.0 864.8,283.5 811.2,284.9 707.9,284.5" fill="#545c6a"/><polygon points="707.9,277.4 864.8,278.2 864.8,279.7 707.9,279.3" fill="#3a404c"/><polygon points="707.9,284.5 811.2,284.9 864.8,283.5 864.8,290.5 707.9,292.5" fill="#34424c"/><rect x="712" y="284.5" width="1.6" height="6" fill="#98a2a8"/><rect x="718" y="284.5" width="1.6" height="6" fill="#98a2a8"/><rect x="727" y="284.5" width="1.6" height="6" fill="#98a2a8"/><rect x="735" y="284.5" width="1.6" height="6" fill="#98a2a8"/><rect x="744" y="284.5" width="1.6" height="6" fill="#98a2a8"/><rect x="751" y="284.5" width="1.6" height="6" fill="#98a2a8"/><rect x="759" y="284.5" width="1.6" height="6" fill="#98a2a8"/><rect x="767" y="284.5" width="1.6" height="6" fill="#98a2a8"/><rect x="776" y="284.5" width="1.6" height="6" fill="#98a2a8"/><rect x="785" y="284.5" width="1.6" height="6" fill="#98a2a8"/><rect x="794" y="284.5" width="1.6" height="6" fill="#98a2a8"/><rect x="803" y="284.5" width="1.6" height="6" fill="#98a2a8"/><rect x="809" y="284.5" width="1.6" height="8" fill="#98a2a8"/><rect x="812" y="284.5" width="1.6" height="8" fill="#98a2a8"/><rect x="818" y="284.5" width="1.6" height="8" fill="#98a2a8"/><rect x="825" y="284.5" width="1.6" height="8" fill="#98a2a8"/><rect x="833" y="284.5" width="1.6" height="8" fill="#98a2a8"/><rect x="843" y="284.5" width="1.6" height="8" fill="#98a2a8"/><rect x="852" y="284.5" width="1.6" height="8" fill="#98a2a8"/><rect x="860" y="284.5" width="1.6" height="8" fill="#98a2a8"/><polygon points="707.9,291.5 864.8,288.9 864.8,320.3 707.9,320.3" fill="#34505a"/><ellipse cx="780.7" cy="303.1" rx="1.42" ry="0.65" fill="#6e8e9a"/><ellipse cx="761.1" cy="305.5" rx="2.81" ry="0.43" fill="#88a4ae"/><ellipse cx="817.9" cy="312.7" rx="1.51" ry="0.68" fill="#2c4652"/><ellipse cx="732.7" cy="299.4" rx="1.33" ry="0.50" fill="#88a4ae"/><ellipse cx="717.9" cy="311.6" rx="3.37" ry="0.65" fill="#c8d8dc"/><ellipse cx="740.2" cy="299.1" rx="3.38" ry="0.66" fill="#c8d8dc"/><ellipse cx="851.1" cy="303.7" rx="2.02" ry="0.32" fill="#6e8e9a"/><ellipse cx="846.1" cy="294.5" rx="2.14" ry="0.50" fill="#6e8e9a"/><ellipse cx="745.2" cy="312.9" rx="3.55" ry="0.69" fill="#6e8e9a"/><ellipse cx="727.0" cy="308.6" rx="3.69" ry="0.38" fill="#6e8e9a"/><ellipse cx="848.1" cy="296.6" rx="3.75" ry="0.50" fill="#88a4ae"/><ellipse cx="786.0" cy="317.9" rx="2.26" ry="0.46" fill="#6e8e9a"/><ellipse cx="818.0" cy="296.9" rx="3.82" ry="0.59" fill="#6e8e9a"/><ellipse cx="716.5" cy="308.0" rx="2.82" ry="0.36" fill="#c8d8dc"/><ellipse cx="823.7" cy="308.5" rx="1.10" ry="0.65" fill="#2c4652"/><ellipse cx="857.3" cy="299.4" rx="2.83" ry="0.32" fill="#c8d8dc"/><ellipse cx="840.8" cy="307.1" rx="2.70" ry="0.58" fill="#c8d8dc"/><ellipse cx="725.3" cy="316.8" rx="2.10" ry="0.38" fill="#9ab4bc"/><ellipse cx="862.8" cy="308.5" rx="1.06" ry="0.62" fill="#c8d8dc"/><ellipse cx="708.1" cy="296.0" rx="1.67" ry="0.41" fill="#6e8e9a"/><ellipse cx="756.2" cy="300.7" rx="2.55" ry="0.32" fill="#2c4652"/><ellipse cx="830.6" cy="314.8" rx="2.49" ry="0.58" fill="#9ab4bc"/><ellipse cx="796.9" cy="294.8" rx="2.94" ry="0.34" fill="#2c4652"/><ellipse cx="788.1" cy="318.8" rx="2.68" ry="0.36" fill="#c8d8dc"/><ellipse cx="734.9" cy="315.8" rx="1.78" ry="0.32" fill="#9ab4bc"/><ellipse cx="749.3" cy="297.4" rx="1.36" ry="0.36" fill="#6e8e9a"/><ellipse cx="717.6" cy="298.6" rx="2.17" ry="0.54" fill="#c8d8dc"/><ellipse cx="752.7" cy="306.0" rx="1.83" ry="0.68" fill="#88a4ae"/><ellipse cx="754.5" cy="296.2" rx="2.26" ry="0.36" fill="#88a4ae"/><ellipse cx="828.0" cy="303.3" rx="3.66" ry="0.37" fill="#c8d8dc"/><ellipse cx="829.2" cy="316.8" rx="2.48" ry="0.34" fill="#6e8e9a"/><ellipse cx="751.5" cy="296.5" rx="3.40" ry="0.63" fill="#9ab4bc"/><ellipse cx="830.5" cy="299.0" rx="1.04" ry="0.37" fill="#2c4652"/><ellipse cx="800.9" cy="307.7" rx="1.25" ry="0.52" fill="#88a4ae"/><ellipse cx="856.6" cy="307.5" rx="3.82" ry="0.31" fill="#88a4ae"/><ellipse cx="847.6" cy="307.7" rx="2.57" ry="0.51" fill="#6e8e9a"/><ellipse cx="845.8" cy="308.5" rx="3.87" ry="0.33" fill="#9ab4bc"/><ellipse cx="821.1" cy="295.8" rx="3.10" ry="0.48" fill="#2c4652"/><ellipse cx="847.6" cy="312.6" rx="3.04" ry="0.31" fill="#9ab4bc"/><ellipse cx="846.0" cy="299.2" rx="3.47" ry="0.59" fill="#88a4ae"/><ellipse cx="785.9" cy="299.6" rx="2.87" ry="0.33" fill="#6e8e9a"/><ellipse cx="814.5" cy="304.0" rx="1.21" ry="0.38" fill="#88a4ae"/><ellipse cx="826.2" cy="295.3" rx="1.09" ry="0.55" fill="#88a4ae"/><ellipse cx="792.1" cy="293.7" rx="3.33" ry="0.43" fill="#c8d8dc"/><ellipse cx="709.3" cy="318.8" rx="2.77" ry="0.69" fill="#2c4652"/><ellipse cx="838.7" cy="295.9" rx="2.05" ry="0.39" fill="#9ab4bc"/><ellipse cx="738.2" cy="299.0" rx="1.33" ry="0.35" fill="#6e8e9a"/><ellipse cx="766.5" cy="313.0" rx="2.40" ry="0.51" fill="#c8d8dc"/><ellipse cx="845.3" cy="295.2" rx="1.02" ry="0.61" fill="#9ab4bc"/><ellipse cx="710.4" cy="299.8" rx="2.83" ry="0.68" fill="#88a4ae"/><ellipse cx="833.6" cy="294.6" rx="1.75" ry="0.64" fill="#88a4ae"/><ellipse cx="845.4" cy="310.3" rx="3.04" ry="0.35" fill="#6e8e9a"/><ellipse cx="833.6" cy="319.3" rx="3.36" ry="0.66" fill="#6e8e9a"/><ellipse cx="845.6" cy="317.8" rx="3.90" ry="0.34" fill="#c8d8dc"/><ellipse cx="777.0" cy="304.2" rx="1.97" ry="0.53" fill="#2c4652"/><ellipse cx="775.5" cy="295.1" rx="1.90" ry="0.49" fill="#88a4ae"/><ellipse cx="779.6" cy="303.4" rx="1.99" ry="0.32" fill="#6e8e9a"/><ellipse cx="734.8" cy="307.7" rx="1.57" ry="0.58" fill="#9ab4bc"/><ellipse cx="856.2" cy="295.3" rx="3.92" ry="0.68" fill="#88a4ae"/><ellipse cx="827.6" cy="316.9" rx="3.20" ry="0.38" fill="#88a4ae"/><ellipse cx="829.1" cy="295.0" rx="3.01" ry="0.47" fill="#9ab4bc"/><ellipse cx="844.1" cy="301.7" rx="3.50" ry="0.51" fill="#6e8e9a"/><ellipse cx="780.7" cy="293.1" rx="3.75" ry="0.38" fill="#9ab4bc"/><ellipse cx="709.7" cy="317.9" rx="1.13" ry="0.36" fill="#9ab4bc"/><ellipse cx="816.9" cy="306.8" rx="3.37" ry="0.46" fill="#2c4652"/><ellipse cx="769.1" cy="308.8" rx="3.61" ry="0.50" fill="#c8d8dc"/><ellipse cx="764.4" cy="300.3" rx="1.96" ry="0.45" fill="#9ab4bc"/><ellipse cx="833.5" cy="314.0" rx="1.53" ry="0.37" fill="#c8d8dc"/><ellipse cx="815.4" cy="293.5" rx="2.44" ry="0.65" fill="#2c4652"/><ellipse cx="850.6" cy="313.4" rx="1.82" ry="0.36" fill="#2c4652"/><ellipse cx="783.2" cy="319.8" rx="1.54" ry="0.36" fill="#c8d8dc"/><ellipse cx="824.7" cy="294.4" rx="1.84" ry="0.44" fill="#88a4ae"/><ellipse cx="737.3" cy="314.0" rx="3.01" ry="0.34" fill="#9ab4bc"/><ellipse cx="761.5" cy="313.2" rx="1.40" ry="0.47" fill="#88a4ae"/><ellipse cx="739.8" cy="311.5" rx="2.27" ry="0.64" fill="#6e8e9a"/><ellipse cx="855.0" cy="312.3" rx="2.49" ry="0.32" fill="#2c4652"/><ellipse cx="847.2" cy="304.8" rx="3.18" ry="0.38" fill="#6e8e9a"/><ellipse cx="852.1" cy="319.0" rx="1.25" ry="0.44" fill="#9ab4bc"/><ellipse cx="828.5" cy="319.2" rx="1.56" ry="0.51" fill="#88a4ae"/><ellipse cx="760.7" cy="299.0" rx="3.99" ry="0.31" fill="#88a4ae"/><ellipse cx="799.2" cy="298.4" rx="3.50" ry="0.41" fill="#9ab4bc"/><ellipse cx="759.8" cy="303.7" rx="1.23" ry="0.63" fill="#9ab4bc"/><ellipse cx="779.3" cy="319.0" rx="1.13" ry="0.37" fill="#9ab4bc"/><ellipse cx="846.6" cy="312.2" rx="2.91" ry="0.62" fill="#88a4ae"/><ellipse cx="767.9" cy="313.4" rx="3.66" ry="0.50" fill="#2c4652"/><ellipse cx="713.2" cy="320.0" rx="1.42" ry="0.47" fill="#9ab4bc"/><ellipse cx="839.3" cy="311.0" rx="2.85" ry="0.50" fill="#2c4652"/><ellipse cx="789.7" cy="299.9" rx="2.84" ry="0.68" fill="#c8d8dc"/><ellipse cx="792.3" cy="320.0" rx="3.21" ry="0.56" fill="#2c4652"/><ellipse cx="756.9" cy="316.0" rx="1.62" ry="0.31" fill="#2c4652"/><ellipse cx="821.2" cy="299.9" rx="1.89" ry="0.30" fill="#2c4652"/><ellipse cx="855.0" cy="303.0" rx="2.92" ry="0.43" fill="#9ab4bc"/><ellipse cx="794.8" cy="293.8" rx="3.23" ry="0.38" fill="#6e8e9a"/><ellipse cx="741.1" cy="300.0" rx="3.65" ry="0.48" fill="#c8d8dc"/><ellipse cx="795.5" cy="312.0" rx="1.23" ry="0.58" fill="#2c4652"/><ellipse cx="855.9" cy="294.6" rx="2.72" ry="0.50" fill="#2c4652"/><ellipse cx="765.2" cy="310.9" rx="3.69" ry="0.44" fill="#88a4ae"/><ellipse cx="789.0" cy="304.0" rx="1.48" ry="0.52" fill="#c8d8dc"/><ellipse cx="779.8" cy="300.8" rx="3.39" ry="0.51" fill="#6e8e9a"/><ellipse cx="716.9" cy="302.7" rx="3.18" ry="0.56" fill="#2c4652"/><ellipse cx="748.8" cy="305.2" rx="1.20" ry="0.68" fill="#2c4652"/><ellipse cx="787.8" cy="312.7" rx="1.19" ry="0.35" fill="#c8d8dc"/><ellipse cx="774.4" cy="293.5" rx="2.31" ry="0.46" fill="#9ab4bc"/><ellipse cx="860.9" cy="318.8" rx="3.94" ry="0.37" fill="#6e8e9a"/><ellipse cx="746.0" cy="312.2" rx="2.56" ry="0.54" fill="#6e8e9a"/><ellipse cx="739.5" cy="309.5" rx="2.14" ry="0.41" fill="#9ab4bc"/><ellipse cx="860.6" cy="295.0" rx="2.57" ry="0.42" fill="#2c4652"/><ellipse cx="847.7" cy="298.3" rx="2.42" ry="0.56" fill="#2c4652"/><ellipse cx="834.8" cy="306.7" rx="3.87" ry="0.69" fill="#88a4ae"/><ellipse cx="829.4" cy="305.5" rx="2.77" ry="0.55" fill="#2c4652"/><polygon points="707.9,296.4 719.9,293.5 731.8,295.4 739.7,298.4 725.8,302.4 707.9,302.4" fill="#e4ecf0" opacity="0.85"/><polygon points="725.8,296.4 735.7,293.5 743.7,295.4 742.7,300.4 731.8,302.4 725.8,300.4" fill="#e8bc40"/><ellipse cx="734" cy="297" rx="2" ry="1.2" fill="#5a7ac0"/><polygon points="811.2,296.4 839.0,294.4 864.8,293.5 864.8,296.4 829.1,298.4" fill="#c8d8e0" opacity="0.7"/></g><g clip-path="url(#c10)"><rect x="55.3" y="409.2" width="74.3" height="53.6" fill="#2c5fb4"/><ellipse cx="92" cy="436" rx="30" ry="20" fill="#3a6cc0" opacity="0.6"/><polygon points="61.9,440.2 68.5,428.1 76.2,418.2 85.0,419.3 91.6,416.0 98.2,418.2 105.9,422.6 113.6,427.0 116.9,433.6 115.8,441.3 119.1,449.0 109.2,455.6 99.3,455.6 91.6,454.5 83.9,456.2 77.3,451.2 66.3,451.2 63.0,446.8" fill="#5a5e68"/><polygon points="68.5,428.1 76.2,418.2 83.9,420.4 85.0,425.9 79.5,430.3 70.7,430.3" fill="#b8bcc4"/><polygon points="61.9,440.2 67.4,431.4 77.3,430.3 78.4,438.0 71.8,442.4 63.0,442.4" fill="#a8acb6"/><polygon points="63.0,446.8 70.7,442.4 78.4,443.5 77.3,451.2 66.3,451.2" fill="#8c9098"/><polygon points="79.5,431.4 85.0,424.8 96.0,422.6 100.4,429.2 98.2,440.2 91.6,444.6 81.7,442.4" fill="#c4c8d0"/><polygon points="88.3,421.5 91.6,416.0 97.1,417.1 98.2,422.6 92.7,425.9" fill="#70747e"/><polygon points="99.3,424.8 105.9,422.6 113.6,427.0 116.9,433.6 113.6,441.3 104.8,440.2 100.4,433.6" fill="#9a9ea8"/><polygon points="79.5,445.7 88.3,443.5 94.9,447.9 91.6,454.5 83.9,456.2 80.1,452.3" fill="#b4b8c0"/><polygon points="98.2,446.8 104.8,442.4 116.9,443.5 119.1,449.0 109.2,455.6 99.3,455.6" fill="#8a8e98"/><polygon points="80.6,433.6 87.2,430.3 93.8,432.5 91.6,438.0 85.0,439.1" fill="#dcdfe6"/><polygon points="71.8,423.7 77.3,420.4 80.6,423.7 76.2,427.0" fill="#dadde4"/><polygon points="102.6,446.8 109.2,444.6 113.6,447.9 107.0,452.3" fill="#5e626c"/></g><rect x="156.6" y="345.8" width="68.8" height="65" fill="#fff" stroke="#e4e4e4" stroke-width="0.6"/><line x1="162.29" y1="374.89" x2="171.80" y2="388.35" stroke="#5e6070" stroke-width="4.60" stroke-linecap="round"/><line x1="171.80" y1="388.35" x2="180.50" y2="400.67" stroke="#5e6070" stroke-width="4.60" stroke-linecap="butt"/><line x1="162.97" y1="374.41" x2="172.47" y2="387.87" stroke="#c4c6d2" stroke-width="1.93" stroke-linecap="round"/><line x1="172.47" y1="387.87" x2="181.18" y2="400.20" stroke="#c4c6d2" stroke-width="1.93" stroke-linecap="butt"/><line x1="163.12" y1="374.31" x2="172.62" y2="387.76" stroke="#f2f3f8" stroke-width="0.74" stroke-linecap="round"/><line x1="172.62" y1="387.76" x2="181.33" y2="400.09" stroke="#f2f3f8" stroke-width="0.74" stroke-linecap="butt"/><line x1="160.94" y1="375.85" x2="170.44" y2="389.30" stroke="#363844" stroke-width="1.01" stroke-linecap="round"/><line x1="170.44" y1="389.30" x2="179.15" y2="401.63" stroke="#363844" stroke-width="1.01" stroke-linecap="butt"/><ellipse cx="180.50" cy="400.67" rx="2.30" ry="1.01" fill="#9a9cae" transform="rotate(-35.2 180.50 400.67)"/><line x1="171.18" y1="372.30" x2="180.44" y2="385.75" stroke="#5e6070" stroke-width="6.20" stroke-linecap="round"/><line x1="180.44" y1="385.75" x2="188.65" y2="397.67" stroke="#5e6070" stroke-width="6.20" stroke-linecap="butt"/><line x1="172.10" y1="371.67" x2="181.36" y2="385.12" stroke="#c4c6d2" stroke-width="2.60" stroke-linecap="round"/><line x1="181.36" y1="385.12" x2="189.56" y2="397.04" stroke="#c4c6d2" stroke-width="2.60" stroke-linecap="butt"/><line x1="172.31" y1="371.52" x2="181.56" y2="384.98" stroke="#f2f3f8" stroke-width="0.99" stroke-linecap="round"/><line x1="181.56" y1="384.98" x2="189.77" y2="396.89" stroke="#f2f3f8" stroke-width="0.99" stroke-linecap="butt"/><line x1="169.34" y1="373.56" x2="178.60" y2="387.01" stroke="#363844" stroke-width="1.36" stroke-linecap="round"/><line x1="178.60" y1="387.01" x2="186.81" y2="398.93" stroke="#363844" stroke-width="1.36" stroke-linecap="butt"/><ellipse cx="188.65" cy="397.67" rx="3.10" ry="1.36" fill="#9a9cae" transform="rotate(-34.5 188.65 397.67)"/><line x1="180.38" y1="366.32" x2="191.54" y2="379.51" stroke="#5e6070" stroke-width="8.20" stroke-linecap="round"/><line x1="191.54" y1="379.51" x2="201.11" y2="390.82" stroke="#5e6070" stroke-width="8.20" stroke-linecap="butt"/><line x1="181.51" y1="365.36" x2="192.67" y2="378.56" stroke="#c4c6d2" stroke-width="3.44" stroke-linecap="round"/><line x1="192.67" y1="378.56" x2="202.24" y2="389.87" stroke="#c4c6d2" stroke-width="3.44" stroke-linecap="butt"/><line x1="181.76" y1="365.15" x2="192.92" y2="378.34" stroke="#f2f3f8" stroke-width="1.31" stroke-linecap="round"/><line x1="192.92" y1="378.34" x2="202.49" y2="389.66" stroke="#f2f3f8" stroke-width="1.31" stroke-linecap="butt"/><line x1="178.13" y1="368.22" x2="189.29" y2="381.42" stroke="#363844" stroke-width="1.80" stroke-linecap="round"/><line x1="189.29" y1="381.42" x2="198.86" y2="392.73" stroke="#363844" stroke-width="1.80" stroke-linecap="butt"/><ellipse cx="201.11" cy="390.82" rx="4.10" ry="1.80" fill="#9a9cae" transform="rotate(-40.2 201.11 390.82)"/><line x1="200.83" y1="364.16" x2="209.57" y2="374.53" stroke="#5e6070" stroke-width="11.50" stroke-linecap="round"/><line x1="209.57" y1="374.53" x2="216.08" y2="382.26" stroke="#5e6070" stroke-width="11.50" stroke-linecap="butt"/><line x1="202.42" y1="362.83" x2="211.15" y2="373.20" stroke="#c4c6d2" stroke-width="4.83" stroke-linecap="round"/><line x1="211.15" y1="373.20" x2="217.66" y2="380.93" stroke="#c4c6d2" stroke-width="4.83" stroke-linecap="butt"/><line x1="202.77" y1="362.53" x2="211.50" y2="372.90" stroke="#f2f3f8" stroke-width="1.84" stroke-linecap="round"/><line x1="211.50" y1="372.90" x2="218.01" y2="380.63" stroke="#f2f3f8" stroke-width="1.84" stroke-linecap="butt"/><line x1="197.67" y1="366.83" x2="206.40" y2="377.20" stroke="#363844" stroke-width="2.53" stroke-linecap="round"/><line x1="206.40" y1="377.20" x2="212.91" y2="384.93" stroke="#363844" stroke-width="2.53" stroke-linecap="butt"/><ellipse cx="216.08" cy="382.26" rx="5.75" ry="2.53" fill="#9a9cae" transform="rotate(-40.1 216.08 382.26)"/><rect x="263.8" y="342.3" width="57.8" height="73" fill="#fff" stroke="#e4e4e4" stroke-width="0.6"/><polygon points="265.6,383.6 278.3,364.6 288.1,360.4 298.0,357.6 310.7,359.7 315.6,368.1 319.1,380.8 316.3,387.8 295.2,399.1 291.0,404.7 283.9,404.0 267.0,392.1" fill="#6a6c85"/><polygon points="288.1,361.1 298.0,358.0 310.7,360.0 315.6,368.1 318.8,380.8 316.3,387.1 296.6,396.3 291.0,382.2" fill="#727490"/><path d="M374,347.5 L421,347.5 L425.2,351.5 L425.2,395 L421,399 L374,399 L370,395 L370,351.5 Z" fill="#2a5ba8"/><line x1="379.4" y1="348" x2="379.4" y2="398.5" stroke="#d8e4f4" stroke-width="0.9"/><line x1="397.6" y1="348" x2="397.6" y2="398.5" stroke="#d8e4f4" stroke-width="0.9"/><line x1="415.4" y1="348" x2="415.4" y2="398.5" stroke="#d8e4f4" stroke-width="0.9"/><rect x="468.1" y="346.2" width="68.2" height="54.9" fill="url(#mono)" stroke="#aaa" stroke-width="0.5"/><g clip-path="url(#c11)"><rect x="561.7" y="400.2" width="69.1" height="50.2" fill="url(#sky2)"/><g filter="url(#bl1)"><ellipse cx="594" cy="410" rx="19" ry="4.5" fill="#f4f8fc"/><ellipse cx="580" cy="412" rx="8" ry="3" fill="#eef4fa"/><ellipse cx="566" cy="403" rx="4" ry="2" fill="#e8f0fa"/></g><polygon points="561.7,417.5 628,416.5 630.8,418 630.8,450.4 561.7,450.4" fill="url(#pv)"/><polygon points="621,450.4 627,418 630.8,417 630.8,450.4" fill="#4a9a3a"/><line x1="561.7" y1="423" x2="640" y2="417" stroke="#c0cae8" stroke-width="0.6"/><line x1="561.7" y1="431" x2="640" y2="417" stroke="#c0cae8" stroke-width="0.6"/><line x1="561.7" y1="441" x2="640" y2="417" stroke="#c0cae8" stroke-width="0.6"/><line x1="570" y1="417" x2="596" y2="450.4" stroke="#c8d0f0" stroke-width="0.8"/><line x1="588" y1="417" x2="616" y2="450.4" stroke="#c8d0f0" stroke-width="0.8"/><line x1="606" y1="417" x2="626" y2="450.4" stroke="#c8d0f0" stroke-width="0.8"/></g><rect x="151.3" y="452.2" width="74.6" height="64.9" fill="#fff" stroke="#eaeaea" stroke-width="0.6"/><polygon points="184.1,466.7 190.7,461.4 212.1,478.0 210.8,485.4 204.1,494.1 185.4,478.7" fill="#505054"/><polygon points="184.1,466.7 190.7,461.4 212.1,478.0 205.4,483.4" fill="#616166"/><polygon points="165.4,476.0 172.7,468.7 194.1,486.7 192.7,496.1 187.4,505.4 166.7,486.7" fill="#56565a"/><polygon points="165.4,476.0 172.7,468.7 194.1,486.7 186.7,494.1" fill="#646468"/><rect x="263.4" y="449.4" width="70.6" height="67.7" fill="#fff" stroke="#e4e4e4" stroke-width="0.6"/><polygon points="268.9,491.1 275.7,468.7 283.5,465.8 291.3,503.8 289.4,506.7 277.7,503.8" fill="#14161c" opacity="0.85"/><polygon points="270.4,490.1 276.7,467.7 284.0,465.3 290.3,501.8 278.7,500.9" fill="#2c3444"/><polygon points="273.3,487.2 278.2,466.8 288.9,462.4 293.3,500.9 282.6,501.8" fill="#465670"/><polygon points="277.2,482.8 285.5,464.3 297.7,461.9 295.2,501.8 286.5,502.8" fill="#62768f"/><polygon points="285.5,478.0 309.8,465.8 313.2,473.1 295.2,504.8 290.3,503.8" fill="#7088a2"/><polygon points="271.8,495.0 290.3,503.8 294.2,506.7 293.3,507.7 280.6,503.8" fill="#0c0c10" opacity="0.7"/><rect x="294.7" y="473.6" width="27.8" height="32.1" fill="#879fb9"/><circle cx="309.1" cy="499.0" r="1.08" fill="#7890aa"/><circle cx="299.7" cy="495.9" r="0.82" fill="#7890aa"/><circle cx="298.0" cy="474.8" r="0.73" fill="#7890aa"/><circle cx="301.8" cy="489.5" r="0.69" fill="#7890aa"/><circle cx="298.7" cy="491.1" r="0.58" fill="#98aec4"/><circle cx="299.1" cy="495.9" r="0.84" fill="#98aec4"/><circle cx="303.9" cy="477.8" r="0.93" fill="#98aec4"/><circle cx="303.3" cy="476.5" r="1.06" fill="#7890aa"/><circle cx="312.3" cy="492.6" r="0.91" fill="#7890aa"/><circle cx="317.0" cy="502.5" r="0.51" fill="#7890aa"/><circle cx="310.4" cy="501.8" r="0.94" fill="#98aec4"/><circle cx="320.9" cy="485.6" r="0.96" fill="#7890aa"/><circle cx="301.5" cy="491.3" r="1.07" fill="#7890aa"/><circle cx="296.6" cy="476.0" r="0.67" fill="#98aec4"/><circle cx="301.8" cy="483.5" r="0.71" fill="#98aec4"/><circle cx="304.0" cy="502.2" r="0.85" fill="#7890aa"/><circle cx="304.0" cy="475.6" r="1.09" fill="#98aec4"/><circle cx="307.6" cy="482.4" r="0.88" fill="#98aec4"/><circle cx="303.4" cy="476.3" r="1.09" fill="#7890aa"/><circle cx="295.6" cy="491.5" r="0.91" fill="#7890aa"/><circle cx="308.1" cy="503.5" r="1.09" fill="#7890aa"/><circle cx="299.9" cy="504.9" r="1.08" fill="#98aec4"/><circle cx="319.5" cy="475.6" r="1.08" fill="#7890aa"/><circle cx="316.7" cy="502.5" r="0.99" fill="#98aec4"/><circle cx="299.4" cy="487.0" r="0.91" fill="#7890aa"/><circle cx="317.7" cy="494.4" r="0.74" fill="#98aec4"/><circle cx="309.6" cy="490.8" r="1.09" fill="#98aec4"/><circle cx="309.4" cy="482.2" r="0.60" fill="#7890aa"/><circle cx="296.3" cy="501.5" r="0.85" fill="#7890aa"/><circle cx="301.0" cy="486.6" r="0.88" fill="#98aec4"/><circle cx="321.1" cy="497.3" r="0.64" fill="#7890aa"/><circle cx="317.1" cy="504.1" r="0.86" fill="#7890aa"/><circle cx="296.4" cy="499.8" r="1.08" fill="#98aec4"/><circle cx="320.1" cy="491.2" r="0.87" fill="#7890aa"/><circle cx="299.6" cy="504.1" r="0.63" fill="#7890aa"/><circle cx="304.6" cy="492.3" r="0.81" fill="#98aec4"/><circle cx="300.2" cy="491.8" r="0.92" fill="#98aec4"/><circle cx="307.1" cy="487.8" r="0.80" fill="#7890aa"/><circle cx="307.2" cy="483.1" r="0.61" fill="#98aec4"/><circle cx="317.3" cy="488.5" r="0.95" fill="#98aec4"/><circle cx="296.4" cy="477.1" r="0.90" fill="#98aec4"/><circle cx="295.7" cy="488.6" r="1.04" fill="#98aec4"/><circle cx="321.8" cy="477.1" r="1.05" fill="#98aec4"/><circle cx="307.3" cy="499.5" r="1.05" fill="#98aec4"/><circle cx="318.0" cy="498.6" r="0.76" fill="#98aec4"/><circle cx="314.9" cy="475.9" r="1.08" fill="#7890aa"/><circle cx="302.3" cy="484.8" r="0.83" fill="#7890aa"/><circle cx="305.9" cy="474.2" r="0.95" fill="#7890aa"/><circle cx="297.2" cy="497.2" r="0.98" fill="#7890aa"/><circle cx="303.8" cy="477.6" r="0.58" fill="#98aec4"/><circle cx="319.9" cy="499.5" r="0.77" fill="#7890aa"/><circle cx="301.7" cy="495.1" r="0.69" fill="#98aec4"/><circle cx="308.0" cy="478.0" r="0.80" fill="#98aec4"/><circle cx="316.2" cy="476.6" r="0.76" fill="#7890aa"/><circle cx="316.1" cy="492.7" r="1.04" fill="#98aec4"/><circle cx="299.4" cy="490.6" r="0.69" fill="#7890aa"/><circle cx="320.8" cy="486.6" r="0.87" fill="#98aec4"/><circle cx="319.4" cy="478.7" r="0.64" fill="#7890aa"/><circle cx="309.6" cy="487.7" r="0.80" fill="#98aec4"/><circle cx="302.8" cy="481.5" r="0.65" fill="#98aec4"/><rect x="370.4" y="454.6" width="54.1" height="50.4" fill="#2f63b6"/><line x1="378.2" y1="455" x2="378.2" y2="504.5" stroke="#c8d8f0" stroke-width="0.8" stroke-dasharray="2 1.2"/><line x1="396.7" y1="455" x2="396.7" y2="504.5" stroke="#c8d8f0" stroke-width="0.8" stroke-dasharray="2 1.2"/><line x1="416.4" y1="455" x2="416.4" y2="504.5" stroke="#c8d8f0" stroke-width="0.8" stroke-dasharray="2 1.2"/><rect x="470.1" y="453.8" width="66.2" height="52" fill="url(#poly)" stroke="#b0b4c0" stroke-width="0.5"/>
<rect x="22.3" y="24.5" width="638.8" height="247.6" rx="44" ry="39" fill="none" stroke="#111" stroke-width="1.9"/><rect x="22.3" y="297.6" width="638.8" height="250.4" rx="44" ry="39" fill="none" stroke="#111" stroke-width="1.9"/><polyline points="411,87 411,62.8 781.5,62.8 781.5,201" fill="none" stroke="#111" stroke-width="1.5"/><polyline points="633,422.7 781.4,422.7 781.4,346.5" fill="none" stroke="#111" stroke-width="1.5"/><line x1="161.6" y1="138.3" x2="351.8" y2="138.3" stroke="#111" stroke-width="1.6"/><polyline points="346.1,134.8 352.3,138.3 346.1,141.8" fill="none" stroke="#111" stroke-width="1.6" stroke-linejoin="miter"/><line x1="161.6" y1="185.3" x2="351.8" y2="185.3" stroke="#111" stroke-width="1.6"/><polyline points="346.1,181.8 352.3,185.3 346.1,188.8" fill="none" stroke="#111" stroke-width="1.6" stroke-linejoin="miter"/><line x1="465.6" y1="138.3" x2="517.1" y2="138.3" stroke="#111" stroke-width="1.6"/><polyline points="511.40000000000003,134.8 517.6,138.3 511.40000000000003,141.8" fill="none" stroke="#111" stroke-width="1.6" stroke-linejoin="miter"/><line x1="465.6" y1="185.2" x2="517.1" y2="185.2" stroke="#111" stroke-width="1.6"/><polyline points="511.40000000000003,181.7 517.6,185.2 511.40000000000003,188.7" fill="none" stroke="#111" stroke-width="1.6" stroke-linejoin="miter"/><line x1="226.8" y1="378.9" x2="261.8" y2="378.9" stroke="#111" stroke-width="1.6"/><polyline points="256.1,375.4 262.3,378.9 256.1,382.4" fill="none" stroke="#111" stroke-width="1.6" stroke-linejoin="miter"/><line x1="327.1" y1="378.9" x2="362.2" y2="378.9" stroke="#111" stroke-width="1.6"/><polyline points="356.5,375.4 362.7,378.9 356.5,382.4" fill="none" stroke="#111" stroke-width="1.6" stroke-linejoin="miter"/><line x1="431.3" y1="378.4" x2="466.4" y2="378.4" stroke="#111" stroke-width="1.6"/><polyline points="460.7,374.9 466.9,378.4 460.7,381.9" fill="none" stroke="#111" stroke-width="1.6" stroke-linejoin="miter"/><line x1="226.8" y1="486.3" x2="261.8" y2="486.3" stroke="#111" stroke-width="1.6"/><polyline points="256.1,482.8 262.3,486.3 256.1,489.8" fill="none" stroke="#111" stroke-width="1.6" stroke-linejoin="miter"/><line x1="327.1" y1="487.1" x2="362.2" y2="487.1" stroke="#111" stroke-width="1.6"/><polyline points="356.5,483.6 362.7,487.1 356.5,490.6" fill="none" stroke="#111" stroke-width="1.6" stroke-linejoin="miter"/><line x1="431.3" y1="486.2" x2="466.4" y2="486.2" stroke="#111" stroke-width="1.6"/><polyline points="460.7,482.7 466.9,486.2 460.7,489.7" fill="none" stroke="#111" stroke-width="1.6" stroke-linejoin="miter"/><polyline points="152.5,378.5 147.7,378.5 147.7,496.8 152.5,496.8" fill="none" stroke="#111" stroke-width="1.6"/><line x1="143.2" y1="437.6" x2="147.7" y2="437.6" stroke="#111" stroke-width="1.6"/><polyline points="540.9,373.9 547.3,373.9 547.3,490.3 540.9,490.3" fill="none" stroke="#111" stroke-width="1.6"/><line x1="547.3" y1="432.6" x2="553.8" y2="432.6" stroke="#111" stroke-width="1.6"/>
<rect x="198.3" y="64.5" width="102.79999999999998" height="201.20000000000002" rx="14" fill="none" stroke="#1e1416" stroke-width="1.9" stroke-dasharray="6 3.2"/><rect x="197.20000000000002" y="63.4" width="102.79999999999998" height="201.20000000000002" rx="14" fill="none" stroke="#cf3446" stroke-width="1.5" stroke-dasharray="6 3.2"/><rect x="49.4" y="398.79999999999995" width="87.4" height="84.80000000000001" rx="12" fill="none" stroke="#1e1416" stroke-width="1.9" stroke-dasharray="6 3.2"/><rect x="48.3" y="397.7" width="87.4" height="84.80000000000001" rx="12" fill="none" stroke="#cf3446" stroke-width="1.5" stroke-dasharray="6 3.2"/><rect x="365.29999999999995" y="340.9" width="66.10000000000002" height="186.5" rx="12" fill="none" stroke="#1e1416" stroke-width="1.9" stroke-dasharray="6 3.2"/><rect x="364.2" y="339.8" width="66.10000000000002" height="186.5" rx="12" fill="none" stroke="#cf3446" stroke-width="1.5" stroke-dasharray="6 3.2"/><rect x="689.6999999999999" y="201.8" width="195.80000000000007" height="145.6" rx="22" fill="none" stroke="#1e1416" stroke-width="1.9" stroke-dasharray="6 3.2"/><rect x="688.5999999999999" y="200.70000000000002" width="195.80000000000007" height="145.6" rx="22" fill="none" stroke="#cf3446" stroke-width="1.5" stroke-dasharray="6 3.2"/>
<text x="284.3" y="57.5" font-size="19" letter-spacing="3.80" fill="#333">农业产业链</text><text x="267.8" y="333.9" font-size="19" letter-spacing="1.81" fill="#333">光伏新能源产业链</text><text x="691.6" y="94.0" font-size="14" letter-spacing="2.10" fill="#333">水产养殖</text><text x="694.8" y="404.2" font-size="14" letter-spacing="2.17" fill="#333">光伏发电</text><text x="741.5" y="338.9" font-size="14" letter-spacing="2.10" fill="#333">渔光一体</text><text x="71.0" y="161.1" font-size="11" letter-spacing="2.47" fill="#404040">水产种苗</text><text x="71.7" y="231.0" font-size="11" letter-spacing="2.23" fill="#404040">畜禽种苗</text><text x="225.8" y="133.6" font-size="11" letter-spacing="2.57" fill="#404040">水产饲料</text><text x="228.2" y="255.3" font-size="11" letter-spacing="2.27" fill="#404040">畜禽饲料</text><text x="379.8" y="162.6" font-size="11" letter-spacing="2.60" fill="#404040">水产养殖</text><text x="384.5" y="232.6" font-size="11" letter-spacing="2.10" fill="#404040">畜禽养殖</text><text x="546.8" y="163.2" font-size="11" letter-spacing="2.43" fill="#404040">水产加工</text><text x="547.8" y="232.6" font-size="11" letter-spacing="2.07" fill="#404040">畜禽加工</text><text x="75.7" y="477.7" font-size="11" letter-spacing="1.15" fill="#404040">多晶硅</text><text x="169.8" y="416.8" font-size="11" letter-spacing="0.67" fill="#404040">单晶硅棒</text><text x="266.0" y="416.6" font-size="11" letter-spacing="0.73" fill="#404040">单晶硅片</text><text x="369.0" y="416.8" font-size="11" letter-spacing="0.42" fill="#404040">单晶电池片</text><text x="479.8" y="416.1" font-size="11" letter-spacing="0.67" fill="#404040">单晶组件</text><text x="577.3" y="468.4" font-size="11" letter-spacing="0.83" fill="#404040">光伏电站</text><text x="168.9" y="519.8" font-size="11" letter-spacing="0.73" fill="#404040">多晶硅锭</text><text x="269.3" y="520.0" font-size="11" letter-spacing="0.47" fill="#404040">多晶硅片</text><text x="368.3" y="522.0" font-size="11" letter-spacing="0.42" fill="#404040">多晶电池片</text><text x="479.8" y="522.8" font-size="11" letter-spacing="0.67" fill="#404040">多晶组件</text><text x="336" y="565" font-size="14" letter-spacing="1.5" fill="#888">图渔光互补产业链与农业光伏产业链关系示意图</text>
</svg></body></html>
